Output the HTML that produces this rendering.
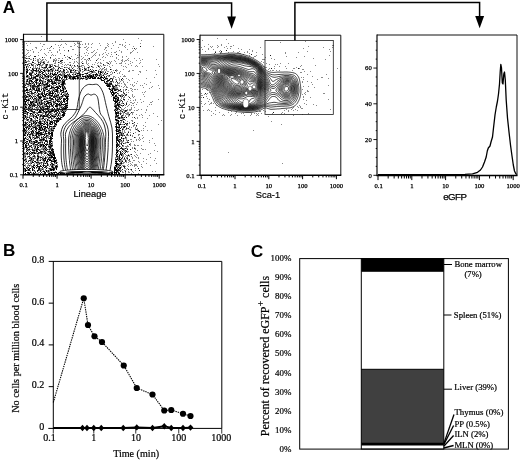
<!DOCTYPE html>
<html><head><meta charset="utf-8"><title>Figure</title>
<style>html,body{margin:0;padding:0;background:#fff}svg{display:block}</style>
</head><body>
<svg width="520" height="460" viewBox="0 0 520 460">
<rect width="520" height="460" fill="#fff"/>
<path d="M41 36.5h1M138 38.5h1M61 39.5h1M123 39.5h1M141 40.5h1M28 41.5h1M59 41.5h1M73 41.5h1M80 41.5h2M115 41.5h1M77 42.5h1M115 42.5h1M125 42.5h1M26 43.5h1M30 43.5h1M40 43.5h1M65 43.5h1M74 43.5h1M77 43.5h3M85 43.5h1M88 43.5h1M92 43.5h1M99 43.5h1M107 43.5h1M112 43.5h1M140 43.5h1M43 44.5h2M55 44.5h1M61 44.5h1M66 44.5h1M75 44.5h1M80 44.5h1M82 44.5h1M85 44.5h1M88 44.5h1M91 44.5h1M108 44.5h1M119 44.5h2M122 44.5h1M129 44.5h1M27 45.5h1M58 45.5h1M60 45.5h1M74 45.5h1M100 45.5h1M107 45.5h1M113 45.5h1M122 45.5h1M125 45.5h1M42 46.5h1M70 46.5h2M77 46.5h1M86 46.5h1M108 46.5h1M124 46.5h1M133 46.5h1M153 46.5h1M35 47.5h2M50 47.5h1M59 47.5h1M63 47.5h1M78 47.5h3M84 47.5h2M88 47.5h1M91 47.5h1M105 47.5h2M118 47.5h1M125 47.5h1M36 48.5h1M47 48.5h1M49 48.5h1M53 48.5h1M87 48.5h1M105 48.5h1M111 48.5h1M132 48.5h1M136 48.5h1M26 49.5h1M32 49.5h1M41 49.5h1M44 49.5h1M59 49.5h1M72 49.5h2M86 49.5h1M97 49.5h1M104 49.5h1M127 49.5h1M135 49.5h1M27 50.5h2M30 50.5h1M40 50.5h1M49 50.5h2M59 50.5h1M64 50.5h1M87 50.5h1M94 50.5h1M106 50.5h1M119 50.5h1M133 50.5h1M33 51.5h1M57 51.5h1M68 51.5h1M93 51.5h1M116 51.5h1M121 51.5h1M132 51.5h1M28 52.5h1M33 52.5h1M38 52.5h1M48 52.5h1M51 52.5h1M57 52.5h1M79 52.5h1M86 52.5h1M91 52.5h2M96 52.5h1M105 52.5h1M111 52.5h1M114 52.5h2M121 52.5h1M130 52.5h2M137 52.5h1M27 53.5h1M44 53.5h1M60 53.5h1M84 53.5h1M88 53.5h1M95 53.5h1M103 53.5h1M108 53.5h1M130 53.5h1M26 54.5h1M45 54.5h1M52 54.5h1M75 54.5h1M79 54.5h1M94 54.5h1M99 54.5h1M102 54.5h1M106 54.5h1M111 54.5h1M24 55.5h2M30 55.5h1M38 55.5h1M46 55.5h1M51 55.5h1M53 55.5h1M55 55.5h1M77 55.5h1M79 55.5h1M85 55.5h1M87 55.5h1M93 55.5h1M95 55.5h1M99 55.5h1M107 55.5h1M118 55.5h1M26 56.5h1M28 56.5h2M67 56.5h1M71 56.5h1M81 56.5h1M92 56.5h1M103 56.5h1M110 56.5h1M112 56.5h1M122 56.5h1M126 56.5h1M24 57.5h2M44 57.5h1M65 57.5h1M68 57.5h1M77 57.5h2M83 57.5h1M91 57.5h1M102 57.5h1M105 57.5h1M116 57.5h1M122 57.5h1M25 58.5h1M27 58.5h2M35 58.5h1M39 58.5h1M50 58.5h1M55 58.5h1M58 58.5h2M62 58.5h1M69 58.5h1M76 58.5h1M82 58.5h1M88 58.5h1M98 58.5h1M116 58.5h1M128 58.5h1M134 58.5h1M139 58.5h1M30 59.5h2M33 59.5h1M37 59.5h2M40 59.5h1M42 59.5h2M45 59.5h1M53 59.5h2M56 59.5h1M67 59.5h1M72 59.5h1M74 59.5h1M81 59.5h1M84 59.5h2M87 59.5h1M89 59.5h1M97 59.5h1M100 59.5h1M118 59.5h1M122 59.5h1M127 59.5h1M142 59.5h1M156 59.5h1M28 60.5h1M35 60.5h1M37 60.5h2M41 60.5h2M46 60.5h1M53 60.5h4M58 60.5h1M60 60.5h1M86 60.5h1M88 60.5h1M90 60.5h1M103 60.5h1M114 60.5h1M121 60.5h2M125 60.5h2M128 60.5h1M136 60.5h1M140 60.5h1M25 61.5h5M32 61.5h1M37 61.5h2M40 61.5h2M43 61.5h2M48 61.5h1M55 61.5h1M61 61.5h1M74 61.5h1M76 61.5h1M82 61.5h1M86 61.5h1M109 61.5h1M111 61.5h1M115 61.5h1M122 61.5h1M124 61.5h1M130 61.5h1M24 62.5h1M39 62.5h4M44 62.5h1M47 62.5h2M55 62.5h1M59 62.5h1M61 62.5h2M64 62.5h1M69 62.5h2M74 62.5h1M77 62.5h1M81 62.5h1M86 62.5h1M95 62.5h1M98 62.5h1M100 62.5h1M106 62.5h2M110 62.5h1M121 62.5h1M132 62.5h1M140 62.5h1M28 63.5h4M34 63.5h2M38 63.5h1M43 63.5h1M54 63.5h2M60 63.5h2M73 63.5h1M78 63.5h1M83 63.5h1M86 63.5h1M88 63.5h1M97 63.5h1M100 63.5h2M107 63.5h1M110 63.5h1M116 63.5h1M119 63.5h3M125 63.5h1M130 63.5h1M139 63.5h1M26 64.5h1M28 64.5h1M32 64.5h2M36 64.5h2M40 64.5h1M42 64.5h2M45 64.5h1M49 64.5h4M58 64.5h1M62 64.5h1M65 64.5h1M67 64.5h2M70 64.5h1M87 64.5h1M92 64.5h1M94 64.5h1M109 64.5h1M128 64.5h1M158 64.5h1M24 65.5h2M27 65.5h1M31 65.5h1M33 65.5h1M35 65.5h1M39 65.5h4M45 65.5h1M47 65.5h1M49 65.5h1M52 65.5h1M55 65.5h1M58 65.5h1M64 65.5h1M66 65.5h1M69 65.5h1M72 65.5h1M81 65.5h3M88 65.5h1M97 65.5h2M100 65.5h1M103 65.5h3M107 65.5h1M112 65.5h1M121 65.5h1M131 65.5h1M136 65.5h1M27 66.5h2M33 66.5h1M35 66.5h1M39 66.5h1M41 66.5h1M45 66.5h1M49 66.5h1M52 66.5h1M56 66.5h3M61 66.5h2M71 66.5h1M74 66.5h2M77 66.5h2M80 66.5h2M84 66.5h1M89 66.5h1M92 66.5h1M99 66.5h1M101 66.5h1M109 66.5h1M123 66.5h1M125 66.5h1M135 66.5h1M137 66.5h1M142 66.5h1M159 66.5h1M28 67.5h1M33 67.5h1M35 67.5h1M37 67.5h1M39 67.5h1M41 67.5h1M43 67.5h1M48 67.5h1M58 67.5h1M65 67.5h3M69 67.5h1M71 67.5h1M73 67.5h1M78 67.5h1M82 67.5h1M84 67.5h1M87 67.5h1M89 67.5h1M92 67.5h2M96 67.5h1M99 67.5h1M110 67.5h1M126 67.5h1M24 68.5h1M26 68.5h2M33 68.5h3M37 68.5h2M43 68.5h3M51 68.5h4M61 68.5h2M69 68.5h1M77 68.5h1M80 68.5h1M85 68.5h2M88 68.5h1M100 68.5h1M102 68.5h2M106 68.5h1M38 69.5h5M44 69.5h1M46 69.5h3M52 69.5h2M55 69.5h1M57 69.5h2M64 69.5h1M70 69.5h2M73 69.5h2M79 69.5h2M84 69.5h1M86 69.5h1M88 69.5h1M92 69.5h1M99 69.5h1M101 69.5h2M104 69.5h3M111 69.5h1M116 69.5h1M123 69.5h1M24 70.5h1M26 70.5h1M28 70.5h1M30 70.5h1M32 70.5h1M37 70.5h1M45 70.5h1M47 70.5h1M50 70.5h2M53 70.5h1M56 70.5h1M58 70.5h1M67 70.5h1M72 70.5h1M76 70.5h2M85 70.5h3M89 70.5h1M91 70.5h1M98 70.5h1M101 70.5h1M104 70.5h1M106 70.5h1M113 70.5h1M116 70.5h2M129 70.5h1M132 70.5h2M146 70.5h1M155 70.5h1M25 71.5h1M31 71.5h1M33 71.5h1M35 71.5h1M37 71.5h2M40 71.5h1M42 71.5h1M45 71.5h1M47 71.5h1M49 71.5h3M54 71.5h1M58 71.5h1M60 71.5h3M64 71.5h1M67 71.5h2M71 71.5h1M74 71.5h2M78 71.5h1M80 71.5h1M82 71.5h2M89 71.5h1M93 71.5h2M99 71.5h1M101 71.5h3M105 71.5h1M107 71.5h2M111 71.5h1M116 71.5h1M120 71.5h1M128 71.5h2M139 71.5h2M25 72.5h1M29 72.5h3M33 72.5h1M36 72.5h1M38 72.5h1M45 72.5h1M48 72.5h1M50 72.5h1M52 72.5h1M58 72.5h2M61 72.5h3M67 72.5h2M72 72.5h5M78 72.5h1M82 72.5h1M87 72.5h3M91 72.5h1M93 72.5h3M102 72.5h2M110 72.5h1M112 72.5h1M119 72.5h1M140 72.5h1M32 73.5h1M34 73.5h1M38 73.5h2M41 73.5h1M45 73.5h2M51 73.5h1M55 73.5h1M60 73.5h1M62 73.5h4M69 73.5h1M73 73.5h1M75 73.5h2M80 73.5h1M84 73.5h1M90 73.5h2M98 73.5h2M102 73.5h1M106 73.5h1M112 73.5h1M117 73.5h1M119 73.5h1M25 74.5h2M34 74.5h1M37 74.5h1M39 74.5h1M42 74.5h1M47 74.5h1M49 74.5h1M58 74.5h1M61 74.5h3M68 74.5h1M73 74.5h2M77 74.5h1M81 74.5h1M86 74.5h1M88 74.5h1M90 74.5h1M92 74.5h1M94 74.5h1M99 74.5h1M101 74.5h1M103 74.5h4M110 74.5h2M122 74.5h1M138 74.5h1M156 74.5h1M24 75.5h1M26 75.5h1M28 75.5h1M32 75.5h2M39 75.5h4M47 75.5h1M49 75.5h3M54 75.5h4M60 75.5h1M62 75.5h2M67 75.5h1M69 75.5h1M73 75.5h1M82 75.5h1M85 75.5h2M88 75.5h1M92 75.5h1M96 75.5h1M98 75.5h1M100 75.5h3M107 75.5h2M124 75.5h1M25 76.5h1M28 76.5h2M33 76.5h2M38 76.5h2M44 76.5h1M49 76.5h1M51 76.5h1M56 76.5h1M58 76.5h1M62 76.5h2M67 76.5h2M72 76.5h1M78 76.5h1M86 76.5h1M94 76.5h2M99 76.5h2M108 76.5h2M113 76.5h2M120 76.5h1M123 76.5h3M26 77.5h4M32 77.5h1M40 77.5h1M42 77.5h6M50 77.5h1M53 77.5h1M56 77.5h1M67 77.5h1M71 77.5h1M75 77.5h1M80 77.5h2M83 77.5h1M87 77.5h1M89 77.5h1M93 77.5h1M97 77.5h1M103 77.5h1M105 77.5h2M113 77.5h1M115 77.5h1M118 77.5h1M154 77.5h1M28 78.5h1M32 78.5h1M34 78.5h1M36 78.5h2M39 78.5h2M44 78.5h1M46 78.5h2M50 78.5h1M62 78.5h1M64 78.5h1M68 78.5h1M71 78.5h1M76 78.5h1M84 78.5h3M88 78.5h1M101 78.5h1M112 78.5h2M119 78.5h1M126 78.5h1M132 78.5h1M146 78.5h1M25 79.5h2M28 79.5h3M33 79.5h1M35 79.5h1M38 79.5h2M43 79.5h1M46 79.5h2M49 79.5h1M52 79.5h3M58 79.5h2M61 79.5h2M64 79.5h2M67 79.5h1M70 79.5h3M75 79.5h1M77 79.5h1M79 79.5h2M82 79.5h1M85 79.5h1M87 79.5h1M100 79.5h1M105 79.5h3M110 79.5h1M115 79.5h2M119 79.5h1M123 79.5h1M128 79.5h1M26 80.5h1M42 80.5h2M52 80.5h1M54 80.5h1M63 80.5h1M65 80.5h1M104 80.5h1M116 80.5h1M119 80.5h1M121 80.5h2M129 80.5h1M25 81.5h1M28 81.5h1M30 81.5h1M35 81.5h1M40 81.5h2M43 81.5h2M47 81.5h1M53 81.5h1M56 81.5h1M58 81.5h4M108 81.5h1M112 81.5h2M120 81.5h1M123 81.5h1M137 81.5h1M24 82.5h1M26 82.5h1M28 82.5h1M31 82.5h2M37 82.5h2M43 82.5h3M48 82.5h2M51 82.5h1M53 82.5h1M56 82.5h6M105 82.5h3M109 82.5h3M113 82.5h1M115 82.5h1M119 82.5h1M123 82.5h1M127 82.5h1M134 82.5h1M150 82.5h1M24 83.5h2M27 83.5h2M31 83.5h1M33 83.5h2M37 83.5h2M41 83.5h1M43 83.5h1M45 83.5h1M48 83.5h1M56 83.5h1M61 83.5h1M65 83.5h1M108 83.5h1M117 83.5h3M121 83.5h1M124 83.5h1M136 83.5h1M144 83.5h1M25 84.5h2M29 84.5h3M33 84.5h1M38 84.5h1M41 84.5h2M53 84.5h1M58 84.5h1M60 84.5h1M64 84.5h2M106 84.5h1M112 84.5h1M115 84.5h1M117 84.5h1M124 84.5h2M130 84.5h1M132 84.5h1M146 84.5h1M24 85.5h1M28 85.5h2M31 85.5h1M35 85.5h1M41 85.5h3M45 85.5h2M50 85.5h2M53 85.5h3M58 85.5h1M61 85.5h1M110 85.5h1M113 85.5h1M117 85.5h3M125 85.5h1M132 85.5h1M134 85.5h1M140 85.5h1M142 85.5h1M158 85.5h1M27 86.5h2M31 86.5h1M39 86.5h1M41 86.5h1M43 86.5h3M52 86.5h2M58 86.5h1M61 86.5h1M63 86.5h1M115 86.5h2M119 86.5h1M121 86.5h1M124 86.5h1M126 86.5h1M133 86.5h1M152 86.5h1M30 87.5h2M34 87.5h3M38 87.5h2M41 87.5h1M43 87.5h1M47 87.5h1M54 87.5h1M63 87.5h1M65 87.5h1M109 87.5h1M112 87.5h1M114 87.5h4M123 87.5h1M126 87.5h2M143 87.5h1M151 87.5h1M26 88.5h2M37 88.5h1M41 88.5h2M44 88.5h1M46 88.5h2M49 88.5h1M52 88.5h2M64 88.5h1M108 88.5h1M111 88.5h1M115 88.5h3M130 88.5h2M149 88.5h1M159 88.5h1M24 89.5h1M31 89.5h2M37 89.5h1M44 89.5h2M49 89.5h1M52 89.5h3M62 89.5h1M64 89.5h2M111 89.5h1M113 89.5h1M118 89.5h1M123 89.5h1M125 89.5h1M132 89.5h1M134 89.5h2M137 89.5h1M28 90.5h2M31 90.5h2M34 90.5h1M41 90.5h1M45 90.5h1M51 90.5h2M54 90.5h2M58 90.5h1M110 90.5h1M116 90.5h1M120 90.5h1M123 90.5h1M125 90.5h1M128 90.5h1M131 90.5h1M25 91.5h1M27 91.5h1M29 91.5h1M35 91.5h1M38 91.5h1M42 91.5h2M46 91.5h1M48 91.5h2M51 91.5h1M58 91.5h1M61 91.5h1M64 91.5h1M113 91.5h1M117 91.5h2M120 91.5h1M123 91.5h1M132 91.5h1M145 91.5h1M24 92.5h1M29 92.5h1M32 92.5h1M41 92.5h1M48 92.5h1M53 92.5h2M58 92.5h2M61 92.5h1M64 92.5h2M67 92.5h1M110 92.5h1M114 92.5h1M126 92.5h1M128 92.5h1M142 92.5h1M144 92.5h1M25 93.5h1M27 93.5h1M29 93.5h2M34 93.5h1M36 93.5h1M39 93.5h2M43 93.5h1M48 93.5h1M57 93.5h1M59 93.5h1M64 93.5h3M115 93.5h1M118 93.5h1M123 93.5h1M25 94.5h1M29 94.5h1M31 94.5h2M34 94.5h2M37 94.5h1M40 94.5h1M50 94.5h1M54 94.5h4M60 94.5h1M64 94.5h2M67 94.5h1M111 94.5h1M114 94.5h1M116 94.5h1M118 94.5h1M121 94.5h2M124 94.5h2M132 94.5h1M143 94.5h1M24 95.5h1M26 95.5h1M28 95.5h1M32 95.5h1M34 95.5h1M36 95.5h1M40 95.5h1M46 95.5h1M48 95.5h1M55 95.5h1M63 95.5h1M66 95.5h3M118 95.5h1M121 95.5h2M126 95.5h1M132 95.5h1M25 96.5h1M28 96.5h1M30 96.5h1M34 96.5h1M37 96.5h1M41 96.5h2M49 96.5h2M52 96.5h1M57 96.5h4M63 96.5h1M111 96.5h1M113 96.5h2M117 96.5h1M121 96.5h1M124 96.5h1M128 96.5h1M132 96.5h1M134 96.5h1M144 96.5h1M24 97.5h1M27 97.5h2M30 97.5h2M34 97.5h1M43 97.5h5M55 97.5h2M58 97.5h1M60 97.5h3M115 97.5h2M121 97.5h1M123 97.5h2M133 97.5h1M28 98.5h2M36 98.5h3M43 98.5h1M45 98.5h2M48 98.5h1M57 98.5h2M60 98.5h1M65 98.5h1M68 98.5h1M117 98.5h1M121 98.5h1M123 98.5h1M130 98.5h1M27 99.5h1M29 99.5h1M31 99.5h1M34 99.5h2M37 99.5h1M39 99.5h3M46 99.5h1M50 99.5h1M56 99.5h1M59 99.5h1M68 99.5h1M116 99.5h1M120 99.5h1M128 99.5h1M135 99.5h1M140 99.5h1M158 99.5h1M33 100.5h3M37 100.5h1M39 100.5h2M46 100.5h3M51 100.5h1M53 100.5h1M55 100.5h1M58 100.5h2M61 100.5h1M114 100.5h1M116 100.5h1M119 100.5h2M124 100.5h1M130 100.5h1M133 100.5h1M135 100.5h1M28 101.5h1M31 101.5h1M34 101.5h2M37 101.5h4M45 101.5h1M48 101.5h1M50 101.5h3M54 101.5h1M60 101.5h1M65 101.5h2M119 101.5h2M127 101.5h1M143 101.5h1M152 101.5h1M27 102.5h2M33 102.5h2M37 102.5h2M40 102.5h1M42 102.5h4M51 102.5h1M55 102.5h1M58 102.5h1M61 102.5h1M117 102.5h2M122 102.5h1M126 102.5h1M130 102.5h2M134 102.5h1M137 102.5h1M141 102.5h1M150 102.5h2M24 103.5h1M27 103.5h2M32 103.5h1M34 103.5h1M38 103.5h1M40 103.5h1M43 103.5h1M49 103.5h2M53 103.5h2M60 103.5h1M114 103.5h1M118 103.5h2M121 103.5h2M132 103.5h2M30 104.5h1M32 104.5h1M35 104.5h1M38 104.5h2M42 104.5h1M48 104.5h2M54 104.5h1M60 104.5h1M66 104.5h2M114 104.5h3M120 104.5h1M124 104.5h1M129 104.5h1M136 104.5h1M149 104.5h1M151 104.5h1M24 105.5h4M31 105.5h1M36 105.5h2M39 105.5h2M42 105.5h4M47 105.5h1M53 105.5h1M58 105.5h1M61 105.5h1M63 105.5h1M114 105.5h1M119 105.5h2M122 105.5h1M125 105.5h1M128 105.5h1M131 105.5h1M133 105.5h1M26 106.5h1M28 106.5h1M30 106.5h2M33 106.5h1M40 106.5h2M43 106.5h2M50 106.5h2M53 106.5h1M59 106.5h4M67 106.5h1M122 106.5h1M127 106.5h1M147 106.5h1M29 107.5h1M31 107.5h2M35 107.5h1M37 107.5h3M41 107.5h1M44 107.5h1M48 107.5h1M56 107.5h2M59 107.5h2M62 107.5h1M64 107.5h1M117 107.5h3M125 107.5h1M131 107.5h1M134 107.5h1M25 108.5h3M30 108.5h2M34 108.5h1M36 108.5h3M42 108.5h1M44 108.5h1M49 108.5h1M51 108.5h1M56 108.5h1M58 108.5h1M61 108.5h1M115 108.5h1M121 108.5h1M124 108.5h1M131 108.5h1M27 109.5h1M29 109.5h2M35 109.5h1M38 109.5h1M45 109.5h2M51 109.5h1M53 109.5h1M56 109.5h2M114 109.5h1M116 109.5h1M118 109.5h1M121 109.5h3M127 109.5h1M129 109.5h3M138 109.5h1M141 109.5h1M146 109.5h1M24 110.5h1M29 110.5h1M32 110.5h1M35 110.5h2M41 110.5h1M45 110.5h1M47 110.5h1M49 110.5h2M54 110.5h1M60 110.5h2M63 110.5h4M115 110.5h1M117 110.5h1M121 110.5h1M123 110.5h2M127 110.5h1M129 110.5h2M134 110.5h1M136 110.5h2M146 110.5h1M29 111.5h2M33 111.5h1M38 111.5h1M41 111.5h1M45 111.5h1M53 111.5h1M59 111.5h2M62 111.5h1M64 111.5h1M117 111.5h5M124 111.5h1M126 111.5h1M24 112.5h3M32 112.5h1M35 112.5h3M42 112.5h3M47 112.5h2M51 112.5h1M56 112.5h1M61 112.5h1M120 112.5h1M122 112.5h2M127 112.5h2M132 112.5h2M145 112.5h1M26 113.5h1M29 113.5h1M32 113.5h3M36 113.5h1M42 113.5h2M46 113.5h1M49 113.5h4M55 113.5h1M57 113.5h2M60 113.5h1M65 113.5h1M119 113.5h1M121 113.5h1M123 113.5h1M125 113.5h4M130 113.5h1M132 113.5h1M153 113.5h1M26 114.5h1M33 114.5h1M37 114.5h1M39 114.5h4M46 114.5h1M51 114.5h1M53 114.5h2M60 114.5h1M115 114.5h1M118 114.5h1M123 114.5h1M126 114.5h3M132 114.5h1M136 114.5h1M141 114.5h1M27 115.5h1M29 115.5h4M34 115.5h1M37 115.5h1M42 115.5h1M45 115.5h1M48 115.5h1M53 115.5h5M59 115.5h3M115 115.5h1M121 115.5h1M123 115.5h1M125 115.5h1M128 115.5h2M139 115.5h1M142 115.5h1M149 115.5h1M24 116.5h1M26 116.5h2M29 116.5h4M34 116.5h1M39 116.5h1M41 116.5h1M48 116.5h1M51 116.5h1M59 116.5h2M62 116.5h1M118 116.5h1M122 116.5h1M125 116.5h1M128 116.5h1M157 116.5h1M24 117.5h1M26 117.5h1M28 117.5h1M35 117.5h1M39 117.5h2M42 117.5h1M47 117.5h1M51 117.5h1M53 117.5h1M56 117.5h1M62 117.5h1M116 117.5h2M120 117.5h1M123 117.5h1M132 117.5h1M137 117.5h1M142 117.5h1M29 118.5h1M34 118.5h2M39 118.5h3M45 118.5h2M48 118.5h2M52 118.5h2M55 118.5h1M115 118.5h1M117 118.5h1M120 118.5h4M135 118.5h1M137 118.5h1M147 118.5h1M24 119.5h3M30 119.5h1M32 119.5h1M35 119.5h1M40 119.5h3M45 119.5h1M48 119.5h1M51 119.5h2M56 119.5h1M58 119.5h1M61 119.5h1M117 119.5h1M122 119.5h1M26 120.5h1M28 120.5h1M32 120.5h4M39 120.5h2M42 120.5h2M48 120.5h1M51 120.5h1M59 120.5h1M115 120.5h1M122 120.5h1M125 120.5h1M131 120.5h2M161 120.5h1M25 121.5h1M28 121.5h5M34 121.5h1M37 121.5h1M41 121.5h3M45 121.5h3M49 121.5h1M55 121.5h1M116 121.5h2M119 121.5h1M121 121.5h1M127 121.5h1M132 121.5h1M24 122.5h1M26 122.5h1M30 122.5h2M35 122.5h1M37 122.5h1M41 122.5h1M49 122.5h1M53 122.5h1M57 122.5h1M115 122.5h2M120 122.5h2M124 122.5h1M129 122.5h1M145 122.5h1M28 123.5h1M32 123.5h1M34 123.5h1M38 123.5h1M43 123.5h2M56 123.5h1M120 123.5h1M126 123.5h1M129 123.5h1M133 123.5h1M137 123.5h1M26 124.5h1M30 124.5h1M32 124.5h1M34 124.5h1M37 124.5h3M41 124.5h1M48 124.5h2M52 124.5h1M54 124.5h1M115 124.5h1M121 124.5h3M127 124.5h1M134 124.5h1M158 124.5h1M26 125.5h1M33 125.5h4M40 125.5h1M48 125.5h2M55 125.5h2M118 125.5h1M126 125.5h2M133 125.5h2M143 125.5h1M24 126.5h3M28 126.5h1M31 126.5h1M33 126.5h2M36 126.5h3M40 126.5h1M52 126.5h1M117 126.5h2M121 126.5h3M129 126.5h1M133 126.5h1M136 126.5h1M145 126.5h1M28 127.5h3M32 127.5h1M38 127.5h1M42 127.5h3M51 127.5h4M115 127.5h1M126 127.5h1M129 127.5h1M131 127.5h1M135 127.5h1M32 128.5h2M41 128.5h1M47 128.5h1M49 128.5h2M52 128.5h1M118 128.5h2M122 128.5h2M127 128.5h1M135 128.5h1M137 128.5h1M143 128.5h1M25 129.5h2M30 129.5h1M33 129.5h1M41 129.5h1M45 129.5h2M48 129.5h3M52 129.5h2M118 129.5h1M123 129.5h1M125 129.5h2M129 129.5h2M135 129.5h1M137 129.5h1M26 130.5h2M29 130.5h1M33 130.5h2M38 130.5h2M42 130.5h2M45 130.5h1M48 130.5h1M50 130.5h1M115 130.5h1M117 130.5h1M122 130.5h1M124 130.5h1M130 130.5h1M137 130.5h1M141 130.5h1M143 130.5h1M147 130.5h1M151 130.5h1M25 131.5h1M28 131.5h1M30 131.5h1M36 131.5h1M43 131.5h2M47 131.5h7M119 131.5h2M122 131.5h1M124 131.5h1M128 131.5h1M138 131.5h1M24 132.5h1M26 132.5h3M32 132.5h1M35 132.5h1M39 132.5h1M42 132.5h1M116 132.5h1M118 132.5h1M121 132.5h2M124 132.5h2M130 132.5h1M135 132.5h1M24 133.5h1M26 133.5h1M30 133.5h1M33 133.5h3M42 133.5h1M44 133.5h1M47 133.5h1M119 133.5h2M122 133.5h1M127 133.5h1M25 134.5h1M28 134.5h1M31 134.5h1M33 134.5h1M35 134.5h1M37 134.5h1M39 134.5h1M45 134.5h2M48 134.5h1M117 134.5h1M119 134.5h2M122 134.5h2M126 134.5h1M130 134.5h1M138 134.5h2M29 135.5h2M34 135.5h1M40 135.5h2M48 135.5h1M50 135.5h1M120 135.5h1M123 135.5h1M126 135.5h3M132 135.5h1M138 135.5h1M142 135.5h1M26 136.5h1M28 136.5h1M30 136.5h1M32 136.5h1M34 136.5h1M38 136.5h2M41 136.5h1M45 136.5h1M47 136.5h3M51 136.5h1M122 136.5h1M125 136.5h1M132 136.5h1M27 137.5h1M32 137.5h1M34 137.5h2M39 137.5h1M42 137.5h2M46 137.5h3M118 137.5h2M126 137.5h1M135 137.5h1M139 137.5h1M143 137.5h1M26 138.5h1M28 138.5h1M32 138.5h1M36 138.5h2M41 138.5h2M44 138.5h1M48 138.5h1M118 138.5h1M122 138.5h1M124 138.5h3M139 138.5h1M142 138.5h1M152 138.5h1M26 139.5h1M28 139.5h1M30 139.5h1M33 139.5h2M39 139.5h1M46 139.5h1M118 139.5h1M123 139.5h1M126 139.5h1M130 139.5h2M136 139.5h1M138 139.5h1M140 139.5h1M25 140.5h1M28 140.5h1M31 140.5h1M37 140.5h1M42 140.5h1M44 140.5h1M47 140.5h1M51 140.5h1M119 140.5h2M126 140.5h2M136 140.5h1M139 140.5h1M149 140.5h1M24 141.5h1M30 141.5h1M32 141.5h1M35 141.5h1M40 141.5h3M52 141.5h1M120 141.5h4M127 141.5h1M131 141.5h1M133 141.5h1M143 141.5h1M24 142.5h1M26 142.5h2M30 142.5h4M37 142.5h1M41 142.5h1M52 142.5h1M117 142.5h1M121 142.5h2M125 142.5h2M149 142.5h1M27 143.5h1M30 143.5h1M32 143.5h1M37 143.5h1M39 143.5h2M42 143.5h1M46 143.5h2M50 143.5h1M52 143.5h1M116 143.5h1M119 143.5h2M124 143.5h2M130 143.5h1M154 143.5h1M26 144.5h1M32 144.5h1M34 144.5h1M39 144.5h1M48 144.5h1M51 144.5h2M119 144.5h1M130 144.5h1M134 144.5h1M27 145.5h4M33 145.5h5M39 145.5h1M42 145.5h1M48 145.5h2M119 145.5h1M123 145.5h1M127 145.5h1M130 145.5h1M134 145.5h2M137 145.5h2M141 145.5h1M155 145.5h1M31 146.5h1M33 146.5h2M39 146.5h1M41 146.5h2M44 146.5h1M52 146.5h1M120 146.5h1M122 146.5h2M125 146.5h4M24 147.5h1M27 147.5h1M29 147.5h1M32 147.5h1M34 147.5h1M40 147.5h1M42 147.5h3M46 147.5h1M48 147.5h1M51 147.5h1M118 147.5h1M126 147.5h1M132 147.5h1M134 147.5h1M24 148.5h1M26 148.5h1M29 148.5h1M32 148.5h1M35 148.5h2M41 148.5h3M45 148.5h1M49 148.5h1M51 148.5h1M116 148.5h2M123 148.5h2M126 148.5h2M132 148.5h1M135 148.5h1M141 148.5h1M24 149.5h1M27 149.5h1M30 149.5h2M33 149.5h3M39 149.5h4M44 149.5h1M46 149.5h1M48 149.5h1M50 149.5h1M117 149.5h1M124 149.5h1M135 149.5h1M142 149.5h2M145 149.5h1M26 150.5h1M28 150.5h2M35 150.5h1M37 150.5h1M40 150.5h1M43 150.5h3M49 150.5h1M53 150.5h1M121 150.5h1M123 150.5h2M126 150.5h1M137 150.5h1M154 150.5h1M28 151.5h1M33 151.5h2M43 151.5h1M45 151.5h1M47 151.5h1M51 151.5h1M116 151.5h1M118 151.5h2M124 151.5h2M127 151.5h2M134 151.5h1M157 151.5h1M24 152.5h2M35 152.5h2M42 152.5h3M46 152.5h1M48 152.5h2M121 152.5h1M123 152.5h1M127 152.5h1M135 152.5h1M25 153.5h1M28 153.5h2M31 153.5h1M33 153.5h1M36 153.5h1M39 153.5h2M42 153.5h1M46 153.5h2M54 153.5h1M118 153.5h1M121 153.5h1M140 153.5h1M150 153.5h1M24 154.5h3M33 154.5h1M37 154.5h2M41 154.5h1M43 154.5h1M49 154.5h1M51 154.5h1M115 154.5h2M119 154.5h1M122 154.5h2M125 154.5h1M128 154.5h1M130 154.5h1M136 154.5h1M148 154.5h1M24 155.5h2M29 155.5h2M33 155.5h1M38 155.5h1M41 155.5h1M44 155.5h1M46 155.5h1M52 155.5h1M117 155.5h1M122 155.5h2M126 155.5h2M129 155.5h1M134 155.5h1M137 155.5h1M24 156.5h1M27 156.5h1M32 156.5h1M35 156.5h1M39 156.5h2M42 156.5h2M45 156.5h1M47 156.5h1M49 156.5h2M118 156.5h1M122 156.5h2M125 156.5h1M127 156.5h1M129 156.5h1M131 156.5h1M135 156.5h1M24 157.5h2M27 157.5h1M29 157.5h1M31 157.5h2M34 157.5h2M37 157.5h1M39 157.5h1M42 157.5h2M46 157.5h3M115 157.5h4M120 157.5h1M124 157.5h1M126 157.5h2M132 157.5h1M136 157.5h1M138 157.5h1M150 157.5h1M25 158.5h2M30 158.5h1M32 158.5h1M34 158.5h2M40 158.5h1M43 158.5h1M46 158.5h1M49 158.5h3M115 158.5h1M118 158.5h1M122 158.5h1M126 158.5h1M132 158.5h1M138 158.5h1M143 158.5h1M155 158.5h1M24 159.5h1M26 159.5h1M30 159.5h1M32 159.5h2M36 159.5h1M38 159.5h1M40 159.5h3M44 159.5h1M52 159.5h1M56 159.5h1M118 159.5h1M121 159.5h1M123 159.5h3M127 159.5h1M146 159.5h1M25 160.5h2M28 160.5h1M31 160.5h2M36 160.5h1M38 160.5h2M42 160.5h1M52 160.5h2M115 160.5h2M119 160.5h4M126 160.5h1M128 160.5h2M133 160.5h2M154 160.5h1M25 161.5h1M30 161.5h2M37 161.5h2M43 161.5h1M48 161.5h1M56 161.5h1M117 161.5h1M120 161.5h2M126 161.5h1M129 161.5h2M138 161.5h1M143 161.5h1M25 162.5h1M27 162.5h1M30 162.5h2M35 162.5h1M39 162.5h2M42 162.5h3M47 162.5h1M50 162.5h2M55 162.5h1M57 162.5h1M115 162.5h1M120 162.5h1M123 162.5h2M126 162.5h1M128 162.5h1M132 162.5h1M139 162.5h1M24 163.5h1M26 163.5h5M34 163.5h1M36 163.5h3M40 163.5h2M44 163.5h1M46 163.5h1M54 163.5h2M118 163.5h2M122 163.5h2M130 163.5h1M146 163.5h1M156 163.5h1M25 164.5h1M28 164.5h1M30 164.5h1M33 164.5h2M38 164.5h2M41 164.5h1M48 164.5h1M51 164.5h1M54 164.5h1M57 164.5h1M119 164.5h3M128 164.5h1M131 164.5h1M134 164.5h3M141 164.5h1M25 165.5h1M27 165.5h2M30 165.5h2M42 165.5h1M45 165.5h2M48 165.5h1M50 165.5h2M53 165.5h3M57 165.5h1M117 165.5h2M122 165.5h3M127 165.5h1M130 165.5h1M132 165.5h1M134 165.5h3M150 165.5h1M25 166.5h1M27 166.5h1M29 166.5h1M31 166.5h1M35 166.5h1M49 166.5h1M53 166.5h1M114 166.5h2M117 166.5h3M121 166.5h1M125 166.5h1M128 166.5h1M134 166.5h1M137 166.5h1M141 166.5h1M27 167.5h1M31 167.5h2M37 167.5h2M46 167.5h2M51 167.5h1M54 167.5h1M57 167.5h1M116 167.5h2M119 167.5h1M121 167.5h1M142 167.5h1M25 168.5h2M36 168.5h1M40 168.5h4M48 168.5h1M51 168.5h2M55 168.5h1M124 168.5h2M127 168.5h1M135 168.5h1M24 169.5h1M27 169.5h1M33 169.5h1M40 169.5h2M43 169.5h1M45 169.5h1M49 169.5h1M117 169.5h1M119 169.5h2M126 169.5h1M130 169.5h1M24 170.5h1M27 170.5h1M30 170.5h1M33 170.5h1M39 170.5h1M41 170.5h1M43 170.5h1M45 170.5h1M47 170.5h1M49 170.5h1M52 170.5h1M54 170.5h1M120 170.5h2M124 170.5h2M131 170.5h1M135 170.5h1M24 171.5h1M30 171.5h1M34 171.5h2M42 171.5h1M47 171.5h1M49 171.5h1M55 171.5h1M61 171.5h1M65 171.5h1M67 171.5h1M75 171.5h1M82 171.5h1M87 171.5h1M97 171.5h3M110 171.5h1M112 171.5h1M118 171.5h1M122 171.5h1M128 171.5h1M132 171.5h1M152 171.5h1M155 171.5h1M29 172.5h1M31 172.5h1M38 172.5h2M47 172.5h4M52 172.5h1M58 172.5h1M63 172.5h1M67 172.5h1M72 172.5h1M78 172.5h2M88 172.5h1M91 172.5h1M93 172.5h1M97 172.5h1M100 172.5h1M102 172.5h1M108 172.5h1M113 172.5h1M117 172.5h1M119 172.5h1M122 172.5h2M125 172.5h1M128 172.5h2M133 172.5h1M27 173.5h1M31 173.5h2M35 173.5h4M42 173.5h2M50 173.5h1M53 173.5h1M56 173.5h1M59 173.5h1M69 173.5h2M74 173.5h1M81 173.5h1M85 173.5h1M97 173.5h1M102 173.5h1M110 173.5h1M115 173.5h1M125 173.5h1M131 173.5h1M138 173.5h1" stroke="#8a8a8a" stroke-width="1" fill="none"/>
<path d="M51 46.5h1M140 46.5h1M134 48.5h1M68 50.5h1M116 54.5h1M64 55.5h1M34 56.5h2M42 57.5h1M50 57.5h1M69 57.5h1M26 58.5h1M29 58.5h1M33 58.5h1M70 58.5h1M89 58.5h1M33 60.5h1M61 60.5h2M96 60.5h1M53 61.5h1M25 62.5h2M33 62.5h1M38 62.5h1M58 62.5h1M44 63.5h1M108 63.5h1M27 64.5h1M46 64.5h2M103 64.5h1M29 65.5h1M32 65.5h1M37 65.5h1M46 65.5h1M50 65.5h1M54 65.5h1M70 65.5h1M74 65.5h1M77 65.5h1M26 66.5h1M50 66.5h2M55 66.5h1M79 66.5h1M91 66.5h1M30 67.5h1M42 67.5h1M44 67.5h3M49 67.5h2M53 67.5h1M59 67.5h1M64 67.5h1M104 67.5h1M32 68.5h1M36 68.5h1M39 68.5h1M47 68.5h1M60 68.5h1M68 68.5h1M72 68.5h1M79 68.5h1M84 68.5h1M24 69.5h4M29 69.5h1M32 69.5h2M63 69.5h1M66 69.5h1M69 69.5h1M82 69.5h1M90 69.5h1M27 70.5h1M31 70.5h1M34 70.5h1M36 70.5h1M40 70.5h1M46 70.5h1M49 70.5h1M52 70.5h1M55 70.5h1M60 70.5h1M63 70.5h2M70 70.5h2M73 70.5h1M80 70.5h1M84 70.5h1M88 70.5h1M93 70.5h1M95 70.5h2M115 70.5h1M27 71.5h1M32 71.5h1M36 71.5h1M39 71.5h1M48 71.5h1M52 71.5h1M63 71.5h1M90 71.5h1M92 71.5h1M26 72.5h1M39 72.5h2M42 72.5h2M55 72.5h1M57 72.5h1M64 72.5h1M66 72.5h1M70 72.5h2M79 72.5h1M92 72.5h1M98 72.5h1M105 72.5h1M26 73.5h1M29 73.5h3M52 73.5h1M54 73.5h1M79 73.5h1M85 73.5h2M96 73.5h1M100 73.5h1M104 73.5h1M30 74.5h2M40 74.5h1M44 74.5h1M50 74.5h1M53 74.5h1M60 74.5h1M64 74.5h1M67 74.5h1M69 74.5h1M72 74.5h1M79 74.5h1M83 74.5h1M89 74.5h1M93 74.5h1M97 74.5h1M100 74.5h1M30 75.5h2M37 75.5h2M44 75.5h1M48 75.5h1M61 75.5h1M68 75.5h1M70 75.5h1M76 75.5h5M89 75.5h2M95 75.5h1M97 75.5h1M109 75.5h1M24 76.5h1M31 76.5h1M35 76.5h2M40 76.5h1M45 76.5h3M50 76.5h1M52 76.5h1M57 76.5h1M70 76.5h2M73 76.5h3M77 76.5h1M80 76.5h1M84 76.5h1M89 76.5h1M92 76.5h1M104 76.5h1M106 76.5h1M24 77.5h2M33 77.5h1M39 77.5h1M51 77.5h1M54 77.5h1M57 77.5h1M60 77.5h1M62 77.5h1M66 77.5h1M70 77.5h1M72 77.5h1M78 77.5h1M86 77.5h1M91 77.5h1M25 78.5h1M29 78.5h1M31 78.5h1M33 78.5h1M43 78.5h1M53 78.5h1M55 78.5h1M59 78.5h1M66 78.5h1M69 78.5h2M78 78.5h1M80 78.5h1M82 78.5h1M87 78.5h1M90 78.5h1M95 78.5h1M97 78.5h1M100 78.5h1M107 78.5h1M110 78.5h2M122 78.5h1M24 79.5h1M32 79.5h1M40 79.5h1M45 79.5h1M50 79.5h2M55 79.5h1M57 79.5h1M63 79.5h1M66 79.5h1M73 79.5h1M27 80.5h1M29 80.5h2M35 80.5h1M39 80.5h3M48 80.5h2M55 80.5h4M64 80.5h1M101 80.5h1M107 80.5h1M109 80.5h1M112 80.5h1M26 81.5h2M29 81.5h1M32 81.5h1M34 81.5h1M36 81.5h1M39 81.5h1M42 81.5h1M45 81.5h1M48 81.5h5M54 81.5h1M62 81.5h1M107 81.5h1M110 81.5h2M116 81.5h1M25 82.5h1M29 82.5h1M35 82.5h1M42 82.5h1M54 82.5h2M64 82.5h1M104 82.5h1M117 82.5h1M32 83.5h1M39 83.5h1M46 83.5h1M51 83.5h2M59 83.5h1M64 83.5h1M107 83.5h1M109 83.5h2M24 84.5h1M27 84.5h2M36 84.5h1M43 84.5h3M47 84.5h1M49 84.5h1M52 84.5h1M107 84.5h5M25 85.5h1M32 85.5h3M37 85.5h1M39 85.5h2M44 85.5h1M47 85.5h3M59 85.5h1M62 85.5h2M106 85.5h2M112 85.5h1M115 85.5h1M30 86.5h1M32 86.5h7M46 86.5h1M51 86.5h1M56 86.5h2M62 86.5h1M64 86.5h1M110 86.5h1M112 86.5h3M24 87.5h3M32 87.5h2M37 87.5h1M45 87.5h1M52 87.5h1M56 87.5h2M64 87.5h1M30 88.5h1M32 88.5h3M36 88.5h1M39 88.5h1M43 88.5h1M45 88.5h1M51 88.5h1M54 88.5h1M58 88.5h2M62 88.5h1M112 88.5h1M114 88.5h1M29 89.5h1M33 89.5h2M38 89.5h2M43 89.5h1M47 89.5h1M55 89.5h2M60 89.5h1M109 89.5h1M114 89.5h4M120 89.5h1M126 89.5h1M24 90.5h2M27 90.5h1M35 90.5h1M37 90.5h1M39 90.5h1M43 90.5h1M49 90.5h1M57 90.5h1M60 90.5h1M62 90.5h2M114 90.5h1M118 90.5h2M24 91.5h1M30 91.5h2M37 91.5h1M39 91.5h2M44 91.5h1M50 91.5h1M54 91.5h2M57 91.5h1M60 91.5h1M121 91.5h1M27 92.5h1M31 92.5h1M34 92.5h1M37 92.5h1M42 92.5h1M49 92.5h2M57 92.5h1M63 92.5h1M111 92.5h1M123 92.5h1M31 93.5h3M41 93.5h2M44 93.5h1M46 93.5h2M61 93.5h1M117 93.5h1M124 93.5h1M27 94.5h2M38 94.5h2M41 94.5h1M44 94.5h2M48 94.5h2M52 94.5h1M58 94.5h1M63 94.5h1M66 94.5h1M68 94.5h1M113 94.5h1M126 94.5h1M25 95.5h1M29 95.5h2M38 95.5h1M45 95.5h1M47 95.5h1M49 95.5h2M54 95.5h1M56 95.5h3M64 95.5h2M113 95.5h1M116 95.5h1M119 95.5h2M123 95.5h1M125 95.5h1M33 96.5h1M35 96.5h1M38 96.5h3M51 96.5h1M53 96.5h3M62 96.5h1M66 96.5h1M68 96.5h1M116 96.5h1M120 96.5h1M122 96.5h1M25 97.5h2M32 97.5h1M36 97.5h1M38 97.5h1M49 97.5h2M53 97.5h2M57 97.5h1M66 97.5h1M117 97.5h2M129 97.5h1M25 98.5h1M32 98.5h1M34 98.5h1M44 98.5h1M49 98.5h3M61 98.5h1M63 98.5h2M113 98.5h1M25 99.5h2M36 99.5h1M38 99.5h1M44 99.5h2M51 99.5h3M55 99.5h1M57 99.5h2M63 99.5h2M113 99.5h1M115 99.5h1M118 99.5h1M123 99.5h2M26 100.5h1M29 100.5h1M36 100.5h1M38 100.5h1M41 100.5h2M49 100.5h2M56 100.5h2M63 100.5h2M115 100.5h1M121 100.5h1M26 101.5h1M32 101.5h2M41 101.5h1M46 101.5h1M53 101.5h1M55 101.5h1M58 101.5h1M61 101.5h1M64 101.5h1M67 101.5h1M122 101.5h1M35 102.5h1M41 102.5h1M47 102.5h1M53 102.5h2M60 102.5h1M62 102.5h1M64 102.5h1M67 102.5h1M30 103.5h2M33 103.5h1M37 103.5h1M39 103.5h1M41 103.5h2M44 103.5h1M47 103.5h1M55 103.5h3M65 103.5h1M115 103.5h1M126 103.5h1M24 104.5h2M28 104.5h2M33 104.5h2M37 104.5h1M40 104.5h2M44 104.5h3M50 104.5h1M53 104.5h1M57 104.5h1M63 104.5h3M118 104.5h1M126 104.5h1M32 105.5h4M38 105.5h1M46 105.5h1M49 105.5h1M51 105.5h2M55 105.5h1M57 105.5h1M59 105.5h1M65 105.5h1M115 105.5h3M121 105.5h1M29 106.5h1M32 106.5h1M34 106.5h1M37 106.5h1M42 106.5h1M45 106.5h2M48 106.5h2M52 106.5h1M57 106.5h1M64 106.5h3M114 106.5h1M116 106.5h1M118 106.5h2M28 107.5h1M30 107.5h1M36 107.5h1M42 107.5h2M47 107.5h1M49 107.5h1M61 107.5h1M63 107.5h1M66 107.5h1M115 107.5h2M28 108.5h2M32 108.5h1M40 108.5h2M43 108.5h1M45 108.5h2M48 108.5h1M52 108.5h1M54 108.5h1M59 108.5h1M62 108.5h2M66 108.5h1M117 108.5h2M33 109.5h2M37 109.5h1M42 109.5h3M52 109.5h1M54 109.5h1M58 109.5h4M64 109.5h1M119 109.5h1M30 110.5h2M37 110.5h1M42 110.5h1M51 110.5h1M56 110.5h2M114 110.5h1M116 110.5h1M120 110.5h1M125 110.5h2M24 111.5h1M31 111.5h1M34 111.5h1M40 111.5h1M43 111.5h2M47 111.5h3M52 111.5h1M54 111.5h1M56 111.5h1M58 111.5h1M61 111.5h1M63 111.5h1M65 111.5h1M122 111.5h1M125 111.5h1M28 112.5h1M34 112.5h1M41 112.5h1M50 112.5h1M54 112.5h1M59 112.5h1M64 112.5h1M115 112.5h1M117 112.5h1M124 112.5h1M131 112.5h1M24 113.5h2M27 113.5h1M37 113.5h1M45 113.5h1M48 113.5h1M56 113.5h1M59 113.5h1M63 113.5h1M115 113.5h1M117 113.5h2M120 113.5h1M27 114.5h1M30 114.5h1M32 114.5h1M38 114.5h1M45 114.5h1M47 114.5h2M50 114.5h1M55 114.5h2M64 114.5h1M120 114.5h1M24 115.5h2M33 115.5h1M36 115.5h1M40 115.5h1M44 115.5h1M46 115.5h2M49 115.5h1M51 115.5h2M64 115.5h1M116 115.5h2M122 115.5h1M33 116.5h1M35 116.5h1M42 116.5h2M45 116.5h3M53 116.5h1M57 116.5h1M115 116.5h3M121 116.5h1M25 117.5h1M27 117.5h1M29 117.5h1M36 117.5h1M43 117.5h1M48 117.5h3M54 117.5h1M58 117.5h1M60 117.5h1M115 117.5h1M118 117.5h2M121 117.5h2M124 117.5h1M134 117.5h1M24 118.5h1M26 118.5h1M30 118.5h1M42 118.5h1M56 118.5h1M118 118.5h1M27 119.5h2M39 119.5h1M57 119.5h1M59 119.5h1M123 119.5h2M27 120.5h1M30 120.5h2M36 120.5h1M45 120.5h1M47 120.5h1M49 120.5h1M54 120.5h3M58 120.5h1M120 120.5h2M44 121.5h1M51 121.5h2M54 121.5h1M57 121.5h1M123 121.5h1M27 122.5h1M29 122.5h1M33 122.5h2M38 122.5h3M46 122.5h1M50 122.5h1M52 122.5h1M54 122.5h1M117 122.5h2M123 122.5h1M134 122.5h1M25 123.5h2M35 123.5h2M41 123.5h1M54 123.5h2M125 123.5h1M132 123.5h1M24 124.5h2M27 124.5h1M31 124.5h1M35 124.5h1M46 124.5h2M51 124.5h1M118 124.5h2M126 124.5h1M24 125.5h2M28 125.5h2M37 125.5h1M41 125.5h2M54 125.5h1M116 125.5h1M119 125.5h1M136 125.5h1M27 126.5h1M29 126.5h2M32 126.5h1M35 126.5h1M39 126.5h1M44 126.5h1M49 126.5h1M51 126.5h1M55 126.5h1M115 126.5h1M119 126.5h1M124 126.5h2M25 127.5h3M33 127.5h1M35 127.5h2M40 127.5h1M45 127.5h1M49 127.5h1M121 127.5h1M123 127.5h2M28 128.5h2M31 128.5h1M36 128.5h2M40 128.5h1M45 128.5h1M48 128.5h1M51 128.5h1M120 128.5h1M126 128.5h1M128 128.5h1M28 129.5h1M31 129.5h1M35 129.5h2M40 129.5h1M43 129.5h2M51 129.5h1M117 129.5h1M119 129.5h1M136 129.5h1M24 130.5h1M36 130.5h1M49 130.5h1M51 130.5h1M53 130.5h1M118 130.5h1M120 130.5h1M138 130.5h1M24 131.5h1M26 131.5h1M31 131.5h3M35 131.5h1M38 131.5h1M46 131.5h1M29 132.5h1M38 132.5h1M40 132.5h2M43 132.5h1M45 132.5h1M49 132.5h1M119 132.5h1M128 132.5h1M28 133.5h1M31 133.5h2M40 133.5h2M45 133.5h1M48 133.5h3M121 133.5h1M123 133.5h1M133 133.5h1M24 134.5h1M29 134.5h1M32 134.5h1M38 134.5h1M43 134.5h2M49 134.5h1M121 134.5h1M127 134.5h1M25 135.5h1M32 135.5h1M35 135.5h2M38 135.5h2M46 135.5h2M51 135.5h1M121 135.5h2M124 135.5h1M130 135.5h1M37 136.5h1M43 136.5h1M46 136.5h1M50 136.5h1M52 136.5h1M116 136.5h4M25 137.5h1M29 137.5h2M33 137.5h1M36 137.5h3M44 137.5h2M51 137.5h1M125 137.5h1M134 137.5h1M24 138.5h2M34 138.5h1M39 138.5h1M46 138.5h1M49 138.5h1M51 138.5h1M117 138.5h1M121 138.5h1M24 139.5h1M31 139.5h1M40 139.5h3M44 139.5h1M50 139.5h2M116 139.5h2M24 140.5h1M30 140.5h1M35 140.5h1M39 140.5h3M43 140.5h1M46 140.5h1M49 140.5h1M116 140.5h1M121 140.5h1M123 140.5h1M128 140.5h1M26 141.5h1M31 141.5h1M33 141.5h2M36 141.5h2M45 141.5h3M50 141.5h1M116 141.5h1M118 141.5h2M29 142.5h1M38 142.5h3M42 142.5h1M44 142.5h1M47 142.5h1M49 142.5h1M116 142.5h1M127 142.5h2M28 143.5h1M31 143.5h1M33 143.5h2M121 143.5h1M123 143.5h1M25 144.5h1M33 144.5h1M35 144.5h3M40 144.5h4M46 144.5h1M49 144.5h2M117 144.5h2M121 144.5h1M129 144.5h1M26 145.5h1M38 145.5h1M40 145.5h1M50 145.5h1M52 145.5h1M117 145.5h2M25 146.5h2M29 146.5h2M37 146.5h1M48 146.5h1M50 146.5h2M116 146.5h1M25 147.5h1M28 147.5h1M31 147.5h1M35 147.5h1M37 147.5h1M49 147.5h1M121 147.5h1M27 148.5h1M34 148.5h1M44 148.5h1M46 148.5h1M50 148.5h1M52 148.5h1M120 148.5h3M125 148.5h1M134 148.5h1M26 149.5h1M28 149.5h1M32 149.5h1M37 149.5h1M43 149.5h1M47 149.5h1M49 149.5h1M51 149.5h1M53 149.5h1M116 149.5h1M119 149.5h1M122 149.5h2M130 149.5h1M27 150.5h1M32 150.5h2M39 150.5h1M52 150.5h1M117 150.5h2M125 150.5h1M30 151.5h1M36 151.5h2M42 151.5h1M44 151.5h1M48 151.5h1M50 151.5h1M52 151.5h1M120 151.5h1M122 151.5h1M27 152.5h1M29 152.5h1M31 152.5h1M33 152.5h2M38 152.5h4M45 152.5h1M51 152.5h2M125 152.5h1M24 153.5h1M26 153.5h2M30 153.5h1M32 153.5h1M35 153.5h1M37 153.5h2M41 153.5h1M44 153.5h1M49 153.5h5M122 153.5h1M124 153.5h1M27 154.5h1M29 154.5h1M31 154.5h1M50 154.5h1M52 154.5h1M54 154.5h1M120 154.5h1M131 154.5h1M34 155.5h1M37 155.5h1M48 155.5h1M50 155.5h1M25 156.5h1M28 156.5h2M33 156.5h2M37 156.5h1M116 156.5h1M119 156.5h1M30 157.5h1M38 157.5h1M40 157.5h2M50 157.5h1M55 157.5h1M119 157.5h1M122 157.5h1M29 158.5h1M33 158.5h1M38 158.5h1M42 158.5h1M48 158.5h1M117 158.5h1M121 158.5h1M127 158.5h1M45 159.5h1M47 159.5h4M53 159.5h2M115 159.5h1M117 159.5h1M119 159.5h1M129 159.5h1M24 160.5h1M29 160.5h2M33 160.5h1M37 160.5h1M43 160.5h2M51 160.5h1M56 160.5h1M118 160.5h1M125 160.5h1M28 161.5h1M32 161.5h1M34 161.5h1M44 161.5h1M47 161.5h1M52 161.5h1M125 161.5h1M33 162.5h1M37 162.5h2M41 162.5h1M46 162.5h1M56 162.5h1M116 162.5h1M121 162.5h1M31 163.5h1M43 163.5h1M51 163.5h2M120 163.5h1M37 164.5h1M43 164.5h1M47 164.5h1M50 164.5h1M52 164.5h1M24 165.5h1M29 165.5h1M33 165.5h1M37 165.5h1M40 165.5h1M43 165.5h2M52 165.5h1M56 165.5h1M119 165.5h2M32 166.5h2M38 166.5h4M45 166.5h2M51 166.5h1M57 166.5h1M123 166.5h2M26 167.5h1M34 167.5h1M44 167.5h2M53 167.5h1M55 167.5h2M115 167.5h1M118 167.5h1M124 167.5h1M24 168.5h1M27 168.5h1M29 168.5h2M34 168.5h1M38 168.5h1M49 168.5h2M54 168.5h1M117 168.5h1M120 168.5h1M138 168.5h1M29 169.5h1M38 169.5h2M42 169.5h1M54 169.5h1M114 169.5h1M122 169.5h1M128 169.5h1M131 169.5h1M28 170.5h2M34 170.5h1M38 170.5h1M40 170.5h1M48 170.5h1M50 170.5h1M114 170.5h2M118 170.5h2M139 170.5h1M37 171.5h1M40 171.5h1M48 171.5h1M62 171.5h1M77 171.5h1M100 171.5h1M107 171.5h1M116 171.5h2M125 171.5h1M33 172.5h1M41 172.5h1M44 172.5h1M53 172.5h1M55 172.5h1M60 172.5h1M64 172.5h1M70 172.5h2M73 172.5h1M77 172.5h1M80 172.5h1M83 172.5h1M87 172.5h1M90 172.5h1M92 172.5h1M96 172.5h1M99 172.5h1M103 172.5h1M106 172.5h1M110 172.5h1M112 172.5h1M28 173.5h1M33 173.5h2M40 173.5h1M44 173.5h2M48 173.5h1M51 173.5h1M54 173.5h1M57 173.5h1M61 173.5h4M67 173.5h1M73 173.5h1M77 173.5h1M79 173.5h1M88 173.5h1M91 173.5h2M96 173.5h1M100 173.5h2M103 173.5h7M114 173.5h1M118 173.5h1" stroke="#1c1c1c" stroke-width="1" fill="none"/>
<path d="M25 60.5h1M60 61.5h1M32 62.5h1M43 62.5h1M40 63.5h1M82 63.5h1M25 64.5h1M31 64.5h1M38 64.5h2M46 66.5h1M98 66.5h1M24 67.5h1M26 67.5h1M88 67.5h1M58 68.5h1M36 69.5h1M50 69.5h2M85 69.5h1M110 69.5h1M25 70.5h1M33 70.5h1M35 70.5h1M38 70.5h1M43 70.5h2M48 70.5h1M57 70.5h1M75 70.5h1M26 71.5h1M41 71.5h1M44 71.5h1M59 71.5h1M70 71.5h1M91 71.5h1M98 71.5h1M100 71.5h1M27 72.5h1M32 72.5h1M100 72.5h2M114 72.5h1M36 73.5h1M42 73.5h1M48 73.5h1M50 73.5h1M57 73.5h1M77 73.5h2M87 73.5h1M107 73.5h1M29 74.5h1M35 74.5h1M38 74.5h1M43 74.5h1M46 74.5h1M52 74.5h1M54 74.5h3M59 74.5h1M75 74.5h1M80 74.5h1M82 74.5h1M95 74.5h2M27 75.5h1M36 75.5h1M45 75.5h1M53 75.5h1M58 75.5h1M64 75.5h3M87 75.5h1M91 75.5h1M93 75.5h1M99 75.5h1M103 75.5h1M26 76.5h2M37 76.5h1M42 76.5h1M48 76.5h1M55 76.5h1M59 76.5h1M64 76.5h3M69 76.5h1M76 76.5h1M82 76.5h2M85 76.5h1M87 76.5h2M90 76.5h2M93 76.5h1M96 76.5h1M101 76.5h1M31 77.5h1M34 77.5h2M41 77.5h1M48 77.5h1M55 77.5h1M59 77.5h1M64 77.5h2M69 77.5h1M73 77.5h2M77 77.5h1M85 77.5h1M88 77.5h1M90 77.5h1M92 77.5h1M94 77.5h2M98 77.5h1M100 77.5h3M104 77.5h1M24 78.5h1M30 78.5h1M35 78.5h1M42 78.5h1M56 78.5h2M61 78.5h1M72 78.5h4M77 78.5h1M81 78.5h1M83 78.5h1M89 78.5h1M92 78.5h3M98 78.5h2M103 78.5h1M105 78.5h2M27 79.5h1M36 79.5h2M48 79.5h1M56 79.5h1M86 79.5h1M101 79.5h1M104 79.5h1M109 79.5h1M112 79.5h1M121 79.5h1M31 80.5h1M36 80.5h2M47 80.5h1M51 80.5h1M59 80.5h2M62 80.5h1M102 80.5h2M108 80.5h1M24 81.5h1M31 81.5h1M63 81.5h2M104 81.5h1M106 81.5h1M33 82.5h1M36 82.5h1M40 82.5h1M47 82.5h1M52 82.5h1M62 82.5h2M26 83.5h1M29 83.5h2M36 83.5h1M40 83.5h1M42 83.5h1M47 83.5h1M53 83.5h3M58 83.5h1M62 83.5h2M105 83.5h2M111 83.5h1M34 84.5h1M39 84.5h1M46 84.5h1M56 84.5h1M61 84.5h3M30 85.5h1M38 85.5h1M108 85.5h2M116 85.5h1M24 86.5h1M47 86.5h3M59 86.5h2M107 86.5h3M44 87.5h1M46 87.5h1M51 87.5h1M53 87.5h1M55 87.5h1M58 87.5h1M60 87.5h1M62 87.5h1M113 87.5h1M38 88.5h1M50 88.5h1M57 88.5h1M63 88.5h1M65 88.5h1M109 88.5h1M113 88.5h1M26 89.5h2M30 89.5h1M36 89.5h1M41 89.5h1M46 89.5h1M57 89.5h1M63 89.5h1M110 89.5h1M112 89.5h1M26 90.5h1M36 90.5h1M38 90.5h1M44 90.5h1M48 90.5h1M53 90.5h1M56 90.5h1M61 90.5h1M66 90.5h1M111 90.5h2M115 90.5h1M47 91.5h1M52 91.5h1M56 91.5h1M63 91.5h1M65 91.5h2M110 91.5h1M112 91.5h1M26 92.5h1M28 92.5h1M35 92.5h1M44 92.5h1M52 92.5h1M62 92.5h1M112 92.5h2M115 92.5h2M24 93.5h1M38 93.5h1M49 93.5h5M55 93.5h1M67 93.5h1M111 93.5h1M113 93.5h2M42 94.5h1M46 94.5h1M61 94.5h1M112 94.5h1M37 95.5h1M42 95.5h2M51 95.5h2M62 95.5h1M112 95.5h1M115 95.5h1M24 96.5h1M26 96.5h2M29 96.5h1M31 96.5h1M43 96.5h3M56 96.5h1M61 96.5h1M65 96.5h1M67 96.5h1M115 96.5h1M39 97.5h3M59 97.5h1M67 97.5h1M113 97.5h2M30 98.5h1M35 98.5h1M39 98.5h2M47 98.5h1M52 98.5h1M55 98.5h1M59 98.5h1M66 98.5h2M114 98.5h3M118 98.5h1M24 99.5h1M28 99.5h1M33 99.5h1M43 99.5h1M60 99.5h1M65 99.5h1M67 99.5h1M117 99.5h1M24 100.5h1M27 100.5h2M66 100.5h2M113 100.5h1M117 100.5h2M24 101.5h2M30 101.5h1M36 101.5h1M44 101.5h1M47 101.5h1M57 101.5h1M59 101.5h1M63 101.5h1M114 101.5h4M25 102.5h1M30 102.5h3M36 102.5h1M39 102.5h1M48 102.5h3M115 102.5h2M119 102.5h1M25 103.5h1M46 103.5h1M48 103.5h1M51 103.5h1M59 103.5h1M61 103.5h1M66 103.5h2M117 103.5h1M123 103.5h1M26 104.5h1M31 104.5h1M51 104.5h1M56 104.5h1M58 104.5h2M61 104.5h2M117 104.5h1M119 104.5h1M29 105.5h2M56 105.5h1M60 105.5h1M66 105.5h2M118 105.5h1M123 105.5h1M25 106.5h1M39 106.5h1M47 106.5h1M55 106.5h2M115 106.5h1M25 107.5h2M40 107.5h1M53 107.5h1M65 107.5h1M67 107.5h1M120 107.5h1M24 108.5h1M47 108.5h1M57 108.5h1M64 108.5h2M116 108.5h1M24 109.5h1M26 109.5h1M31 109.5h1M41 109.5h1M47 109.5h1M62 109.5h2M65 109.5h1M115 109.5h1M117 109.5h1M25 110.5h1M28 110.5h1M39 110.5h2M43 110.5h1M48 110.5h1M52 110.5h2M55 110.5h1M58 110.5h1M62 110.5h1M25 111.5h2M32 111.5h1M39 111.5h1M46 111.5h1M50 111.5h2M55 111.5h1M115 111.5h1M27 112.5h1M33 112.5h1M38 112.5h3M45 112.5h2M49 112.5h1M57 112.5h1M62 112.5h2M116 112.5h1M118 112.5h1M30 113.5h2M64 113.5h1M116 113.5h1M35 114.5h1M58 114.5h1M62 114.5h2M116 114.5h1M129 114.5h1M38 115.5h1M41 115.5h1M43 115.5h1M58 115.5h1M62 115.5h2M118 115.5h1M25 116.5h1M36 116.5h1M40 116.5h1M44 116.5h1M50 116.5h1M52 116.5h1M54 116.5h2M63 116.5h1M33 117.5h1M37 117.5h1M61 117.5h1M126 117.5h1M31 118.5h1M37 118.5h1M43 118.5h1M51 118.5h1M57 118.5h4M119 118.5h1M31 119.5h1M44 119.5h1M47 119.5h1M60 119.5h1M115 119.5h2M37 120.5h1M53 120.5h1M57 120.5h1M116 120.5h3M33 121.5h1M35 121.5h1M39 121.5h2M50 121.5h1M56 121.5h1M58 121.5h1M118 121.5h1M25 122.5h1M36 122.5h1M44 122.5h1M47 122.5h1M51 122.5h1M56 122.5h1M31 123.5h1M33 123.5h1M39 123.5h2M42 123.5h1M45 123.5h1M47 123.5h1M49 123.5h2M52 123.5h1M116 123.5h3M127 123.5h1M29 124.5h1M40 124.5h1M43 124.5h2M50 124.5h1M55 124.5h2M116 124.5h1M120 124.5h1M124 124.5h1M31 125.5h1M38 125.5h2M47 125.5h1M41 126.5h1M43 126.5h1M45 126.5h1M47 126.5h1M50 126.5h1M53 126.5h2M116 126.5h1M34 127.5h1M39 127.5h1M41 127.5h1M46 127.5h2M116 127.5h4M24 128.5h1M26 128.5h1M35 128.5h1M39 128.5h1M42 128.5h1M44 128.5h1M53 128.5h2M116 128.5h1M24 129.5h1M38 129.5h2M42 129.5h1M116 129.5h1M122 129.5h1M25 130.5h1M32 130.5h1M40 130.5h2M44 130.5h1M46 130.5h1M52 130.5h1M116 130.5h1M119 130.5h1M39 131.5h1M45 131.5h1M116 131.5h3M139 131.5h1M25 132.5h1M31 132.5h1M33 132.5h1M36 132.5h2M48 132.5h1M51 132.5h2M120 132.5h1M25 133.5h1M36 133.5h4M46 133.5h1M51 133.5h2M116 133.5h3M27 134.5h1M30 134.5h1M36 134.5h1M40 134.5h3M51 134.5h2M116 134.5h1M24 135.5h1M27 135.5h1M33 135.5h1M44 135.5h1M52 135.5h1M117 135.5h1M119 135.5h1M29 136.5h1M36 136.5h1M41 137.5h1M50 137.5h1M116 137.5h2M121 137.5h1M30 138.5h1M35 138.5h1M43 138.5h1M50 138.5h1M52 138.5h1M116 138.5h1M123 138.5h1M27 139.5h1M43 139.5h1M119 139.5h2M29 140.5h1M36 140.5h1M45 140.5h1M50 140.5h1M117 140.5h2M27 141.5h1M29 141.5h1M49 141.5h1M51 141.5h1M25 142.5h1M34 142.5h3M50 142.5h1M119 142.5h1M24 143.5h1M26 143.5h1M38 143.5h1M44 143.5h1M49 143.5h1M51 143.5h1M117 143.5h1M28 144.5h1M45 144.5h1M47 144.5h1M116 144.5h1M25 145.5h1M31 145.5h1M41 145.5h1M43 145.5h2M46 145.5h1M51 145.5h1M116 145.5h1M122 145.5h1M35 146.5h1M40 146.5h1M43 146.5h1M45 146.5h1M49 146.5h1M117 146.5h1M119 146.5h1M26 147.5h1M38 147.5h1M45 147.5h1M50 147.5h1M116 147.5h1M37 148.5h1M29 149.5h1M36 149.5h1M38 149.5h1M45 149.5h1M52 149.5h1M127 149.5h1M34 150.5h1M36 150.5h1M46 150.5h1M51 150.5h1M116 150.5h1M26 151.5h1M40 151.5h2M49 151.5h1M53 151.5h1M117 151.5h1M126 151.5h1M32 152.5h1M50 152.5h1M53 152.5h1M116 152.5h2M120 152.5h1M34 153.5h1M45 153.5h1M116 153.5h1M120 153.5h1M47 154.5h2M53 154.5h1M117 154.5h1M121 154.5h1M49 155.5h1M51 155.5h1M53 155.5h2M116 155.5h1M119 155.5h1M121 155.5h1M128 155.5h1M38 156.5h1M51 156.5h2M54 156.5h1M117 156.5h1M45 157.5h1M49 157.5h1M51 157.5h4M31 158.5h1M37 158.5h1M44 158.5h2M53 158.5h3M119 158.5h1M124 158.5h1M25 159.5h1M31 159.5h1M37 159.5h1M43 159.5h1M116 159.5h1M120 159.5h1M40 160.5h1M45 160.5h1M47 160.5h1M49 160.5h2M54 160.5h2M26 161.5h1M35 161.5h1M46 161.5h1M51 161.5h1M53 161.5h3M115 161.5h2M119 161.5h1M122 161.5h1M32 162.5h1M36 162.5h1M54 162.5h1M39 163.5h1M45 163.5h1M47 163.5h1M56 163.5h1M115 163.5h3M121 163.5h1M53 164.5h1M116 164.5h3M34 165.5h1M36 165.5h1M47 165.5h1M115 165.5h2M37 166.5h1M43 166.5h1M52 166.5h1M55 166.5h2M116 166.5h1M28 167.5h1M33 167.5h1M36 167.5h1M39 167.5h1M42 167.5h1M52 167.5h1M114 167.5h1M120 167.5h1M32 168.5h1M39 168.5h1M46 168.5h1M53 168.5h1M56 168.5h1M114 168.5h2M119 168.5h1M25 169.5h1M28 169.5h1M32 169.5h1M50 169.5h4M56 169.5h1M115 169.5h2M118 169.5h1M25 170.5h2M32 170.5h1M37 170.5h1M46 170.5h1M51 170.5h1M53 170.5h1M116 170.5h2M25 171.5h1M43 171.5h2M46 171.5h1M114 171.5h1M120 171.5h1M27 172.5h2M30 172.5h1M35 172.5h1M45 172.5h1M51 172.5h1M54 172.5h1M56 172.5h1M59 172.5h1M61 172.5h2M65 172.5h1M68 172.5h2M74 172.5h3M81 172.5h1M85 172.5h2M89 172.5h1M94 172.5h1M98 172.5h1M104 172.5h2M107 172.5h1M109 172.5h1M111 172.5h1M114 172.5h3M118 172.5h1M25 173.5h1M29 173.5h1M49 173.5h1M52 173.5h1M58 173.5h1M60 173.5h1M66 173.5h1M68 173.5h1M71 173.5h2M76 173.5h1M78 173.5h1M83 173.5h2M86 173.5h2M89 173.5h1M93 173.5h3M98 173.5h2M111 173.5h2M116 173.5h1M119 173.5h1" stroke="#000" stroke-width="1" fill="none"/>
<rect x="24.6" y="68" width="1.3" height="15.5" fill="#fff"/>
<path d="M63.5 170.5C63.3 169.8 62.7 168.1 62.3 166.0C61.9 163.9 61.5 161.0 61.3 158.0C61.1 155.0 61.2 151.0 61.2 148.0C61.2 145.0 61.5 142.5 61.5 140.0C61.5 137.5 60.6 135.3 60.9 133.0C61.2 130.7 62.0 128.0 63.1 126.0C64.2 124.0 65.9 122.6 67.5 121.0C69.1 119.4 71.0 118.4 72.5 116.5C74.0 114.6 75.6 112.6 76.6 109.7C77.6 106.8 77.7 102.4 78.6 99.0C79.5 95.6 80.5 91.9 82.0 89.5C83.5 87.1 85.5 85.6 87.3 84.8C89.0 84.0 90.7 84.6 92.5 84.6C94.3 84.6 96.3 83.6 98.0 84.9C99.7 86.2 101.4 88.7 102.8 92.2C104.2 95.7 105.2 101.7 106.2 105.7C107.2 109.8 107.9 112.8 108.9 116.5C109.9 120.2 111.4 124.1 112.0 128.0C112.6 131.9 112.5 136.0 112.5 140.0C112.5 144.0 112.5 148.3 112.3 152.0C112.1 155.7 111.9 158.9 111.5 162.0C111.1 165.1 110.2 169.1 110.0 170.5M65.8 170.5C65.6 169.8 65.1 168.1 64.8 166.0C64.5 163.9 64.1 161.0 63.9 158.0C63.7 155.0 63.7 151.0 63.7 148.0C63.7 145.0 63.9 142.5 63.8 140.0C63.7 137.5 63.0 135.3 63.3 133.0C63.6 130.7 64.7 127.9 65.8 126.0C66.9 124.1 68.5 122.9 70.0 121.5C71.5 120.1 73.2 120.2 75.0 117.8C76.8 115.4 79.3 109.7 80.6 107.0C81.9 104.3 82.0 103.2 82.6 101.6C83.2 100.0 83.4 98.6 84.0 97.5C84.6 96.4 85.2 95.6 86.0 95.0C86.8 94.4 87.7 94.0 88.5 94.0C89.3 94.0 90.2 95.2 91.0 95.2C91.8 95.2 92.7 94.2 93.5 94.2C94.3 94.2 95.2 94.2 96.0 95.0C96.8 95.8 97.3 96.1 98.0 99.0C98.7 101.9 99.1 109.3 100.0 112.4C100.9 115.5 102.3 115.5 103.5 117.8C104.7 120.1 106.5 123.5 107.3 126.0C108.1 128.5 108.3 130.7 108.5 133.0C108.7 135.3 108.4 137.2 108.3 140.0C108.2 142.8 108.2 146.7 108.0 150.0C107.8 153.3 107.6 156.6 107.3 160.0C107.0 163.4 106.2 168.8 106.0 170.5M67.6 170.5C67.5 169.8 67.1 168.1 66.8 166.0C66.5 163.9 66.1 161.0 65.9 158.0C65.7 155.0 65.6 151.0 65.6 148.0C65.6 145.0 65.7 142.5 65.7 140.0C65.7 137.5 65.1 135.2 65.6 133.0C66.1 130.8 67.3 128.8 68.5 127.0C69.7 125.2 71.4 123.8 73.0 122.5C74.6 121.2 76.4 120.2 77.9 119.0C79.4 117.8 80.8 116.6 82.0 115.5C83.2 114.4 84.2 113.6 85.3 112.4C86.3 111.2 87.5 109.2 88.3 108.3C89.1 107.4 89.4 107.3 90.0 107.3C90.6 107.3 90.8 107.4 91.7 108.3C92.6 109.2 93.9 110.7 95.4 112.4C96.9 114.1 99.3 116.4 100.8 118.5C102.3 120.6 103.5 122.6 104.3 125.0C105.1 127.4 105.6 130.5 105.8 133.0C106.0 135.5 105.6 137.2 105.5 140.0C105.4 142.8 105.4 146.7 105.2 150.0C105.0 153.3 104.8 156.6 104.5 160.0C104.2 163.4 103.5 168.8 103.3 170.5M70.6 170.0L70.5 169.1L70.4 168.5L70.3 167.5L70.2 166.5L70.0 165.5L70.0 165.0L69.9 164.0L69.7 163.0L69.6 162.0L69.5 161.0L69.5 160.5L69.4 159.5L69.3 158.5L69.2 157.5L69.2 156.5L69.1 155.5L69.0 154.5L69.0 154.0L68.9 153.0L68.9 152.0L68.8 151.0L68.8 150.0L68.7 149.0L68.7 148.0L68.7 147.0L68.7 146.0L68.6 145.0L68.6 144.0L68.6 143.0L68.6 142.0L68.6 141.0L68.6 140.0L68.7 139.0L68.7 138.0L68.8 137.0L69.0 136.0L69.0 135.5L69.2 134.5L69.4 133.5L69.6 133.0L69.8 132.0L70.0 131.4L70.3 130.5L70.5 129.9L70.8 129.0L71.0 128.5L71.5 127.5L71.7 127.0L72.0 126.5L72.5 125.6L72.8 125.0L73.1 124.5L73.5 123.9L74.0 123.2L74.5 122.6L75.0 122.0L75.4 121.5L75.9 121.0L76.3 120.5L76.9 120.0L77.4 119.5L78.0 119.0L78.5 118.6L79.0 118.3L79.5 117.9L80.2 117.5L81.0 117.0L81.5 116.8L82.2 116.5L83.0 116.2L83.6 116.0L84.5 115.8L85.5 115.7L86.5 115.6L87.5 115.7L88.5 115.8L89.2 116.0L90.0 116.3L90.6 116.5L91.5 116.9L92.0 117.2L92.5 117.5L93.3 118.0L94.0 118.5L94.5 118.9L95.0 119.4L95.5 119.8L96.0 120.3L96.5 120.8L97.0 121.4L97.5 122.0L97.9 122.5L98.3 123.0L98.7 123.5L99.0 124.0L99.5 124.7L100.0 125.5L100.3 126.0L100.6 126.5L101.0 127.3L101.3 128.0L101.5 128.5L102.0 129.5L102.2 130.0L102.5 130.9L102.7 131.5L103.0 132.5L103.1 133.0L103.4 134.0L103.5 134.5L103.7 135.5L103.9 136.5L104.0 137.5L104.0 138.0L104.1 139.0L104.2 140.0L104.2 141.0L104.2 142.0L104.2 143.0L104.2 144.0L104.1 145.0L104.1 146.0L104.1 147.0L104.1 148.0L104.0 149.0L104.0 149.5L104.0 150.5L103.9 151.5L103.8 152.5L103.8 153.5L103.7 154.5L103.7 155.5L103.6 156.5L103.5 157.4L103.4 158.0L103.4 159.0L103.3 160.0L103.2 161.0L103.1 162.0L103.0 162.5L102.9 163.5L102.8 164.5L102.6 165.5L102.5 166.5L102.4 167.0L102.3 168.0L102.1 169.0L102.0 169.9L102.0 170.0M72.6 170.0L72.5 169.3L72.4 168.5L72.2 167.5L72.1 166.5L72.0 166.0L71.9 165.0L71.7 164.0L71.6 163.0L71.5 162.0L71.4 161.5L71.3 160.5L71.2 159.5L71.1 158.5L71.0 157.5L71.0 157.0L70.9 156.0L70.8 155.0L70.8 154.0L70.7 153.0L70.7 152.0L70.6 151.0L70.5 150.0L70.5 149.0L70.5 148.5L70.5 147.5L70.4 146.5L70.4 145.5L70.4 144.5L70.4 143.5L70.3 142.5L70.3 141.5L70.3 140.5L70.4 139.5L70.4 138.5L70.5 137.9L70.6 137.0L70.8 136.0L70.9 135.0L71.0 134.5L71.3 133.5L71.5 132.7L71.7 132.0L72.0 131.1L72.2 130.5L72.5 129.8L72.8 129.0L73.1 128.5L73.5 127.6L73.8 127.0L74.1 126.5L74.5 125.9L75.0 125.1L75.5 124.5L75.8 124.0L76.2 123.5L76.6 123.0L77.1 122.5L77.6 122.0L78.1 121.5L78.6 121.0L79.2 120.5L79.9 120.0L80.5 119.5L81.0 119.2L81.5 118.9L82.3 118.5L83.0 118.2L83.5 118.0L84.5 117.7L85.5 117.6L86.4 117.5L86.7 117.5L87.5 117.5L88.5 117.7L89.5 118.0L90.0 118.2L90.7 118.5L91.5 118.9L92.0 119.2L92.5 119.6L93.1 120.0L93.7 120.5L94.2 121.0L94.7 121.5L95.2 122.0L95.6 122.5L96.1 123.0L96.5 123.6L97.0 124.2L97.5 125.0L97.9 125.5L98.2 126.0L98.5 126.6L99.0 127.5L99.3 128.0L99.5 128.5L100.0 129.5L100.2 130.0L100.5 130.8L100.7 131.5L101.0 132.3L101.2 133.0L101.5 134.0L101.6 134.5L101.8 135.5L102.0 136.5L102.0 137.0L102.2 138.0L102.3 139.0L102.3 140.0L102.3 141.0L102.3 142.0L102.3 143.0L102.3 144.0L102.3 145.0L102.3 146.0L102.2 147.0L102.2 148.0L102.2 149.0L102.1 150.0L102.1 151.0L102.0 151.9L102.0 152.5L101.9 153.5L101.8 154.5L101.8 155.5L101.7 156.5L101.6 157.5L101.5 158.4L101.4 159.0L101.3 160.0L101.2 161.0L101.1 162.0L101.0 162.9L100.9 163.5L100.8 164.5L100.7 165.5L100.5 166.5L100.4 167.0L100.3 168.0L100.1 169.0L100.0 169.7L100.0 170.0M74.5 170.0L74.3 169.0L74.1 168.0L74.0 167.4L73.9 166.5L73.7 165.5L73.6 164.5L73.5 164.0L73.3 163.0L73.2 162.0L73.1 161.0L73.0 160.1L72.9 159.5L72.8 158.5L72.7 157.5L72.6 156.5L72.5 155.5L72.5 154.9L72.4 154.0L72.4 153.0L72.3 152.0L72.2 151.0L72.2 150.0L72.1 149.0L72.1 148.0L72.1 147.0L72.0 146.0L72.0 145.0L72.0 144.5L72.0 143.5L72.0 142.5L72.0 141.5L72.0 140.5L72.0 139.5L72.0 139.0L72.1 138.0L72.2 137.0L72.4 136.0L72.5 135.5L72.7 134.5L73.0 133.5L73.1 133.0L73.4 132.0L73.6 131.5L74.0 130.5L74.2 130.0L74.5 129.4L74.9 128.5L75.2 128.0L75.5 127.5L76.0 126.7L76.4 126.0L76.8 125.5L77.2 125.0L77.6 124.5L78.0 124.0L78.5 123.4L79.0 122.9L79.5 122.4L80.0 122.0L80.6 121.5L81.2 121.0L82.0 120.5L82.5 120.2L83.0 120.0L84.0 119.6L84.5 119.4L85.5 119.2L86.5 119.1L87.5 119.2L88.5 119.3L89.1 119.5L90.0 119.8L90.5 120.1L91.2 120.5L91.9 121.0L92.5 121.4L93.0 121.9L93.5 122.3L94.0 122.8L94.5 123.4L95.0 124.0L95.4 124.5L95.7 125.0L96.1 125.5L96.5 126.2L97.0 127.0L97.3 127.5L97.5 128.0L98.0 128.9L98.3 129.5L98.5 130.1L98.9 131.0L99.1 131.5L99.4 132.5L99.5 133.0L99.8 134.0L100.0 134.8L100.2 135.5L100.3 136.5L100.5 137.5L100.5 138.0L100.6 139.0L100.7 140.0L100.7 141.0L100.7 142.0L100.7 143.0L100.7 144.0L100.7 145.0L100.6 146.0L100.6 147.0L100.6 148.0L100.5 149.0L100.5 149.5L100.4 150.5L100.4 151.5L100.3 152.5L100.3 153.5L100.2 154.5L100.1 155.5L100.0 156.5L100.0 157.0L99.9 158.0L99.8 159.0L99.7 160.0L99.6 161.0L99.5 161.5L99.4 162.5L99.2 163.5L99.1 164.5L99.0 165.3L98.9 166.0L98.7 167.0L98.6 168.0L98.5 168.5L98.3 169.5L98.2 170.0M76.1 170.0L76.0 169.3L75.8 168.5L75.7 167.5L75.5 166.6L75.4 166.0L75.2 165.0L75.1 164.0L75.0 163.4L74.9 162.5L74.7 161.5L74.6 160.5L74.5 159.6L74.4 159.0L74.3 158.0L74.2 157.0L74.1 156.0L74.0 155.0L74.0 154.5L73.9 153.5L73.8 152.5L73.8 151.5L73.7 150.5L73.7 149.5L73.6 148.5L73.6 147.5L73.5 146.5L73.5 145.5L73.5 145.0L73.5 144.0L73.5 143.0L73.5 142.0L73.4 141.0L73.5 140.0L73.5 139.4L73.6 138.5L73.7 137.5L73.8 136.5L74.0 135.6L74.1 135.0L74.4 134.0L74.5 133.5L74.9 132.5L75.0 132.0L75.4 131.0L75.6 130.5L76.0 129.7L76.4 129.0L76.6 128.5L77.0 127.9L77.5 127.1L77.9 126.5L78.2 126.0L78.6 125.5L79.0 125.0L79.5 124.4L80.0 123.9L80.5 123.4L81.0 123.0L81.6 122.5L82.3 122.0L83.0 121.6L83.5 121.3L84.2 121.0L85.0 120.7L86.0 120.6L87.0 120.5L88.0 120.7L89.0 120.9L89.5 121.1L90.3 121.5L91.0 121.9L91.5 122.3L92.0 122.7L92.5 123.1L93.0 123.6L93.5 124.1L94.0 124.7L94.5 125.4L94.9 126.0L95.3 126.5L95.6 127.0L96.0 127.8L96.4 128.5L96.6 129.0L97.0 129.8L97.3 130.5L97.5 131.0L97.8 132.0L98.0 132.5L98.3 133.5L98.5 134.3L98.7 135.0L98.9 136.0L99.0 136.8L99.1 137.5L99.2 138.5L99.3 139.5L99.3 140.5L99.3 141.5L99.3 142.5L99.3 143.5L99.3 144.5L99.3 145.5L99.2 146.5L99.2 147.5L99.2 148.5L99.1 149.5L99.1 150.5L99.0 151.5L99.0 152.0L98.9 153.0L98.8 154.0L98.8 155.0L98.7 156.0L98.6 157.0L98.5 157.9L98.4 158.5L98.3 159.5L98.2 160.5L98.1 161.5L98.0 162.3L97.9 163.0L97.8 164.0L97.6 165.0L97.5 165.9L97.4 166.5L97.2 167.5L97.1 168.5L97.0 169.0L96.8 170.0L96.8 170.0M77.6 170.0L77.5 169.5L77.3 168.5L77.1 167.5L77.0 166.9L76.8 166.0L76.7 165.0L76.5 164.0L76.4 163.5L76.3 162.5L76.1 161.5L76.0 160.5L75.9 160.0L75.8 159.0L75.7 158.0L75.6 157.0L75.5 156.0L75.5 155.5L75.4 154.5L75.3 153.5L75.2 152.5L75.1 151.5L75.1 150.5L75.0 149.5L75.0 149.0L75.0 148.0L74.9 147.0L74.9 146.0L74.8 145.0L74.8 144.0L74.8 143.0L74.8 142.0L74.8 141.0L74.8 140.0L74.9 139.0L75.0 138.0L75.0 137.5L75.2 136.5L75.4 135.5L75.5 135.0L75.8 134.0L76.0 133.3L76.3 132.5L76.5 131.8L76.8 131.0L77.1 130.5L77.5 129.6L77.8 129.0L78.1 128.5L78.5 127.8L79.0 127.1L79.4 126.5L79.8 126.0L80.2 125.5L80.6 125.0L81.1 124.5L81.7 124.0L82.3 123.5L83.0 123.0L83.5 122.7L84.0 122.5L85.0 122.1L85.5 122.0L86.5 121.8L87.5 121.9L88.3 122.0L89.0 122.2L89.7 122.5L90.5 123.0L91.0 123.3L91.5 123.7L92.0 124.2L92.5 124.7L93.0 125.2L93.5 125.8L94.0 126.5L94.3 127.0L94.6 127.5L95.0 128.2L95.4 129.0L95.7 129.5L96.0 130.2L96.3 131.0L96.5 131.5L96.9 132.5L97.0 133.0L97.3 134.0L97.5 134.9L97.6 135.5L97.8 136.5L98.0 137.5L98.0 138.0L98.1 139.0L98.2 140.0L98.2 141.0L98.2 142.0L98.2 143.0L98.1 144.0L98.1 145.0L98.1 146.0L98.1 147.0L98.0 148.0L98.0 148.7L98.0 149.5L97.9 150.5L97.9 151.5L97.8 152.5L97.7 153.5L97.6 154.5L97.6 155.5L97.5 156.2L97.4 157.0L97.3 158.0L97.2 159.0L97.1 160.0L97.0 161.0L96.9 161.5L96.8 162.5L96.7 163.5L96.5 164.5L96.5 165.0L96.3 166.0L96.1 167.0L96.0 167.8L95.9 168.5L95.7 169.5L95.6 170.0M78.9 170.0L78.7 169.0L78.5 168.2L78.4 167.5L78.2 166.5L78.0 165.6L77.9 165.0L77.7 164.0L77.6 163.0L77.5 162.5L77.4 161.5L77.2 160.5L77.1 159.5L77.0 158.7L76.9 158.0L76.8 157.0L76.7 156.0L76.6 155.0L76.5 154.0L76.5 153.5L76.4 152.5L76.3 151.5L76.3 150.5L76.2 149.5L76.2 148.5L76.1 147.5L76.1 146.5L76.0 145.5L76.0 144.5L76.0 143.5L76.0 143.0L76.0 142.0L76.0 141.0L76.0 140.1L76.0 139.5L76.1 138.5L76.2 137.5L76.4 136.5L76.5 135.9L76.7 135.0L77.0 134.0L77.1 133.5L77.5 132.5L77.6 132.0L78.0 131.1L78.3 130.5L78.5 130.0L79.0 129.1L79.4 128.5L79.7 128.0L80.0 127.5L80.5 126.8L81.0 126.2L81.5 125.7L82.0 125.2L82.5 124.7L83.0 124.3L83.5 124.0L84.5 123.5L85.0 123.3L86.0 123.1L87.0 123.0L87.0 123.0L88.0 123.1L89.0 123.4L89.5 123.6L90.1 124.0L90.9 124.5L91.4 125.0L92.0 125.5L92.4 126.0L92.8 126.5L93.2 127.0L93.5 127.5L94.0 128.3L94.4 129.0L94.7 129.5L95.0 130.2L95.3 131.0L95.5 131.5L95.9 132.5L96.0 133.0L96.3 134.0L96.5 134.7L96.7 135.5L96.9 136.5L97.0 137.5L97.1 138.0L97.1 139.0L97.2 140.0L97.2 141.0L97.2 142.0L97.2 143.0L97.2 144.0L97.2 145.0L97.1 146.0L97.1 147.0L97.1 148.0L97.0 149.0L97.0 149.5L97.0 150.5L96.9 151.5L96.8 152.5L96.8 153.5L96.7 154.5L96.6 155.5L96.5 156.5L96.5 157.0L96.4 158.0L96.3 159.0L96.1 160.0L96.0 161.0L96.0 161.5L95.8 162.5L95.7 163.5L95.5 164.5L95.5 165.0L95.3 166.0L95.1 167.0L95.0 167.7L94.8 168.5L94.6 169.5L94.5 170.0M80.0 170.0L79.8 169.0L79.6 168.0L79.4 167.5L79.2 166.5L79.1 165.5L79.0 165.0L78.8 164.0L78.6 163.0L78.5 162.1L78.4 161.5L78.3 160.5L78.1 159.5L78.0 158.5L78.0 158.0L77.8 157.0L77.7 156.0L77.6 155.0L77.6 154.0L77.5 153.3L77.4 152.5L77.4 151.5L77.3 150.5L77.2 149.5L77.2 148.5L77.1 147.5L77.1 146.5L77.1 145.5L77.0 144.5L77.0 143.5L77.0 142.5L77.0 141.5L77.0 140.5L77.0 139.5L77.1 138.5L77.2 137.5L77.4 136.5L77.5 136.0L77.7 135.0L78.0 134.0L78.2 133.5L78.5 132.5L78.7 132.0L79.0 131.3L79.4 130.5L79.6 130.0L80.0 129.3L80.5 128.5L80.8 128.0L81.2 127.5L81.6 127.0L82.1 126.5L82.6 126.0L83.2 125.5L83.9 125.0L84.5 124.7L85.0 124.4L86.0 124.2L87.0 124.1L88.0 124.2L88.9 124.5L89.5 124.8L90.0 125.1L90.6 125.5L91.2 126.0L91.7 126.5L92.1 127.0L92.5 127.5L93.0 128.2L93.5 129.0L93.7 129.5L94.0 130.0L94.5 131.0L94.7 131.5L95.0 132.4L95.2 133.0L95.5 134.0L95.6 134.5L95.8 135.5L96.0 136.4L96.1 137.0L96.2 138.0L96.3 139.0L96.4 140.0L96.4 141.0L96.4 142.0L96.4 143.0L96.4 144.0L96.3 145.0L96.3 146.0L96.3 147.0L96.3 148.0L96.2 149.0L96.2 150.0L96.1 151.0L96.0 152.0L96.0 152.5L95.9 153.5L95.8 154.5L95.8 155.5L95.7 156.5L95.6 157.5L95.5 158.1L95.4 159.0L95.3 160.0L95.2 161.0L95.0 162.0L95.0 162.5L94.8 163.5L94.6 164.5L94.5 165.4L94.4 166.0L94.2 167.0L94.0 168.0L93.9 168.5L93.7 169.5L93.6 170.0M81.0 170.0L80.9 169.5L80.7 168.5L80.5 167.8L80.3 167.0L80.1 166.0L80.0 165.4L79.8 164.5L79.7 163.5L79.5 162.6L79.4 162.0L79.3 161.0L79.1 160.0L79.0 159.1L78.9 158.5L78.8 157.5L78.7 156.5L78.6 155.5L78.5 154.6L78.4 154.0L78.4 153.0L78.3 152.0L78.2 151.0L78.1 150.0L78.1 149.0L78.0 148.0L78.0 147.0L78.0 146.5L78.0 145.5L77.9 144.5L77.9 143.5L77.9 142.5L77.9 141.5L77.9 140.5L77.9 139.5L78.0 138.6L78.1 138.0L78.2 137.0L78.4 136.0L78.5 135.5L78.8 134.5L79.0 133.7L79.2 133.0L79.5 132.3L79.8 131.5L80.1 131.0L80.5 130.1L80.9 129.5L81.2 129.0L81.5 128.5L82.0 127.9L82.5 127.3L83.0 126.8L83.5 126.4L84.1 126.0L85.0 125.5L85.5 125.3L86.5 125.1L87.5 125.2L88.5 125.4L89.0 125.6L89.7 126.0L90.4 126.5L91.0 127.0L91.5 127.5L91.9 128.0L92.2 128.5L92.6 129.0L93.0 129.7L93.4 130.5L93.7 131.0L94.0 131.8L94.3 132.5L94.5 133.2L94.7 134.0L95.0 135.0L95.1 135.5L95.3 136.5L95.5 137.5L95.5 138.0L95.6 139.0L95.7 140.0L95.7 141.0L95.7 142.0L95.7 143.0L95.7 144.0L95.6 145.0L95.6 146.0L95.6 147.0L95.5 148.0L95.5 148.6L95.5 149.5L95.4 150.5L95.3 151.5L95.3 152.5L95.2 153.5L95.1 154.5L95.0 155.5L95.0 156.0L94.9 157.0L94.8 158.0L94.6 159.0L94.5 160.0L94.5 160.5L94.3 161.5L94.2 162.5L94.0 163.5L93.9 164.0L93.8 165.0L93.6 166.0L93.5 166.5L93.3 167.5L93.1 168.5L92.9 169.0L92.7 170.0L92.7 170.0M82.0 170.0L81.9 169.5L81.6 168.5L81.5 168.0L81.2 167.0L81.0 166.0L80.9 165.5L80.7 164.5L80.5 163.5L80.4 163.0L80.2 162.0L80.1 161.0L80.0 160.4L79.9 159.5L79.7 158.5L79.6 157.5L79.5 156.6L79.4 156.0L79.3 155.0L79.2 154.0L79.1 153.0L79.1 152.0L79.0 151.0L79.0 150.5L78.9 149.5L78.8 148.5L78.8 147.5L78.8 146.5L78.7 145.5L78.7 144.5L78.7 143.5L78.7 142.5L78.7 141.5L78.7 140.5L78.7 139.5L78.8 138.5L78.9 137.5L79.0 136.9L79.2 136.0L79.4 135.0L79.6 134.5L79.9 133.5L80.0 133.0L80.4 132.0L80.7 131.5L81.0 130.9L81.5 130.0L81.8 129.5L82.2 129.0L82.6 128.5L83.0 128.0L83.6 127.5L84.2 127.0L85.0 126.5L85.5 126.3L86.5 126.1L87.5 126.1L88.5 126.4L89.0 126.6L89.7 127.0L90.3 127.5L90.9 128.0L91.3 128.5L91.7 129.0L92.0 129.5L92.5 130.3L92.9 131.0L93.1 131.5L93.5 132.4L93.7 133.0L94.0 133.8L94.2 134.5L94.4 135.5L94.6 136.0L94.7 137.0L94.9 138.0L95.0 139.0L95.0 139.6L95.0 140.5L95.0 141.5L95.0 142.5L95.0 143.5L95.0 144.4L95.0 145.0L95.0 146.0L94.9 147.0L94.9 148.0L94.8 149.0L94.8 150.0L94.7 151.0L94.7 152.0L94.6 153.0L94.5 153.9L94.4 154.5L94.4 155.5L94.3 156.5L94.1 157.5L94.0 158.5L94.0 159.0L93.8 160.0L93.7 161.0L93.5 162.0L93.4 162.5L93.3 163.5L93.1 164.5L93.0 165.0L92.8 166.0L92.6 167.0L92.5 167.5L92.2 168.5L92.0 169.3L91.8 170.0L91.8 170.0M83.0 170.0L82.8 169.5L82.5 168.5L82.4 168.0L82.1 167.0L82.0 166.5L81.7 165.5L81.5 164.5L81.4 164.0L81.2 163.0L81.0 162.0L80.9 161.5L80.8 160.5L80.6 159.5L80.5 158.7L80.4 158.0L80.3 157.0L80.2 156.0L80.0 155.0L80.0 154.5L79.9 153.5L79.8 152.5L79.7 151.5L79.7 150.5L79.6 149.5L79.5 148.5L79.5 147.6L79.5 147.0L79.4 146.0L79.4 145.0L79.4 144.0L79.4 143.0L79.3 142.0L79.3 141.0L79.4 140.0L79.4 139.0L79.5 138.3L79.6 137.5L79.8 136.5L80.0 135.5L80.1 135.0L80.4 134.0L80.6 133.5L81.0 132.5L81.2 132.0L81.5 131.5L82.0 130.6L82.4 130.0L82.7 129.5L83.2 129.0L83.7 128.5L84.3 128.0L85.0 127.5L85.5 127.3L86.5 127.1L87.5 127.1L88.5 127.3L89.0 127.6L89.7 128.0L90.3 128.5L90.8 129.0L91.2 129.5L91.5 130.0L92.0 130.7L92.4 131.5L92.7 132.0L93.0 132.8L93.3 133.5L93.5 134.3L93.7 135.0L93.9 136.0L94.0 136.5L94.2 137.5L94.3 138.5L94.4 139.5L94.4 140.5L94.5 141.5L94.4 142.5L94.4 143.5L94.4 144.5L94.4 145.5L94.4 146.5L94.3 147.5L94.3 148.5L94.2 149.5L94.2 150.5L94.1 151.5L94.0 152.5L94.0 153.0L93.9 154.0L93.8 155.0L93.7 156.0L93.6 157.0L93.5 157.5L93.4 158.5L93.2 159.5L93.1 160.5L93.0 161.1L92.8 162.0L92.7 163.0L92.5 163.9L92.4 164.5L92.2 165.5L92.0 166.2L91.8 167.0L91.5 168.0L91.4 168.5L91.1 169.5L90.9 170.0L90.9 170.0M86.4 128.0L87.0 127.9L87.6 128.0L88.5 128.3L89.0 128.5L89.7 129.0L90.2 129.5L90.7 130.0L91.1 130.5L91.5 131.1L92.0 132.0L92.2 132.5L92.5 133.2L92.8 134.0L93.0 134.6L93.3 135.5L93.5 136.5L93.6 137.0L93.7 138.0L93.8 139.0L93.9 140.0L93.9 141.0L93.9 142.0L93.9 143.0L93.9 144.0L93.9 145.0L93.8 146.0L93.8 147.0L93.7 148.0L93.7 149.0L93.6 150.0L93.6 151.0L93.5 151.7L93.4 152.5L93.3 153.5L93.3 154.5L93.1 155.5L93.0 156.5L93.0 157.0L92.8 158.0L92.7 159.0L92.5 160.0L92.4 160.5L92.3 161.5L92.1 162.5L92.0 163.0L91.8 164.0L91.5 165.0L91.4 165.5L91.1 166.5L91.0 167.0L90.7 168.0L90.5 168.5L90.1 169.5L89.9 170.0L89.9 170.0M84.1 170.0L83.9 169.5L83.5 168.5L83.3 168.0L83.0 167.1L82.8 166.5L82.5 165.5L82.4 165.0L82.2 164.0L82.0 163.2L81.9 162.5L81.7 161.5L81.5 160.6L81.4 160.0L81.2 159.0L81.1 158.0L81.0 157.3L80.9 156.5L80.8 155.5L80.7 154.5L80.6 153.5L80.5 152.9L80.4 152.0L80.3 151.0L80.3 150.0L80.2 149.0L80.2 148.0L80.1 147.0L80.1 146.0L80.0 145.0L80.0 144.0L80.0 143.5L80.0 142.5L80.0 141.5L80.0 140.5L80.0 139.9L80.1 139.0L80.2 138.0L80.3 137.0L80.5 136.2L80.7 135.5L80.9 134.5L81.1 134.0L81.5 133.0L81.7 132.5L82.0 132.0L82.5 131.1L82.9 130.5L83.3 130.0L83.7 129.5L84.3 129.0L85.0 128.5L85.5 128.3L86.4 128.0L86.4 128.0M86.0 129.0L86.5 128.9L87.5 128.9L88.0 129.0L89.0 129.4L89.5 129.8L90.0 130.3L90.5 130.8L91.0 131.5L91.3 132.0L91.6 132.5L92.0 133.4L92.2 134.0L92.5 134.8L92.7 135.5L92.9 136.5L93.0 137.0L93.2 138.0L93.3 139.0L93.4 140.0L93.4 141.0L93.4 142.0L93.4 143.0L93.4 144.0L93.3 145.0L93.3 146.0L93.3 147.0L93.2 148.0L93.2 149.0L93.1 150.0L93.0 151.0L93.0 151.5L92.9 152.5L92.8 153.5L92.7 154.5L92.6 155.5L92.5 156.1L92.4 157.0L92.2 158.0L92.1 159.0L92.0 159.5L91.8 160.5L91.6 161.5L91.5 162.1L91.3 163.0L91.0 164.0L90.9 164.5L90.6 165.5L90.4 166.0L90.1 167.0L89.9 167.5L89.5 168.3L89.1 169.0L88.8 169.5L88.4 170.0L88.4 170.0M85.7 170.0L85.2 169.5L84.9 169.0L84.5 168.3L84.1 167.5L83.9 167.0L83.6 166.0L83.4 165.5L83.1 164.5L83.0 164.0L82.7 163.0L82.5 162.1L82.4 161.5L82.2 160.5L82.0 159.5L81.9 159.0L81.7 158.0L81.6 157.0L81.5 156.3L81.4 155.5L81.3 154.5L81.2 153.5L81.1 152.5L81.0 151.6L80.9 151.0L80.9 150.0L80.8 149.0L80.7 148.0L80.7 147.0L80.7 146.0L80.6 145.0L80.6 144.0L80.6 143.0L80.6 142.0L80.6 141.0L80.6 140.0L80.6 139.0L80.8 138.0L80.9 137.0L81.0 136.5L81.3 135.5L81.5 134.8L81.8 134.0L82.0 133.4L82.4 132.5L82.7 132.0L83.0 131.5L83.5 130.9L84.0 130.3L84.5 129.8L85.0 129.5L86.0 129.0L86.0 129.0M85.8 130.0L86.5 129.8L87.5 129.8L88.3 130.0L89.0 130.4L89.5 130.8L90.0 131.3L90.5 131.9L90.9 132.5L91.2 133.0L91.5 133.7L91.8 134.5L92.0 135.0L92.3 136.0L92.5 136.9L92.6 137.5L92.8 138.5L92.8 139.5L92.9 140.5L92.9 141.5L92.9 142.5L92.9 143.5L92.9 144.5L92.8 145.5L92.8 146.5L92.7 147.5L92.7 148.5L92.6 149.5L92.5 150.5L92.5 151.0L92.4 152.0L92.3 153.0L92.2 154.0L92.1 155.0L92.0 155.6L91.9 156.5L91.7 157.5L91.6 158.5L91.5 159.0L91.3 160.0L91.1 161.0L90.9 161.5L90.7 162.5L90.5 163.2L90.2 164.0L90.0 164.7L89.7 165.5L89.5 166.0L89.0 166.9L88.6 167.5L88.1 168.0L87.5 168.4L87.0 168.5L86.5 168.4L85.9 168.0L85.5 167.5L85.0 166.8L84.6 166.0L84.4 165.5L84.0 164.6L83.8 164.0L83.5 163.0L83.4 162.5L83.1 161.5L83.0 161.0L82.8 160.0L82.6 159.0L82.5 158.5L82.3 157.5L82.2 156.5L82.0 155.5L81.9 155.0L81.8 154.0L81.7 153.0L81.6 152.0L81.5 151.0L81.5 150.5L81.4 149.5L81.3 148.5L81.3 147.5L81.2 146.5L81.2 145.5L81.2 144.5L81.1 143.5L81.1 142.5L81.1 141.5L81.1 140.5L81.2 139.5L81.3 138.5L81.4 137.5L81.5 137.0L81.7 136.0L82.0 135.1L82.2 134.5L82.5 133.8L82.9 133.0L83.2 132.5L83.5 132.0L84.0 131.4L84.5 130.8L85.0 130.4L85.8 130.0L85.8 130.0M85.6 131.0L86.5 130.7L87.5 130.6L88.5 131.0L89.0 131.3L89.5 131.8L90.0 132.3L90.5 133.0L90.8 133.5L91.0 134.0L91.4 135.0L91.6 135.5L91.9 136.5L92.0 137.0L92.2 138.0L92.3 139.0L92.4 140.0L92.4 141.0L92.4 142.0L92.4 143.0L92.4 144.0L92.3 145.0L92.3 146.0L92.3 147.0L92.2 148.0L92.1 149.0L92.1 150.0L92.0 150.8L91.9 151.5L91.8 152.5L91.7 153.5L91.6 154.5L91.5 155.1L91.4 156.0L91.2 157.0L91.0 158.0L90.9 158.5L90.7 159.5L90.5 160.4L90.3 161.0L90.0 162.0L89.9 162.5L89.5 163.5L89.3 164.0L89.0 164.6L88.5 165.4L88.0 165.9L87.5 166.2L86.5 166.2L86.0 165.8L85.5 165.3L85.0 164.5L84.8 164.0L84.5 163.3L84.2 162.5L84.0 161.9L83.7 161.0L83.5 160.1L83.4 159.5L83.2 158.5L83.0 157.7L82.9 157.0L82.7 156.0L82.6 155.0L82.5 154.5L82.4 153.5L82.2 152.5L82.1 151.5L82.0 150.5L82.0 150.0L81.9 149.0L81.9 148.0L81.8 147.0L81.7 146.0L81.7 145.0L81.7 144.0L81.7 143.0L81.6 142.0L81.6 141.0L81.7 140.0L81.7 139.0L81.9 138.0L82.0 137.3L82.2 136.5L82.5 135.5L82.7 135.0L83.0 134.2L83.3 133.5L83.6 133.0L84.0 132.4L84.5 131.9L85.0 131.4L85.6 131.0L85.6 131.0M85.5 132.0L86.5 131.6L87.5 131.5L88.5 131.9L89.0 132.3L89.5 132.8L90.0 133.4L90.3 134.0L90.6 134.5L91.0 135.4L91.2 136.0L91.5 137.0L91.6 137.5L91.8 138.5L91.9 139.5L91.9 140.5L91.9 141.5L91.9 142.5L91.9 143.5L91.9 144.5L91.8 145.5L91.8 146.5L91.7 147.5L91.7 148.5L91.6 149.5L91.5 150.5L91.5 151.0L91.3 152.0L91.2 153.0L91.1 154.0L91.0 154.6L90.9 155.5L90.7 156.5L90.5 157.4L90.4 158.0L90.1 159.0L90.0 159.5L89.7 160.5L89.5 161.0L89.1 162.0L88.8 162.5L88.5 163.1L88.0 163.7L87.5 164.0L86.6 164.0L86.0 163.6L85.6 163.0L85.3 162.5L85.0 162.0L84.6 161.0L84.4 160.5L84.1 159.5L84.0 159.0L83.7 158.0L83.5 157.0L83.4 156.5L83.3 155.5L83.1 154.5L83.0 153.9L82.9 153.0L82.8 152.0L82.6 151.0L82.5 150.0L82.5 149.5L82.4 148.5L82.4 147.5L82.3 146.5L82.3 145.5L82.2 144.5L82.2 143.5L82.2 142.5L82.2 141.5L82.2 140.5L82.2 139.5L82.3 138.5L82.5 137.5L82.6 137.0L82.9 136.0L83.1 135.5L83.5 134.5L83.8 134.0L84.1 133.5L84.5 132.9L85.0 132.4L85.5 132.0L85.5 132.0M86.5 132.5L87.0 132.4L87.6 132.5L88.5 132.9L89.0 133.3L89.5 133.9L89.9 134.5L90.2 135.0L90.5 135.7L90.8 136.5L91.0 137.2L91.2 138.0L91.3 139.0L91.4 140.0L91.5 141.0L91.4 142.0L91.4 143.0L91.4 144.0L91.4 145.0L91.3 146.0L91.3 147.0L91.2 148.0L91.1 149.0L91.0 150.0L91.0 150.5L90.9 151.5L90.7 152.5L90.6 153.5L90.5 154.0L90.3 155.0L90.1 156.0L90.0 156.5L89.7 157.5L89.5 158.4L89.3 159.0L89.0 159.8L88.6 160.5L88.3 161.0L87.9 161.5L87.0 161.9L86.3 161.5L85.8 161.0L85.5 160.5L85.0 159.5L84.9 159.0L84.5 158.0L84.4 157.5L84.1 156.5L84.0 155.9L83.8 155.0L83.6 154.0L83.5 153.1L83.4 152.5L83.3 151.5L83.2 150.5L83.1 149.5L83.0 148.9L82.9 148.0L82.9 147.0L82.8 146.0L82.8 145.0L82.7 144.0L82.7 143.0L82.7 142.0L82.7 141.0L82.7 140.0L82.8 139.0L83.0 138.0L83.1 137.5L83.3 136.5L83.5 136.0L83.9 135.0L84.2 134.5L84.5 134.0L85.0 133.4L85.5 133.0L86.5 132.5L86.5 132.5M86.4 133.5L87.0 133.4L87.7 133.5L88.5 133.9L89.0 134.4L89.5 135.0L89.8 135.5L90.0 136.0L90.4 137.0L90.5 137.5L90.7 138.5L90.9 139.5L90.9 140.5L91.0 141.5L90.9 142.5L90.9 143.5L90.9 144.5L90.8 145.5L90.8 146.5L90.7 147.5L90.6 148.5L90.5 149.5L90.5 150.0L90.3 151.0L90.2 152.0L90.0 153.0L89.9 153.5L89.7 154.5L89.5 155.5L89.3 156.0L89.0 157.0L88.8 157.5L88.5 158.2L88.0 159.0L87.5 159.4L87.0 159.5L86.5 159.3L86.0 158.8L85.6 158.0L85.3 157.5L85.0 156.6L84.8 156.0L84.5 155.0L84.4 154.5L84.2 153.5L84.0 152.5L84.0 152.0L83.8 151.0L83.7 150.0L83.6 149.0L83.5 148.1L83.5 147.5L83.4 146.5L83.3 145.5L83.3 144.5L83.2 143.5L83.2 142.5L83.2 141.5L83.2 140.5L83.3 139.5L83.4 138.5L83.5 138.0L83.8 137.0L84.0 136.4L84.4 135.5L84.7 135.0L85.1 134.5L85.6 134.0L86.4 133.5L86.4 133.5M86.6 134.5L87.5 134.5L88.0 134.7L88.5 135.0L89.0 135.6L89.5 136.4L89.7 137.0L90.0 137.8L90.2 138.5L90.3 139.5L90.4 140.5L90.4 141.5L90.4 142.5L90.4 143.5L90.3 144.5L90.3 145.5L90.2 146.5L90.1 147.5L90.0 148.5L90.0 149.0L89.8 150.0L89.7 151.0L89.5 152.0L89.4 152.5L89.2 153.5L89.0 154.1L88.7 155.0L88.5 155.5L88.0 156.4L87.5 156.9L87.0 157.0L86.5 156.7L86.0 156.1L85.7 155.5L85.5 155.0L85.2 154.0L85.0 153.5L84.8 152.5L84.6 151.5L84.5 151.0L84.3 150.0L84.2 149.0L84.1 148.0L84.0 147.0L84.0 146.5L83.9 145.5L83.8 144.5L83.8 143.5L83.8 142.5L83.8 141.5L83.8 140.5L83.8 139.5L84.0 138.5L84.1 138.0L84.4 137.0L84.7 136.5L85.0 135.9L85.5 135.2L86.0 134.8L86.6 134.5L86.6 134.5M86.0 136.0L87.0 135.6L88.0 135.9L88.5 136.3L89.0 137.0L89.2 137.5L89.5 138.4L89.6 139.0L89.8 140.0L89.8 141.0L89.8 142.0L89.8 143.0L89.8 144.0L89.7 145.0L89.6 146.0L89.5 147.0L89.5 147.5L89.3 148.5L89.2 149.5L89.0 150.5L88.9 151.0L88.6 152.0L88.4 152.5L88.0 153.5L87.6 154.0L87.0 154.2L86.5 153.9L86.0 153.1L85.8 152.5L85.5 151.7L85.3 151.0L85.1 150.0L85.0 149.5L84.9 148.5L84.7 147.5L84.6 146.5L84.5 145.5L84.5 145.0L84.4 144.0L84.4 143.0L84.4 142.0L84.4 141.0L84.4 140.0L84.5 139.3L84.7 138.5L85.0 137.5L85.3 137.0L85.6 136.5L86.0 136.0L86.0 136.0M86.9 137.0L87.3 137.0L88.0 137.4L88.5 138.0L88.7 138.5L89.0 139.5L89.1 140.0L89.1 141.0L89.1 142.0L89.1 143.0L89.0 144.0L89.0 144.7L88.9 145.5L88.8 146.5L88.6 147.5L88.5 148.2L88.3 149.0L88.0 149.9L87.6 150.5L87.0 150.8L86.5 150.4L86.1 149.5L85.9 149.0L85.7 148.0L85.5 147.0L85.4 146.5L85.3 145.5L85.2 144.5L85.2 143.5L85.1 142.5L85.1 141.5L85.1 140.5L85.2 139.5L85.5 138.5L85.8 138.0L86.1 137.5L86.9 137.0L86.9 137.0M86.5 139.5L87.0 139.0L87.7 139.5L88.0 140.0L88.1 141.0L88.1 142.0L88.0 143.0L88.0 143.5L87.8 144.5L87.5 145.5L87.0 145.8L86.6 145.0L86.4 144.5L86.3 143.5L86.2 142.5L86.1 141.5L86.2 140.5L86.5 139.5L86.5 139.5" stroke="#000" stroke-width="0.82" fill="none"/>
<ellipse cx="86.8" cy="138.5" rx="0.8" ry="6.5" fill="#fff"/>
<ellipse cx="86.3" cy="171.7" rx="26.4" ry="2.3" fill="#fff" stroke="#000" stroke-width="0.8"/>
<ellipse cx="86.8" cy="172.1" rx="21" ry="1.15" fill="#000"/>
<ellipse cx="87" cy="172.1" rx="4.5" ry="0.45" fill="#fff"/>
<path d="M217 38.5h1M226 39.5h1M202 40.5h1M305 41.5h1M280 42.5h1M228 43.5h1M208 44.5h1M221 44.5h1M217 45.5h1M221 45.5h1M233 45.5h1M332 45.5h2M204 46.5h1M210 46.5h1M212 46.5h1M218 46.5h1M226 46.5h1M230 46.5h2M308 46.5h1M201 47.5h1M211 47.5h1M217 47.5h1M224 47.5h1M260 47.5h1M323 47.5h1M332 47.5h1M208 48.5h1M227 48.5h1M230 48.5h1M238 48.5h1M303 48.5h1M202 49.5h1M208 49.5h1M213 49.5h1M241 49.5h1M249 49.5h1M329 49.5h1M220 50.5h1M252 50.5h1M205 51.5h1M215 51.5h1M219 51.5h1M233 51.5h1M239 51.5h1M247 51.5h1M252 51.5h1M307 51.5h1M330 51.5h1M220 52.5h2M228 52.5h1M237 52.5h2M244 52.5h1M247 52.5h1M256 52.5h1M285 52.5h1M298 52.5h1M214 53.5h1M220 53.5h1M239 53.5h2M249 53.5h1M285 53.5h1M243 54.5h1M262 54.5h1M249 55.5h1M256 55.5h1M329 55.5h1M254 56.5h2M286 56.5h1M304 56.5h1M253 57.5h1M265 57.5h1M296 57.5h1M271 58.5h1M313 58.5h1M262 59.5h3M274 59.5h1M325 59.5h1M261 61.5h1M263 62.5h1M266 63.5h1M280 63.5h1M288 63.5h1M269 64.5h1M275 64.5h1M277 64.5h1M301 65.5h1M315 65.5h1M264 66.5h1M274 66.5h1M279 66.5h1M285 66.5h1M300 66.5h1M265 67.5h2M296 67.5h1M269 68.5h1M274 68.5h1M286 68.5h1M293 68.5h2M299 68.5h1M337 68.5h1M268 69.5h1M302 69.5h2M270 70.5h1M272 70.5h2M276 70.5h1M279 70.5h1M292 70.5h1M304 71.5h1M310 71.5h1M300 72.5h2M307 74.5h1M326 74.5h1M312 76.5h1M301 77.5h1M303 77.5h1M321 77.5h2M340 77.5h1M328 78.5h1M303 79.5h1M317 79.5h1M302 81.5h1M307 81.5h1M302 82.5h1M311 82.5h1M312 84.5h1M328 85.5h1M303 86.5h1M308 86.5h1M314 87.5h1M202 89.5h1M206 89.5h1M302 89.5h1M207 90.5h1M307 90.5h1M307 91.5h2M209 92.5h1M305 92.5h1M201 93.5h1M207 93.5h1M304 93.5h1M323 93.5h2M204 94.5h1M206 94.5h1M302 94.5h1M305 94.5h1M201 95.5h2M206 96.5h1M303 96.5h1M201 97.5h1M303 97.5h1M310 97.5h1M207 98.5h1M209 99.5h1M303 99.5h1M328 99.5h1M306 100.5h1M201 101.5h1M208 101.5h1M211 102.5h1M201 103.5h1M205 103.5h1M210 103.5h2M213 103.5h1M304 103.5h1M204 104.5h1M209 104.5h1M306 104.5h1M313 104.5h1M216 105.5h1M299 105.5h1M316 105.5h1M202 106.5h1M297 106.5h1M300 106.5h1M215 107.5h1M293 107.5h1M298 107.5h1M300 107.5h1M292 108.5h1M301 108.5h2M208 109.5h1M286 109.5h1M291 109.5h1M295 109.5h1M330 109.5h1M203 110.5h1M207 110.5h1M209 110.5h1M215 110.5h1M228 110.5h1M263 110.5h1M284 110.5h1M288 110.5h1M293 110.5h1M297 110.5h1M211 111.5h1M231 111.5h1M259 111.5h2M265 111.5h1M288 111.5h1M219 112.5h1M228 112.5h1M236 112.5h1M282 112.5h1M213 113.5h1M235 113.5h1M241 113.5h1M243 113.5h1M251 113.5h1M254 113.5h1M256 113.5h1M258 113.5h1M261 113.5h1M272 113.5h1M281 113.5h1M284 113.5h1M308 113.5h1M215 114.5h1M223 114.5h1M231 114.5h1M251 114.5h1M257 114.5h1M302 114.5h1M211 115.5h1M222 115.5h1M224 115.5h1M230 115.5h1M237 115.5h1M244 115.5h1M250 115.5h1M256 115.5h1M258 115.5h1M293 115.5h1M268 116.5h1M271 121.5h1M281 124.5h1M253 130.5h1M228 152.5h1M282 163.5h1" stroke="#8a8a8a" stroke-width="1" fill="none"/>
<path d="M226 50.5h1M221 51.5h1M215 52.5h1M251 54.5h1M270 55.5h1M271 68.5h1M298 68.5h1M205 93.5h1M203 97.5h1M273 112.5h1" stroke="#1c1c1c" stroke-width="1" fill="none"/>
<path d="" stroke="#000" stroke-width="1" fill="none"/>
<path d="M201.1 54.8L202.1 54.8L203.1 54.8L204.1 54.8L205.1 54.8L206.1 54.7L207.1 54.6L207.6 54.6L208.6 54.5L209.6 54.5L210.6 54.5L211.6 54.4L212.6 54.3L213.6 54.3L214.6 54.3L215.6 54.3L216.6 54.2L217.6 54.2L218.3 54.1L219.1 54.0L220.1 53.9L221.1 53.8L222.1 53.7L223.1 53.7L223.6 53.6L224.6 53.5L225.6 53.4L226.6 53.3L227.6 53.3L228.6 53.2L229.6 53.2L230.4 53.1L231.1 53.1L232.1 53.0L233.1 53.1L233.6 53.1L234.6 53.2L235.6 53.3L236.6 53.4L237.6 53.5L238.1 53.6L239.1 53.8L240.1 53.9L241.1 54.1L241.6 54.2L242.6 54.4L243.5 54.6L244.1 54.8L245.1 55.1L245.6 55.2L246.6 55.5L247.1 55.7L248.1 56.0L248.6 56.2L249.6 56.6L250.1 56.8L250.8 57.1L251.6 57.5L252.1 57.8L252.7 58.1L253.5 58.6L254.1 59.0L254.6 59.3L255.2 59.6L256.1 60.1L256.6 60.4L257.1 60.7L257.8 61.1L258.5 61.6L259.1 62.1L259.6 62.4L260.1 62.7L260.6 63.1L261.3 63.6L261.8 64.1L262.3 64.6L262.6 65.1L263.1 65.8L263.6 66.6L264.0 67.1L264.3 67.6L264.6 68.1L265.1 68.9L265.6 69.5L266.1 70.0L266.6 70.4L267.1 70.8L267.6 71.1L268.6 71.6L269.1 71.8L270.1 72.1L270.6 72.2L271.6 72.3L272.6 72.4L273.6 72.5L274.6 72.4L275.6 72.3L276.6 72.2L277.1 72.1L278.1 72.1L279.1 72.1L280.1 72.1L281.1 72.1L282.1 72.1L283.1 72.1L284.1 72.0L285.1 72.0L286.1 72.0L287.1 72.0L288.1 72.1L288.6 72.1L289.6 72.2L290.6 72.3L291.6 72.5L292.5 72.6L293.1 72.7L294.1 73.0L294.6 73.2L295.6 73.6L296.1 74.0L296.6 74.4L297.1 74.9L297.6 75.6L298.0 76.1L298.3 76.6L298.6 77.2L299.0 78.1L299.2 78.6L299.5 79.6L299.6 80.3L299.8 81.1L300.0 82.1L300.1 83.1L300.2 83.6L300.4 84.6L300.5 85.6L300.6 86.6L300.7 87.1L300.7 88.1L300.8 89.1L300.9 90.1L300.9 91.1L300.9 92.1L300.8 93.1L300.7 94.1L300.6 94.6L300.4 95.6L300.2 96.6L300.1 97.1L299.8 98.1L299.6 98.6L299.2 99.6L299.0 100.1L298.6 100.9L298.2 101.6L298.0 102.1L297.6 102.7L297.1 103.5L296.6 104.1L296.2 104.6L295.6 105.1L295.1 105.6L294.6 106.0L294.1 106.3L293.5 106.6L292.6 107.0L292.1 107.2L291.1 107.5L290.6 107.7L289.6 107.9L288.6 108.0L287.7 108.1L287.1 108.2L286.1 108.2L285.1 108.3L284.1 108.4L283.1 108.4L282.1 108.5L281.1 108.6L280.6 108.7L279.6 108.8L278.6 108.9L277.6 108.9L276.6 109.0L275.6 109.1L275.1 109.1L274.1 109.2L273.1 109.2L272.1 109.3L271.1 109.3L270.1 109.2L269.6 109.0L268.6 108.7L268.1 108.5L267.1 108.2L266.6 108.0L265.6 107.9L264.6 108.1L264.1 108.2L263.2 108.6L262.6 109.0L262.1 109.2L261.5 109.6L260.6 110.1L260.1 110.4L259.6 110.6L258.6 111.0L258.1 111.2L257.1 111.4L256.1 111.6L255.6 111.7L254.6 111.9L253.6 112.1L253.1 112.2L252.1 112.3L251.1 112.4L250.1 112.5L249.1 112.5L248.1 112.5L247.1 112.5L246.1 112.5L245.1 112.4L244.1 112.3L243.1 112.3L242.1 112.2L241.6 112.1L240.6 112.0L239.6 112.0L238.6 111.9L237.6 111.7L237.1 111.6L236.1 111.5L235.1 111.3L234.3 111.1L233.6 111.0L232.6 110.8L231.6 110.7L231.1 110.6L230.1 110.4L229.1 110.2L228.6 110.1L227.6 109.9L226.6 109.7L226.1 109.5L225.1 109.3L224.6 109.1L223.6 108.8L223.0 108.6L222.1 108.3L221.6 108.1L220.7 107.6L220.1 107.3L219.6 107.0L218.9 106.6L218.2 106.1L217.6 105.7L217.1 105.3L216.6 104.8L216.1 104.3L215.6 103.7L215.2 103.1L214.8 102.6L214.5 102.1L214.1 101.3L213.8 100.6L213.6 100.1L213.2 99.1L213.0 98.6L212.6 97.7L212.4 97.1L212.1 96.6L211.7 95.6L211.5 95.1L211.1 94.3L210.8 93.6L210.6 93.1L210.2 92.1L209.9 91.6L209.6 91.1L209.1 90.5L208.6 90.0L208.1 89.6L207.1 89.1L206.6 88.9L205.8 88.6L205.1 88.4L204.3 88.1L203.6 88.0L202.6 87.8L201.8 87.6L201.1 87.6L201.1 87.6M201.1 56.2L202.1 56.1L203.1 56.1L203.7 56.1L204.6 56.1L205.6 56.1L206.6 56.0L207.6 56.0L208.6 55.9L209.6 55.9L210.6 55.9L211.6 55.8L212.6 55.7L213.6 55.6L214.1 55.6L215.1 55.6L216.1 55.6L217.1 55.5L218.1 55.5L219.1 55.3L220.1 55.2L220.9 55.1L221.6 55.1L222.6 55.0L223.6 54.9L224.6 54.8L225.6 54.8L226.6 54.7L227.4 54.6L228.1 54.6L229.1 54.5L230.1 54.5L231.1 54.4L232.1 54.4L233.1 54.4L234.1 54.5L235.1 54.6L235.6 54.7L236.6 54.8L237.6 54.9L238.6 55.1L239.1 55.2L240.1 55.3L241.1 55.5L242.0 55.6L242.6 55.7L243.6 56.0L244.1 56.2L245.1 56.4L245.9 56.6L246.6 56.8L247.5 57.1L248.1 57.4L248.8 57.6L249.6 57.9L250.1 58.1L251.1 58.6L251.6 58.9L252.1 59.1L253.0 59.6L253.6 60.0L254.1 60.3L254.7 60.6L255.6 61.1L256.1 61.4L256.6 61.7L257.3 62.1L258.0 62.6L258.6 63.1L259.1 63.4L259.6 63.8L260.1 64.1L260.7 64.6L261.2 65.1L261.6 65.7L262.1 66.4L262.6 67.1L262.9 67.6L263.3 68.1L263.6 68.7L264.1 69.5L264.6 70.1L265.0 70.6L265.5 71.1L266.1 71.6L266.6 72.1L267.1 72.5L267.6 72.8L268.1 73.1L269.1 73.6L269.6 73.8L270.4 74.1L271.1 74.4L272.1 74.6L272.6 74.7L273.6 74.8L274.6 74.9L275.6 74.8L276.6 74.7L277.2 74.6L278.1 74.5L279.1 74.5L280.1 74.4L281.1 74.3L282.1 74.3L283.1 74.2L284.1 74.1L284.6 74.1L285.6 74.1L286.6 74.1L287.6 74.1L288.3 74.1L289.1 74.2L290.1 74.3L291.1 74.5L291.8 74.6L292.6 74.8L293.5 75.1L294.1 75.4L294.6 75.7L295.2 76.1L295.6 76.6L296.1 77.3L296.6 78.1L296.9 78.6L297.1 79.1L297.5 80.1L297.6 80.6L297.9 81.6L298.1 82.6L298.2 83.1L298.4 84.1L298.6 85.1L298.6 85.6L298.8 86.6L298.9 87.6L298.9 88.6L299.0 89.6L299.0 90.6L299.0 91.6L298.9 92.6L298.7 93.6L298.6 94.2L298.4 95.1L298.2 96.1L298.0 96.6L297.7 97.6L297.5 98.1L297.1 99.0L296.8 99.6L296.6 100.1L296.1 100.9L295.7 101.6L295.4 102.1L295.0 102.6L294.5 103.1L294.0 103.6L293.4 104.1L292.6 104.6L292.1 104.8L291.4 105.1L290.6 105.4L289.8 105.6L289.1 105.8L288.1 105.9L287.1 106.0L286.1 106.1L285.6 106.1L284.6 106.2L283.6 106.3L282.6 106.3L281.6 106.3L280.6 106.4L279.6 106.5L278.6 106.5L277.6 106.5L276.6 106.6L276.1 106.6L275.1 106.7L274.1 106.8L273.1 106.9L272.1 107.0L271.1 107.1L270.1 107.0L269.1 106.8L268.3 106.6L267.6 106.5L266.6 106.4L265.6 106.4L264.6 106.6L264.1 106.8L263.3 107.1L262.6 107.5L262.1 107.8L261.5 108.1L260.7 108.6L260.1 109.0L259.6 109.2L258.7 109.6L258.1 109.8L257.1 110.1L256.6 110.2L255.6 110.4L254.6 110.6L254.1 110.7L253.1 110.9L252.1 111.0L251.1 111.1L250.6 111.2L249.6 111.2L248.6 111.3L247.6 111.3L246.6 111.3L245.6 111.2L244.6 111.1L244.1 111.1L243.1 111.0L242.1 111.0L241.1 110.9L240.1 110.8L239.1 110.7L238.6 110.6L237.6 110.5L236.6 110.3L235.6 110.1L235.1 110.0L234.1 109.9L233.1 109.7L232.6 109.6L231.6 109.4L230.6 109.2L230.1 109.1L229.1 108.9L228.1 108.7L227.6 108.6L226.6 108.3L226.0 108.1L225.1 107.9L224.4 107.6L223.6 107.4L223.0 107.1L222.1 106.8L221.6 106.5L220.9 106.1L220.1 105.7L219.6 105.3L219.1 105.0L218.6 104.6L218.1 104.1L217.5 103.6L217.1 103.1L216.6 102.6L216.1 101.8L215.7 101.1L215.5 100.6L215.1 99.8L214.9 99.1L214.6 98.5L214.2 97.6L214.0 97.1L213.6 96.3L213.3 95.6L213.1 95.1L212.6 94.1L212.4 93.6L212.1 93.0L211.7 92.1L211.5 91.6L211.1 91.0L210.6 90.1L210.2 89.6L209.7 89.1L209.1 88.6L208.6 88.3L208.1 88.0L207.3 87.6L206.6 87.4L206.0 87.1L205.1 86.8L204.6 86.6L203.6 86.4L202.6 86.2L202.1 86.1L201.1 86.0L201.1 86.0M225.2 55.6L226.1 55.6L227.1 55.5L228.1 55.4L229.1 55.4L230.1 55.3L231.1 55.3L232.1 55.3L233.1 55.3L234.1 55.4L235.1 55.5L236.1 55.6L236.6 55.6L237.6 55.8L238.6 55.9L239.6 56.1L240.1 56.2L241.1 56.3L242.1 56.5L242.7 56.6L243.6 56.8L244.6 57.1L245.1 57.2L246.1 57.5L246.6 57.7L247.6 58.0L248.1 58.2L249.1 58.5L249.6 58.7L250.5 59.1L251.1 59.4L251.6 59.7L252.5 60.1L253.1 60.5L253.6 60.8L254.2 61.1L255.1 61.6L255.6 61.9L256.1 62.2L256.8 62.6L257.5 63.1L258.1 63.5L258.6 63.9L259.1 64.2L259.7 64.6L260.2 65.1L260.7 65.6L261.1 66.1L261.6 66.9L262.1 67.6L262.5 68.1L262.8 68.6L263.1 69.2L263.6 70.0L264.1 70.6L264.5 71.1L264.9 71.6L265.4 72.1L265.9 72.6L266.4 73.1L267.0 73.6L267.6 74.1L268.1 74.5L268.6 74.9L269.1 75.2L269.9 75.6L270.6 76.1L271.1 76.4L271.7 76.6L272.6 77.0L273.1 77.1L274.1 77.3L275.1 77.3L276.1 77.1L276.6 77.0L277.6 76.8L278.3 76.6L279.1 76.5L280.1 76.3L280.9 76.1L281.6 76.0L282.6 75.8L283.6 75.7L284.1 75.6L285.1 75.5L286.1 75.5L287.1 75.5L288.1 75.5L289.1 75.6L289.6 75.7L290.6 75.9L291.6 76.1L292.1 76.2L293.1 76.6L293.6 76.9L294.1 77.3L294.6 77.8L295.1 78.5L295.5 79.1L295.8 79.6L296.1 80.4L296.4 81.1L296.6 81.9L296.8 82.6L297.1 83.6L297.2 84.1L297.4 85.1L297.5 86.1L297.6 86.8L297.7 87.6L297.8 88.6L297.8 89.6L297.8 90.6L297.7 91.6L297.6 92.4L297.5 93.1L297.3 94.1L297.1 94.8L296.9 95.6L296.6 96.3L296.3 97.1L296.1 97.6L295.6 98.6L295.4 99.1L295.1 99.6L294.6 100.4L294.1 101.1L293.7 101.6L293.3 102.1L292.7 102.6L292.1 103.1L291.6 103.3L291.0 103.6L290.1 104.0L289.6 104.1L288.6 104.4L287.6 104.5L286.6 104.6L286.1 104.7L285.1 104.7L284.1 104.8L283.1 104.8L282.1 104.8L281.1 104.8L280.1 104.8L279.1 104.8L278.1 104.8L277.1 104.7L276.1 104.7L275.1 104.8L274.1 104.8L273.1 104.9L272.1 105.0L271.1 105.1L270.6 105.1L270.1 105.1L269.1 105.1L268.1 105.0L267.1 105.1L266.6 105.1L265.6 105.3L264.6 105.6L264.1 105.8L263.4 106.1L262.6 106.5L262.1 106.8L261.6 107.1L260.7 107.6L260.1 108.0L259.6 108.3L259.0 108.6L258.1 109.0L257.6 109.1L256.6 109.4L255.6 109.6L255.1 109.7L254.1 109.9L253.1 110.1L252.6 110.2L251.6 110.3L250.6 110.4L249.6 110.5L248.6 110.5L247.6 110.5L246.6 110.5L245.6 110.5L244.6 110.4L243.6 110.3L242.6 110.3L241.6 110.2L241.1 110.1L240.1 110.1L239.1 110.0L238.1 109.8L237.1 109.6L236.6 109.6L235.6 109.4L234.6 109.2L234.1 109.1L233.1 108.9L232.1 108.7L231.6 108.6L230.6 108.4L229.6 108.2L229.1 108.1L228.1 107.8L227.4 107.6L226.6 107.4L225.9 107.1L225.1 106.9L224.3 106.6L223.6 106.4L223.1 106.1L222.1 105.6L221.6 105.4L221.1 105.1L220.4 104.6L219.7 104.1L219.1 103.6L218.6 103.1L218.1 102.6L217.7 102.1L217.4 101.6L217.0 101.1L216.6 100.3L216.3 99.6L216.1 99.1L215.7 98.1L215.5 97.6L215.1 96.9L214.8 96.1L214.5 95.6L214.1 94.8L213.8 94.1L213.5 93.6L213.1 92.7L212.8 92.1L212.6 91.6L212.1 90.7L211.8 90.1L211.5 89.6L211.1 89.1L210.6 88.6L210.1 88.1L209.5 87.6L208.7 87.1L208.1 86.8L207.6 86.6L206.6 86.2L206.1 86.0L205.3 85.6L204.6 85.4L203.6 85.1L203.1 85.0L202.1 84.8L201.1 84.7L201.1 84.7M201.1 57.1L202.1 57.1L203.1 57.0L204.1 57.0L205.1 57.0L206.1 57.0L207.1 56.9L208.1 56.9L209.1 56.8L210.1 56.8L211.1 56.8L212.1 56.7L212.8 56.6L213.6 56.6L214.6 56.5L215.6 56.5L216.6 56.4L217.6 56.4L218.6 56.3L219.6 56.1L220.1 56.1L221.1 55.9L222.1 55.9L223.1 55.8L224.1 55.7L225.1 55.6L225.2 55.6M227.4 56.1L228.1 56.1L229.1 56.1L230.1 56.0L231.1 55.9L232.1 55.9L233.1 56.0L234.1 56.1L234.7 56.1L235.6 56.2L236.6 56.3L237.6 56.4L238.6 56.6L239.1 56.7L240.1 56.8L241.1 57.0L242.0 57.1L242.6 57.3L243.6 57.5L244.1 57.6L245.1 57.9L246.1 58.1L246.6 58.3L247.6 58.6L248.1 58.8L249.1 59.1L249.6 59.3L250.3 59.6L251.1 60.0L251.6 60.3L252.3 60.6L253.1 61.1L253.6 61.4L254.1 61.7L255.0 62.1L255.6 62.5L256.1 62.8L256.6 63.1L257.3 63.6L258.1 64.1L258.6 64.5L259.1 64.9L259.6 65.3L260.1 65.8L260.6 66.4L261.1 67.1L261.5 67.6L261.8 68.1L262.1 68.6L262.6 69.5L263.0 70.1L263.4 70.6L263.7 71.1L264.1 71.7L264.6 72.3L265.1 72.9L265.6 73.4L266.1 74.0L266.6 74.5L267.1 75.0L267.6 75.5L268.1 76.0L268.6 76.5L269.1 77.0L269.6 77.5L270.1 78.1L270.5 78.6L270.9 79.1L271.2 79.6L271.6 80.3L272.1 81.0L272.6 81.4L273.6 81.3L274.1 81.0L274.7 80.6L275.4 80.1L276.1 79.7L276.6 79.4L277.2 79.1L278.1 78.7L278.6 78.5L279.6 78.1L280.1 77.9L281.1 77.6L281.6 77.5L282.6 77.2L283.1 77.1L284.1 76.9L285.1 76.7L286.1 76.6L286.6 76.6L287.4 76.6L288.1 76.7L289.1 76.8L290.1 77.0L290.8 77.1L291.6 77.4L292.2 77.6L293.1 78.1L293.6 78.6L294.1 79.1L294.4 79.6L294.7 80.1L295.1 80.9L295.4 81.6L295.6 82.2L295.9 83.1L296.1 83.9L296.3 84.6L296.5 85.6L296.6 86.4L296.7 87.1L296.8 88.1L296.8 89.1L296.8 90.1L296.8 91.1L296.6 92.1L296.6 92.6L296.3 93.6L296.1 94.3L295.8 95.1L295.6 95.7L295.2 96.6L295.0 97.1L294.6 97.8L294.1 98.6L293.8 99.1L293.5 99.6L293.1 100.1L292.6 100.8L292.1 101.3L291.6 101.7L291.0 102.1L290.1 102.5L289.6 102.7L288.6 103.0L288.1 103.1L287.1 103.3L286.1 103.4L285.1 103.5L284.1 103.5L283.1 103.5L282.1 103.4L281.1 103.3L280.1 103.2L279.1 103.1L278.6 103.1L277.6 102.9L276.6 102.6L276.1 102.5L275.1 102.4L274.1 102.3L273.1 102.4L272.1 102.6L271.6 102.6L270.6 102.8L269.6 102.9L268.9 103.1L268.1 103.3L267.2 103.6L266.6 103.8L265.9 104.1L265.1 104.4L264.6 104.6L263.6 105.1L263.1 105.4L262.6 105.7L261.9 106.1L261.1 106.6L260.6 106.9L260.1 107.2L259.5 107.6L258.6 108.1L258.1 108.3L257.1 108.6L256.6 108.7L255.6 109.0L254.9 109.1L254.1 109.3L253.1 109.5L252.1 109.6L251.6 109.7L250.6 109.8L249.6 109.9L248.6 109.9L247.6 109.9L246.6 109.9L245.6 109.9L244.6 109.8L243.6 109.8L242.6 109.7L242.0 109.6L241.1 109.6L240.1 109.5L239.1 109.4L238.1 109.2L237.6 109.1L236.6 109.0L235.6 108.8L234.9 108.6L234.1 108.5L233.1 108.3L232.5 108.1L231.6 107.9L230.6 107.7L230.1 107.6L229.1 107.3L228.3 107.1L227.6 106.9L226.8 106.6L226.1 106.4L225.4 106.1L224.6 105.8L224.1 105.6L223.1 105.2L222.6 104.9L222.1 104.6L221.4 104.1L220.7 103.6L220.1 103.2L219.6 102.7L219.1 102.2L218.7 101.6L218.3 101.1L218.0 100.6L217.6 99.9L217.3 99.1L217.1 98.6L216.6 97.6L216.4 97.1L216.1 96.6L215.6 95.6L215.4 95.1L215.1 94.6L214.6 93.7L214.3 93.1L214.1 92.6L213.6 91.7L213.3 91.1L213.1 90.6L212.6 89.9L212.2 89.1L211.8 88.6L211.4 88.1L210.9 87.6L210.3 87.1L209.6 86.6L209.1 86.3L208.6 86.0L207.9 85.6L207.1 85.3L206.6 85.0L205.7 84.6L205.1 84.4L204.4 84.1L203.6 83.9L202.6 83.7L202.1 83.5L201.1 83.4L201.1 83.4M201.1 57.9L202.1 57.8L203.1 57.8L204.1 57.8L205.1 57.8L206.1 57.8L207.1 57.7L208.1 57.7L209.1 57.7L210.1 57.6L211.0 57.6L211.6 57.6L212.6 57.5L213.6 57.4L214.6 57.3L215.6 57.3L216.6 57.2L217.6 57.1L218.1 57.1L219.1 56.9L220.1 56.8L221.1 56.6L221.6 56.6L222.6 56.5L223.6 56.4L224.6 56.3L225.6 56.3L226.6 56.2L227.4 56.1L227.4 56.1M229.5 56.6L230.1 56.6L231.1 56.5L232.1 56.5L233.1 56.6L233.6 56.6L234.6 56.7L235.6 56.8L236.6 56.9L237.6 57.0L238.3 57.1L239.1 57.2L240.1 57.4L241.1 57.5L241.6 57.6L242.6 57.8L243.6 58.1L244.1 58.2L245.1 58.4L245.9 58.6L246.6 58.8L247.5 59.1L248.1 59.3L249.0 59.6L249.6 59.9L250.2 60.1L251.1 60.6L251.6 60.8L252.2 61.1L253.1 61.6L253.6 61.9L254.1 62.2L255.0 62.6L255.6 63.0L256.1 63.3L256.6 63.7L257.3 64.1L258.0 64.6L258.6 65.1L259.1 65.5L259.6 66.0L260.1 66.5L260.6 67.1L260.9 67.6L261.2 68.1L261.6 68.7L262.1 69.6L262.4 70.1L262.7 70.6L263.1 71.2L263.6 71.9L264.1 72.6L264.5 73.1L264.9 73.6L265.3 74.1L265.7 74.6L266.1 75.2L266.6 75.9L267.1 76.5L267.6 77.1L267.9 77.6L268.2 78.1L268.6 78.8L269.0 79.6L269.2 80.1L269.5 81.1L269.7 81.6L270.0 82.6L270.2 83.1L270.6 83.8L271.1 84.3L271.6 84.7L272.6 84.9L273.6 84.7L274.1 84.5L274.6 84.1L275.1 83.6L275.6 83.1L276.1 82.5L276.6 82.0L277.1 81.5L277.6 81.1L278.2 80.6L279.0 80.1L279.6 79.8L280.1 79.5L280.9 79.1L281.6 78.8L282.1 78.6L283.1 78.3L283.7 78.1L284.6 77.9L285.6 77.8L286.6 77.7L287.6 77.7L288.6 77.8L289.6 77.9L290.4 78.1L291.1 78.3L291.8 78.6L292.5 79.1L293.1 79.6L293.5 80.1L293.8 80.6L294.1 81.1L294.6 82.1L294.8 82.6L295.1 83.6L295.3 84.1L295.5 85.1L295.6 85.6L295.8 86.6L295.9 87.6L296.0 88.6L296.0 89.6L295.9 90.6L295.8 91.6L295.6 92.6L295.5 93.1L295.2 94.1L295.0 94.6L294.6 95.4L294.3 96.1L294.0 96.6L293.6 97.3L293.1 98.0L292.7 98.6L292.3 99.1L291.9 99.6L291.4 100.1L290.8 100.6L290.1 101.0L289.6 101.3L288.7 101.6L288.1 101.8L287.1 102.0L286.1 102.1L285.1 102.1L284.1 102.1L283.1 102.0L282.1 101.8L281.3 101.6L280.6 101.4L280.0 101.1L279.1 100.6L278.6 100.2L278.1 99.6L277.8 99.1L277.5 98.6L277.1 98.1L276.6 97.6L276.0 97.1L275.1 96.7L274.6 96.5L273.6 96.5L272.6 96.5L272.1 96.6L271.1 97.1L270.6 97.5L270.1 98.0L269.7 98.6L269.3 99.1L269.0 99.6L268.6 100.2L268.1 100.8L267.6 101.3L267.1 101.8L266.6 102.2L266.1 102.6L265.3 103.1L264.6 103.6L264.1 103.9L263.6 104.2L262.9 104.6L262.2 105.1L261.6 105.5L261.1 105.8L260.6 106.2L259.9 106.6L259.1 107.1L258.6 107.4L258.1 107.6L257.1 108.0L256.6 108.1L255.6 108.4L254.6 108.6L254.1 108.7L253.1 108.9L252.1 109.1L251.6 109.1L250.6 109.3L249.6 109.4L248.6 109.4L247.6 109.4L246.6 109.4L245.6 109.4L244.6 109.3L243.6 109.3L242.6 109.2L242.0 109.1L241.1 109.1L240.1 109.0L239.1 108.9L238.1 108.7L237.6 108.6L236.6 108.4L235.6 108.2L235.1 108.1L234.1 107.9L233.1 107.7L232.6 107.6L231.6 107.3L230.8 107.1L230.1 107.0L229.1 106.7L228.6 106.5L227.6 106.2L227.1 106.0L226.2 105.6L225.6 105.4L225.0 105.1L224.1 104.7L223.6 104.5L223.0 104.1L222.3 103.6L221.6 103.1L221.1 102.7L220.6 102.3L220.1 101.7L219.6 101.2L219.2 100.6L218.9 100.1L218.6 99.5L218.2 98.6L218.0 98.1L217.6 97.3L217.3 96.6L217.0 96.1L216.6 95.4L216.2 94.6L215.9 94.1L215.6 93.6L215.1 92.7L214.8 92.1L214.6 91.6L214.1 90.8L213.7 90.1L213.4 89.6L213.1 89.1L212.6 88.4L212.1 87.7L211.6 87.2L211.1 86.7L210.6 86.3L210.1 85.9L209.6 85.6L209.0 85.1L208.1 84.6L207.6 84.4L207.1 84.1L206.2 83.6L205.6 83.4L205.1 83.1L204.1 82.8L203.6 82.6L202.6 82.4L201.6 82.2L201.1 82.1L201.1 82.1M201.1 58.6L201.6 58.6L202.6 58.5L203.6 58.5L204.6 58.5L205.6 58.5L206.6 58.5L207.6 58.5L208.6 58.4L209.6 58.5L210.6 58.5L211.6 58.4L212.6 58.3L213.6 58.2L214.3 58.1L215.1 58.1L216.1 58.0L217.1 57.9L218.1 57.8L219.0 57.6L219.6 57.5L220.6 57.4L221.6 57.2L222.6 57.1L223.1 57.1L224.1 57.0L225.1 56.9L226.1 56.8L227.1 56.7L228.1 56.7L229.1 56.6L229.5 56.6M230.2 57.1L231.1 57.1L232.1 57.1L233.1 57.1L233.6 57.2L234.6 57.2L235.6 57.3L236.6 57.4L237.6 57.6L238.1 57.6L239.1 57.8L240.1 57.9L241.1 58.1L241.6 58.2L242.6 58.4L243.6 58.6L244.1 58.7L245.1 58.9L245.9 59.1L246.6 59.3L247.5 59.6L248.1 59.8L249.0 60.1L249.6 60.4L250.2 60.6L251.1 61.1L251.6 61.3L252.2 61.6L253.1 62.1L253.6 62.4L254.1 62.6L255.0 63.1L255.6 63.5L256.1 63.8L256.6 64.2L257.2 64.6L258.0 65.1L258.6 65.6L259.1 66.1L259.6 66.6L260.0 67.1L260.4 67.6L260.7 68.1L261.1 68.8L261.6 69.6L261.9 70.1L262.2 70.6L262.6 71.3L263.1 72.1L263.5 72.6L263.8 73.1L264.2 73.6L264.6 74.3L265.1 75.1L265.5 75.6L265.8 76.1L266.1 76.8L266.6 77.6L266.9 78.1L267.1 78.7L267.6 79.6L267.8 80.1L268.1 81.1L268.3 81.6L268.6 82.6L268.8 83.1L269.1 83.8L269.6 84.6L269.9 85.1L270.4 85.6L271.0 86.1L271.6 86.5L272.1 86.6L273.1 86.7L273.6 86.6L274.6 86.2L275.1 85.9L275.6 85.4L276.1 84.9L276.6 84.4L277.1 83.7L277.6 83.2L278.1 82.6L278.6 82.2L279.1 81.7L279.6 81.4L280.1 81.0L280.7 80.6L281.6 80.1L282.1 79.9L282.6 79.6L283.6 79.3L284.1 79.1L285.1 78.8L286.1 78.7L287.1 78.6L288.1 78.7L289.1 78.8L290.1 79.1L290.6 79.2L291.5 79.6L292.1 80.1L292.6 80.6L293.0 81.1L293.3 81.6L293.6 82.2L294.1 83.1L294.3 83.6L294.6 84.6L294.7 85.1L295.0 86.1L295.1 87.1L295.2 87.6L295.2 88.6L295.2 89.6L295.1 90.6L295.1 91.1L294.9 92.1L294.6 93.0L294.4 93.6L294.1 94.3L293.7 95.1L293.5 95.6L293.1 96.2L292.6 96.9L292.1 97.5L291.6 98.1L291.1 98.6L290.6 99.1L290.1 99.5L289.6 99.8L288.8 100.1L288.1 100.4L287.1 100.5L286.1 100.6L285.1 100.6L284.1 100.5L283.1 100.2L282.6 100.0L282.0 99.6L281.2 99.1L280.6 98.6L280.1 98.2L279.6 97.7L279.1 97.2L278.6 96.7L278.1 96.3L277.6 95.9L277.1 95.5L276.5 95.1L275.6 94.8L275.1 94.6L274.1 94.4L273.1 94.4L272.1 94.5L271.5 94.6L270.6 95.0L270.1 95.3L269.6 95.7L269.1 96.2L268.6 96.7L268.1 97.4L267.6 98.1L267.3 98.6L267.0 99.1L266.6 99.7L266.1 100.5L265.6 101.1L265.2 101.6L264.7 102.1L264.1 102.6L263.6 103.1L263.1 103.5L262.6 103.9L262.1 104.3L261.6 104.7L261.0 105.1L260.3 105.6L259.6 106.1L259.1 106.5L258.6 106.8L257.9 107.1L257.1 107.4L256.5 107.6L255.6 107.9L254.6 108.1L254.1 108.2L253.1 108.4L252.1 108.6L251.6 108.6L250.6 108.8L249.6 108.9L248.6 108.9L247.6 109.0L246.6 109.0L245.6 108.9L244.6 108.9L243.6 108.8L242.6 108.7L241.6 108.6L241.1 108.6L240.1 108.5L239.1 108.4L238.1 108.2L237.6 108.1L236.6 107.9L235.6 107.7L235.1 107.6L234.1 107.4L233.1 107.1L232.6 107.0L231.6 106.8L231.1 106.6L230.1 106.3L229.5 106.1L228.6 105.8L228.0 105.6L227.1 105.2L226.6 105.0L225.8 104.6L225.1 104.3L224.6 104.0L223.9 103.6L223.2 103.1L222.6 102.7L222.1 102.3L221.6 101.8L221.1 101.3L220.6 100.7L220.2 100.1L219.9 99.6L219.6 99.1L219.2 98.1L218.9 97.6L218.6 97.0L218.1 96.1L217.9 95.6L217.6 95.1L217.1 94.4L216.7 93.6L216.4 93.1L216.1 92.6L215.6 91.8L215.2 91.1L214.9 90.6L214.6 90.1L214.1 89.3L213.7 88.6L213.4 88.1L213.0 87.6L212.6 87.1L212.1 86.6L211.6 86.0L211.1 85.6L210.6 85.1L209.9 84.6L209.2 84.1L208.6 83.8L208.1 83.5L207.6 83.1L206.7 82.6L206.1 82.3L205.6 82.1L204.6 81.7L204.1 81.5L203.1 81.2L202.6 81.0L201.6 80.8L201.1 80.7M201.1 59.3L202.1 59.2L203.1 59.2L204.1 59.2L205.1 59.2L206.1 59.2L207.1 59.2L208.1 59.2L209.1 59.3L210.1 59.3L211.1 59.3L212.1 59.3L213.1 59.1L213.6 59.1L214.6 58.9L215.6 58.8L216.6 58.7L217.2 58.6L218.1 58.5L219.1 58.3L220.0 58.1L220.6 58.0L221.6 57.9L222.6 57.7L223.6 57.6L224.1 57.6L225.1 57.5L226.1 57.4L227.1 57.3L228.1 57.2L229.1 57.2L230.1 57.1L230.2 57.1M230.6 57.6L231.1 57.6L232.1 57.6L233.0 57.6L233.6 57.7L234.6 57.7L235.6 57.8L236.6 57.9L237.6 58.1L238.1 58.1L239.1 58.3L240.1 58.4L241.1 58.6L241.6 58.7L242.6 58.9L243.6 59.1L244.1 59.2L245.1 59.4L245.9 59.6L246.6 59.8L247.6 60.1L248.1 60.3L249.1 60.6L249.6 60.8L250.3 61.1L251.1 61.5L251.6 61.8L252.3 62.1L253.1 62.6L253.6 62.8L254.2 63.1L255.1 63.6L255.6 64.0L256.1 64.3L256.6 64.7L257.3 65.1L257.9 65.6L258.6 66.1L259.1 66.6L259.5 67.1L259.9 67.6L260.2 68.1L260.6 68.8L261.1 69.6L261.4 70.1L261.7 70.6L262.1 71.4L262.6 72.1L262.9 72.6L263.2 73.1L263.6 73.9L264.1 74.6L264.3 75.1L264.6 75.7L265.1 76.6L265.3 77.1L265.6 77.8L266.0 78.6L266.2 79.1L266.6 80.1L266.8 80.6L267.1 81.5L267.3 82.1L267.6 82.9L267.9 83.6L268.1 84.1L268.6 85.1L268.9 85.6L269.3 86.1L269.7 86.6L270.2 87.1L270.8 87.6L271.6 88.1L272.1 88.3L273.1 88.5L274.1 88.4L274.7 88.1L275.5 87.6L276.1 87.1L276.5 86.6L276.9 86.1L277.3 85.6L277.7 85.1L278.1 84.6L278.6 84.0L279.1 83.4L279.6 82.9L280.1 82.5L280.6 82.1L281.2 81.6L282.0 81.1L282.6 80.8L283.1 80.5L284.1 80.1L284.6 79.9L285.6 79.7L286.2 79.6L287.1 79.6L288.1 79.6L288.6 79.7L289.6 79.9L290.3 80.1L291.1 80.5L291.6 80.9L292.1 81.4L292.6 82.1L292.9 82.6L293.2 83.1L293.6 84.1L293.8 84.6L294.1 85.6L294.2 86.1L294.4 87.1L294.5 88.1L294.5 89.1L294.4 90.1L294.3 91.1L294.1 91.8L293.9 92.6L293.6 93.3L293.3 94.1L293.0 94.6L292.6 95.2L292.1 96.0L291.6 96.6L291.1 97.1L290.6 97.6L290.1 98.0L289.6 98.3L289.1 98.6L288.1 99.0L287.2 99.1L286.6 99.2L286.0 99.1L285.1 99.0L284.1 98.8L283.6 98.6L282.8 98.1L282.1 97.7L281.6 97.4L281.1 97.0L280.6 96.6L280.1 96.1L279.5 95.6L278.9 95.1L278.3 94.6L277.6 94.1L277.1 93.8L276.6 93.5L275.8 93.1L275.1 92.9L274.1 92.6L273.6 92.6L272.6 92.5L272.0 92.6L271.1 92.9L270.6 93.1L269.9 93.6L269.2 94.1L268.7 94.6L268.2 95.1L267.7 95.6L267.3 96.1L267.0 96.6L266.6 97.1L266.1 97.8L265.6 98.6L265.3 99.1L265.0 99.6L264.6 100.2L264.1 100.9L263.6 101.6L263.2 102.1L262.7 102.6L262.3 103.1L261.7 103.6L261.2 104.1L260.6 104.6L260.1 105.0L259.6 105.4L259.1 105.8L258.6 106.1L257.7 106.6L257.1 106.9L256.4 107.1L255.6 107.3L254.6 107.6L254.1 107.7L253.1 107.9L252.1 108.1L251.6 108.2L250.6 108.3L249.6 108.4L248.6 108.5L247.6 108.5L246.6 108.5L245.6 108.5L244.6 108.4L243.6 108.4L242.6 108.3L241.6 108.2L240.8 108.1L240.1 108.1L239.1 107.9L238.1 107.8L237.5 107.6L236.6 107.5L235.6 107.2L235.1 107.1L234.1 106.9L233.2 106.6L232.6 106.5L231.6 106.2L231.1 106.0L230.1 105.7L229.6 105.5L228.6 105.1L228.1 104.9L227.6 104.6L226.6 104.1L226.1 103.8L225.6 103.6L224.9 103.1L224.2 102.6L223.6 102.2L223.1 101.7L222.6 101.3L222.1 100.8L221.6 100.2L221.2 99.6L220.9 99.1L220.6 98.6L220.1 97.7L219.9 97.1L219.6 96.6L219.1 95.8L218.7 95.1L218.4 94.6L218.1 94.1L217.6 93.4L217.1 92.7L216.8 92.1L216.5 91.6L216.1 91.0L215.6 90.2L215.3 89.6L214.9 89.1L214.6 88.6L214.1 87.8L213.6 87.1L213.2 86.6L212.8 86.1L212.4 85.6L211.9 85.1L211.3 84.6L210.8 84.1L210.2 83.6L209.6 83.2L209.1 82.8L208.6 82.5L208.1 82.1L207.3 81.6L206.6 81.2L206.1 81.0L205.4 80.6L204.6 80.3L204.1 80.1L203.1 79.8L202.3 79.6L201.6 79.5L201.1 79.4M201.1 60.0L202.1 59.9L203.1 59.8L204.1 59.8L205.1 59.8L206.1 59.9L207.1 60.0L208.1 60.0L209.1 60.1L209.6 60.2L210.6 60.3L211.6 60.3L212.6 60.3L213.5 60.1L214.1 60.0L215.1 59.9L216.1 59.7L216.6 59.6L217.6 59.4L218.6 59.2L219.1 59.0L220.1 58.8L220.9 58.6L221.6 58.5L222.6 58.4L223.6 58.2L224.3 58.1L225.1 58.0L226.1 57.9L227.1 57.8L228.1 57.8L229.1 57.7L230.1 57.7L230.6 57.6M230.9 58.1L231.6 58.1L232.6 58.1L233.1 58.1L234.1 58.2L235.1 58.3L236.1 58.4L237.1 58.5L238.1 58.6L238.6 58.7L239.6 58.8L240.6 59.0L241.5 59.1L242.1 59.2L243.1 59.5L243.9 59.6L244.6 59.8L245.6 60.0L246.1 60.2L247.1 60.4L247.7 60.6L248.6 60.9L249.2 61.1L250.1 61.5L250.6 61.7L251.4 62.1L252.1 62.5L252.6 62.8L253.3 63.1L254.1 63.5L254.6 63.8L255.1 64.1L255.9 64.6L256.6 65.1L257.1 65.5L257.6 65.9L258.1 66.3L258.6 66.7L259.1 67.3L259.6 68.0L260.1 68.6L260.4 69.1L260.7 69.6L261.1 70.5L261.5 71.1L261.7 71.6L262.1 72.3L262.6 73.1L262.8 73.6L263.1 74.2L263.6 75.1L263.8 75.6L264.1 76.4L264.4 77.1L264.6 77.6L265.0 78.6L265.2 79.1L265.6 80.1L265.8 80.6L266.1 81.6L266.3 82.1L266.6 82.9L266.9 83.6L267.1 84.1L267.6 85.1L267.8 85.6L268.1 86.2L268.6 87.0L269.1 87.6L269.5 88.1L269.9 88.6L270.3 89.1L270.6 89.6L270.8 90.6L270.4 91.1L269.9 91.6L269.4 92.1L268.9 92.6L268.4 93.1L267.9 93.6L267.5 94.1L267.0 94.6L266.6 95.1L266.1 95.7L265.6 96.4L265.1 97.1L264.7 97.6L264.4 98.1L264.1 98.6L263.6 99.4L263.2 100.1L262.9 100.6L262.6 101.1L262.1 101.8L261.6 102.5L261.1 103.1L260.7 103.6L260.2 104.1L259.6 104.6L259.1 105.0L258.6 105.4L258.1 105.7L257.5 106.1L256.6 106.5L256.1 106.7L255.1 107.0L254.5 107.1L253.6 107.3L252.6 107.6L252.1 107.6L251.1 107.8L250.1 107.9L249.1 108.0L248.1 108.1L247.1 108.1L246.1 108.1L245.1 108.0L244.1 108.0L243.1 107.9L242.1 107.8L241.1 107.7L240.1 107.6L239.6 107.6L238.6 107.4L237.6 107.2L237.1 107.1L236.1 106.9L235.2 106.6L234.6 106.5L233.6 106.2L233.1 106.0L232.1 105.7L231.6 105.5L230.6 105.2L230.1 105.0L229.3 104.6L228.6 104.3L228.1 104.0L227.5 103.6L226.7 103.1L226.1 102.7L225.6 102.4L225.1 102.0L224.6 101.6L224.1 101.1L223.6 100.6L223.1 100.1L222.6 99.6L222.1 99.0L221.6 98.2L221.3 97.6L221.0 97.1L220.6 96.4L220.2 95.6L219.9 95.1L219.5 94.6L219.1 94.0L218.6 93.3L218.2 92.6L217.8 92.1L217.5 91.6L217.1 91.1L216.6 90.3L216.2 89.6L215.9 89.1L215.5 88.6L215.1 88.0L214.6 87.2L214.2 86.6L213.8 86.1L213.4 85.6L213.0 85.1L212.6 84.6L212.1 84.1L211.6 83.6L211.1 83.1L210.5 82.6L209.9 82.1L209.3 81.6L208.6 81.1L208.1 80.8L207.6 80.4L207.1 80.1L206.2 79.6L205.6 79.4L205.0 79.1L204.1 78.8L203.4 78.6L202.6 78.4L201.6 78.2L201.1 78.1L201.1 78.1M201.1 60.7L201.6 60.6L202.6 60.5L203.6 60.5L204.6 60.5L205.6 60.6L206.1 60.6L207.1 60.8L208.1 60.9L209.1 61.1L209.6 61.2L210.6 61.4L211.6 61.5L212.6 61.5L213.6 61.4L214.6 61.2L215.1 61.1L216.1 60.9L216.9 60.6L217.6 60.4L218.5 60.1L219.1 59.9L220.0 59.6L220.6 59.5L221.6 59.2L222.1 59.1L223.1 58.9L224.1 58.8L225.1 58.6L225.6 58.6L226.6 58.4L227.6 58.3L228.6 58.3L229.6 58.2L230.6 58.1L230.9 58.1M285.6 80.6L286.1 80.5L287.1 80.4L288.1 80.5L289.0 80.6L289.6 80.8L290.3 81.1L291.1 81.6L291.5 82.1L291.9 82.6L292.2 83.1L292.6 83.8L293.0 84.6L293.2 85.1L293.4 86.1L293.6 87.1L293.7 87.6L293.8 88.6L293.7 89.6L293.6 90.4L293.5 91.1L293.2 92.1L293.1 92.6L292.6 93.6L292.3 94.1L292.0 94.6L291.6 95.1L291.1 95.7L290.6 96.2L290.1 96.7L289.5 97.1L288.6 97.6L288.1 97.7L287.1 97.9L286.1 97.9L285.1 97.7L284.6 97.5L283.6 97.1L283.1 96.9L282.6 96.6L282.0 96.1L281.3 95.6L280.7 95.1L280.1 94.6L279.6 94.2L279.1 93.8L278.6 93.3L278.1 92.9L277.6 92.5L277.1 92.1L276.6 91.6L276.1 91.1L275.9 90.1L276.2 89.6L276.6 89.0L277.1 88.2L277.5 87.6L277.8 87.1L278.1 86.6L278.6 85.9L279.1 85.2L279.6 84.6L280.0 84.1L280.5 83.6L281.0 83.1L281.6 82.6L282.1 82.2L282.6 81.9L283.1 81.6L284.0 81.1L284.6 80.9L285.6 80.6L285.6 80.6M231.5 58.6L232.1 58.6L232.6 58.6L233.6 58.7L234.6 58.7L235.6 58.8L236.6 58.9L237.6 59.1L238.1 59.1L239.1 59.3L240.1 59.4L241.1 59.6L241.6 59.6L242.6 59.8L243.6 60.1L244.1 60.2L245.1 60.4L246.1 60.6L246.6 60.8L247.6 61.1L248.1 61.2L249.1 61.6L249.6 61.8L250.4 62.1L251.1 62.5L251.6 62.7L252.5 63.1L253.1 63.5L253.6 63.7L254.4 64.1L255.1 64.6L255.6 64.9L256.1 65.3L256.6 65.6L257.3 66.1L257.9 66.6L258.5 67.1L258.9 67.6L259.3 68.1L259.6 68.7L260.1 69.5L260.5 70.1L260.7 70.6L261.1 71.4L261.5 72.1L261.7 72.6L262.1 73.5L262.4 74.1L262.7 74.6L263.1 75.6L263.3 76.1L263.6 77.1L263.8 77.6L264.1 78.6L264.3 79.1L264.6 80.0L264.9 80.6L265.1 81.3L265.4 82.1L265.6 82.7L266.0 83.6L266.2 84.1L266.6 85.1L266.9 85.6L267.1 86.2L267.6 87.1L267.9 87.6L268.2 88.1L268.6 89.0L268.8 89.6L268.7 90.6L268.5 91.1L268.1 91.6L267.6 92.2L267.1 92.8L266.6 93.4L266.1 94.0L265.6 94.6L265.2 95.1L264.8 95.6L264.4 96.1L264.1 96.6L263.6 97.2L263.1 98.0L262.8 98.6L262.5 99.1L262.1 99.8L261.7 100.6L261.4 101.1L261.1 101.6L260.6 102.4L260.1 103.1L259.6 103.6L259.1 104.1L258.6 104.6L258.1 105.0L257.6 105.4L257.1 105.6L256.1 106.1L255.6 106.3L254.6 106.6L254.1 106.7L253.1 107.0L252.3 107.1L251.6 107.2L250.6 107.4L249.6 107.5L248.6 107.6L248.0 107.6L247.1 107.7L246.1 107.6L245.6 107.6L244.6 107.6L243.6 107.5L242.6 107.4L241.6 107.3L240.6 107.2L239.7 107.1L239.1 107.0L238.1 106.8L237.2 106.6L236.6 106.5L235.6 106.2L235.1 106.1L234.1 105.8L233.6 105.6L232.6 105.2L232.1 105.1L231.1 104.6L230.6 104.4L230.1 104.1L229.2 103.6L228.6 103.3L228.1 102.9L227.6 102.5L227.1 102.1L226.5 101.6L225.9 101.1L225.3 100.6L224.7 100.1L224.2 99.6L223.7 99.1L223.3 98.6L222.9 98.1L222.6 97.6L222.1 96.9L221.7 96.1L221.4 95.6L221.0 95.1L220.6 94.5L220.1 93.8L219.6 93.2L219.2 92.6L218.9 92.1L218.5 91.6L218.1 91.1L217.6 90.4L217.1 89.6L216.8 89.1L216.5 88.6L216.1 88.1L215.6 87.4L215.1 86.6L214.8 86.1L214.4 85.6L214.0 85.1L213.6 84.6L213.1 84.0L212.6 83.4L212.1 82.9L211.6 82.3L211.1 81.8L210.6 81.4L210.1 80.9L209.6 80.5L209.1 80.1L208.5 79.6L207.8 79.1L207.1 78.7L206.6 78.5L205.9 78.1L205.1 77.9L204.3 77.6L203.6 77.4L202.6 77.2L202.1 77.1L201.1 76.8L201.1 76.8M201.1 61.4L202.1 61.2L203.1 61.2L204.1 61.2L205.1 61.2L206.1 61.4L207.1 61.6L207.6 61.7L208.6 62.0L209.1 62.1L210.1 62.5L210.6 62.6L211.6 62.9L212.6 63.0L213.6 63.0L214.6 62.9L215.6 62.6L216.1 62.5L217.0 62.1L217.6 61.8L218.1 61.6L219.1 61.1L219.6 60.9L220.1 60.6L221.1 60.2L221.6 60.1L222.6 59.8L223.3 59.6L224.1 59.5L225.1 59.3L226.0 59.1L226.6 59.0L227.6 58.9L228.6 58.8L229.6 58.7L230.6 58.7L231.5 58.6L231.5 58.6M285.2 81.6L286.1 81.4L287.1 81.3L288.1 81.3L289.1 81.6L289.6 81.7L290.3 82.1L290.8 82.6L291.3 83.1L291.6 83.7L292.1 84.6L292.4 85.1L292.6 85.9L292.8 86.6L293.0 87.6L293.0 88.6L293.0 89.6L292.8 90.6L292.6 91.5L292.4 92.1L292.1 92.8L291.7 93.6L291.3 94.1L290.9 94.6L290.4 95.1L289.9 95.6L289.2 96.1L288.6 96.4L288.1 96.6L287.1 96.8L286.1 96.8L285.5 96.6L284.6 96.4L284.0 96.1L283.1 95.7L282.6 95.3L282.1 95.0L281.6 94.6L281.1 94.1L280.6 93.6L280.0 93.1L279.5 92.6L279.1 92.1L278.6 91.6L278.1 90.7L278.0 90.1L278.1 89.5L278.4 88.6L278.7 88.1L279.1 87.2L279.5 86.6L279.8 86.1L280.1 85.6L280.6 84.9L281.1 84.3L281.6 83.8L282.1 83.4L282.6 83.0L283.1 82.6L284.0 82.1L284.6 81.8L285.2 81.6L285.2 81.6M227.1 59.6L227.6 59.5L228.6 59.4L229.6 59.3L230.6 59.2L231.6 59.2L232.6 59.2L233.6 59.2L234.6 59.3L235.6 59.4L236.6 59.5L237.6 59.6L238.1 59.6L239.1 59.8L240.1 59.9L241.1 60.1L241.6 60.2L242.6 60.4L243.6 60.6L244.1 60.7L245.1 60.9L246.1 61.1L246.6 61.3L247.6 61.6L248.1 61.7L249.1 62.1L249.6 62.3L250.5 62.6L251.1 62.9L251.6 63.2L252.5 63.6L253.1 63.9L253.6 64.2L254.4 64.6L255.1 65.1L255.6 65.4L256.1 65.8L256.6 66.1L257.3 66.6L257.9 67.1L258.4 67.6L258.8 68.1L259.1 68.7L259.6 69.5L260.0 70.1L260.2 70.6L260.6 71.4L260.9 72.1L261.2 72.6L261.6 73.6L261.8 74.1L262.1 75.0L262.4 75.6L262.6 76.4L262.8 77.1L263.1 78.0L263.3 78.6L263.6 79.5L263.8 80.1L264.1 80.9L264.4 81.6L264.6 82.2L265.0 83.1L265.2 83.6L265.5 84.6L265.8 85.1L266.1 86.0L266.4 86.6L266.6 87.1L267.1 88.1L267.3 88.6L267.6 89.6L267.4 90.6L267.1 91.1L266.6 91.8L266.1 92.4L265.6 93.0L265.2 93.6L264.7 94.1L264.3 94.6L263.9 95.1L263.6 95.6L263.1 96.2L262.6 96.9L262.2 97.6L261.9 98.1L261.6 98.6L261.1 99.5L260.8 100.1L260.6 100.6L260.1 101.5L259.8 102.1L259.4 102.6L259.0 103.1L258.6 103.6L258.1 104.1L257.6 104.6L256.8 105.1L256.1 105.4L255.6 105.7L254.6 106.0L254.1 106.2L253.1 106.4L252.3 106.6L251.6 106.8L250.6 106.9L249.6 107.0L248.8 107.1L248.1 107.2L247.1 107.2L246.1 107.2L245.1 107.2L244.3 107.1L243.6 107.1L242.6 107.0L241.6 106.9L240.6 106.8L239.6 106.7L239.1 106.6L238.1 106.3L237.2 106.1L236.6 106.0L235.6 105.7L235.1 105.5L234.1 105.2L233.6 105.0L232.8 104.6L232.1 104.3L231.6 104.0L230.9 103.6L230.1 103.1L229.6 102.8L229.1 102.4L228.6 102.0L228.1 101.5L227.6 101.1L227.1 100.6L226.6 100.1L226.0 99.6L225.4 99.1L224.9 98.6L224.3 98.1L223.9 97.6L223.5 97.1L223.1 96.6L222.6 95.8L222.2 95.1L221.8 94.6L221.5 94.1L221.1 93.6L220.6 93.0L220.1 92.4L219.6 91.7L219.2 91.1L218.8 90.6L218.4 90.1L218.1 89.6L217.6 89.0L217.1 88.3L216.7 87.6L216.4 87.1L216.0 86.6L215.6 86.0L215.1 85.3L214.6 84.6L214.3 84.1L213.9 83.6L213.5 83.1L213.1 82.6L212.6 82.1L212.1 81.5L211.6 80.9L211.1 80.4L210.6 79.9L210.1 79.4L209.6 79.0L209.1 78.6L208.5 78.1L207.7 77.6L207.1 77.4L206.6 77.1L205.6 76.8L205.0 76.6L204.1 76.4L203.1 76.2L202.6 76.1L201.6 75.8L201.1 75.5L200.7 75.1M201.1 62.1L201.6 62.0L202.6 61.9L203.6 61.8L204.6 61.9L205.6 62.1L206.1 62.2L207.1 62.5L207.6 62.7L208.6 63.0L209.1 63.3L209.9 63.6L210.6 64.0L211.1 64.2L212.1 64.5L212.9 64.6L213.6 64.6L214.1 64.6L215.1 64.5L216.1 64.2L216.6 64.1L217.6 63.7L218.1 63.4L218.6 63.1L219.3 62.6L220.0 62.1L220.6 61.7L221.1 61.5L221.8 61.1L222.6 60.8L223.1 60.6L224.1 60.3L224.7 60.1L225.6 59.9L226.6 59.7L227.1 59.6M284.9 82.6L285.6 82.4L286.6 82.2L287.6 82.1L288.6 82.3L289.4 82.6L290.1 83.1L290.6 83.6L291.0 84.1L291.3 84.6L291.6 85.4L291.9 86.1L292.1 87.0L292.2 87.6L292.3 88.6L292.2 89.6L292.1 90.4L291.9 91.1L291.6 92.0L291.3 92.6L291.0 93.1L290.6 93.6L290.1 94.2L289.6 94.7L289.0 95.1L288.1 95.6L287.6 95.7L286.6 95.8L285.6 95.7L285.1 95.5L284.1 95.1L283.6 94.9L283.1 94.5L282.5 94.1L281.9 93.6L281.4 93.1L280.9 92.6L280.5 92.1L280.1 91.6L279.6 90.8L279.5 90.1L279.6 89.1L279.7 88.6L280.1 87.6L280.4 87.1L280.6 86.6L281.1 85.9L281.6 85.2L282.1 84.6L282.6 84.1L283.1 83.7L283.6 83.3L284.1 83.0L284.9 82.6L284.9 82.6M228.6 60.1L229.1 60.1L230.1 59.9L231.1 59.8L232.1 59.8L233.1 59.8L234.1 59.8L235.1 59.9L236.1 60.0L237.1 60.1L237.6 60.1L238.6 60.3L239.6 60.4L240.6 60.6L241.1 60.6L242.1 60.8L243.1 61.0L243.6 61.1L244.6 61.3L245.6 61.6L246.1 61.7L247.1 62.0L247.7 62.1L248.6 62.4L249.2 62.6L250.1 63.0L250.6 63.2L251.5 63.6L252.1 63.9L252.6 64.2L253.6 64.6L254.1 64.9L254.6 65.2L255.2 65.6L255.9 66.1L256.6 66.6L257.1 67.0L257.6 67.5L258.1 68.0L258.6 68.6L258.9 69.1L259.2 69.6L259.6 70.4L260.0 71.1L260.2 71.6L260.6 72.6L260.8 73.1L261.1 74.0L261.3 74.6L261.6 75.5L261.8 76.1L262.1 77.1L262.3 77.6L262.6 78.6L262.8 79.1L263.1 80.1L263.3 80.6L263.6 81.6L263.8 82.1L264.1 83.0L264.4 83.6L264.6 84.3L264.9 85.1L265.1 85.6L265.5 86.6L265.7 87.1L266.1 88.1L266.3 88.6L266.5 89.6L266.2 90.6L265.9 91.1L265.5 91.6L265.1 92.2L264.6 92.8L264.1 93.4L263.6 94.1L263.2 94.6L262.8 95.1L262.4 95.6L262.1 96.1L261.6 96.7L261.1 97.5L260.8 98.1L260.5 98.6L260.1 99.3L259.7 100.1L259.5 100.6L259.1 101.4L258.7 102.1L258.4 102.6L258.0 103.1L257.6 103.6L257.0 104.1L256.3 104.6L255.6 105.0L255.1 105.2L254.1 105.6L253.6 105.7L252.6 106.0L252.1 106.1L251.1 106.3L250.1 106.5L249.1 106.6L248.6 106.7L247.6 106.7L246.6 106.8L245.6 106.7L244.6 106.7L243.6 106.6L243.1 106.6L242.1 106.5L241.1 106.4L240.1 106.2L239.4 106.1L238.6 105.9L237.6 105.7L237.1 105.5L236.1 105.2L235.6 105.0L234.6 104.6L234.1 104.4L233.5 104.1L232.6 103.6L232.1 103.3L231.6 103.0L231.1 102.6L230.5 102.1L230.0 101.6L229.4 101.1L228.9 100.6L228.4 100.1L227.8 99.6L227.2 99.1L226.6 98.6L226.1 98.3L225.6 97.8L225.1 97.4L224.6 96.9L224.1 96.3L223.7 95.6L223.3 95.1L223.0 94.6L222.6 94.1L222.1 93.5L221.6 92.9L221.1 92.3L220.6 91.7L220.2 91.1L219.8 90.6L219.4 90.1L219.0 89.6L218.6 89.1L218.1 88.4L217.6 87.7L217.2 87.1L216.9 86.6L216.6 86.1L216.1 85.5L215.6 84.7L215.2 84.1L214.8 83.6L214.5 83.1L214.1 82.6L213.6 81.9L213.1 81.2L212.6 80.6L212.2 80.1L211.8 79.6L211.4 79.1L210.9 78.6L210.4 78.1L209.8 77.6L209.1 77.1L208.6 76.8L208.1 76.5L207.2 76.1L206.6 75.9L205.6 75.7L205.1 75.6L204.1 75.4L203.1 75.1L202.6 75.0L201.9 74.6L201.4 74.1L201.0 73.6L200.7 73.1M201.1 62.9L202.1 62.7L202.7 62.6L203.6 62.6L204.1 62.6L205.1 62.8L206.1 63.1L206.6 63.2L207.5 63.6L208.1 63.9L208.6 64.2L209.4 64.6L210.1 65.1L210.6 65.4L211.2 65.6L212.1 66.0L213.1 66.1L214.1 66.1L215.1 66.0L216.1 65.8L216.7 65.6L217.6 65.3L218.1 65.1L219.1 64.6L219.6 64.3L220.1 63.9L220.6 63.6L221.2 63.1L221.9 62.6L222.6 62.2L223.1 61.9L223.6 61.6L224.6 61.2L225.1 61.0L226.1 60.7L226.6 60.5L227.6 60.3L228.6 60.1L228.6 60.1M286.1 83.1L286.6 83.0L287.6 83.0L288.3 83.1L289.1 83.5L289.6 83.9L290.1 84.4L290.6 85.1L290.9 85.6L291.1 86.3L291.4 87.1L291.5 88.1L291.5 89.1L291.4 90.1L291.1 91.1L290.9 91.6L290.6 92.2L290.1 92.9L289.6 93.5L289.1 93.9L288.6 94.2L287.8 94.6L287.1 94.8L286.1 94.8L285.3 94.6L284.6 94.4L284.1 94.1L283.3 93.6L282.7 93.1L282.2 92.6L281.7 92.1L281.3 91.6L281.0 91.1L280.6 90.1L280.6 89.6L280.7 89.1L281.0 88.1L281.2 87.6L281.6 86.8L282.0 86.1L282.4 85.6L282.8 85.1L283.3 84.6L284.0 84.1L284.6 83.7L285.1 83.5L286.1 83.1L286.1 83.1M230.6 60.6L231.1 60.6L232.1 60.5L233.1 60.5L234.1 60.5L235.1 60.5L236.1 60.6L236.6 60.7L237.6 60.8L238.6 60.9L239.6 61.1L240.1 61.1L241.1 61.3L242.1 61.5L242.8 61.6L243.6 61.8L244.6 62.0L245.3 62.1L246.1 62.3L247.1 62.6L247.6 62.7L248.6 63.0L249.1 63.2L250.1 63.6L250.6 63.8L251.4 64.1L252.1 64.5L252.6 64.7L253.5 65.1L254.1 65.5L254.6 65.8L255.1 66.1L255.8 66.6L256.5 67.1L257.1 67.6L257.6 68.1L258.0 68.6L258.4 69.1L258.7 69.6L259.1 70.5L259.4 71.1L259.6 71.6L260.0 72.6L260.2 73.1L260.5 74.1L260.7 74.6L261.0 75.6L261.1 76.2L261.4 77.1L261.6 77.8L261.9 78.6L262.1 79.3L262.4 80.1L262.6 80.8L262.9 81.6L263.1 82.2L263.5 83.1L263.6 83.6L264.0 84.6L264.2 85.1L264.5 86.1L264.7 86.6L265.1 87.6L265.3 88.1L265.5 89.1L265.4 90.1L265.1 90.6L264.6 91.4L264.1 92.1L263.7 92.6L263.3 93.1L262.9 93.6L262.5 94.1L262.1 94.7L261.6 95.3L261.1 96.0L260.7 96.6L260.4 97.1L260.0 97.6L259.6 98.3L259.2 99.1L258.9 99.6L258.6 100.2L258.2 101.1L257.9 101.6L257.6 102.1L257.1 102.8L256.6 103.4L256.1 103.8L255.6 104.1L254.7 104.6L254.1 104.9L253.4 105.1L252.6 105.4L251.7 105.6L251.1 105.7L250.1 105.9L249.1 106.1L248.6 106.1L247.6 106.2L246.6 106.3L245.6 106.2L244.6 106.2L243.6 106.1L243.1 106.1L242.1 106.0L241.1 105.9L240.1 105.7L239.6 105.6L238.6 105.4L237.8 105.1L237.1 104.9L236.4 104.6L235.6 104.3L235.1 104.1L234.3 103.6L233.6 103.2L233.1 102.8L232.6 102.4L232.1 102.0L231.6 101.5L231.1 101.1L230.6 100.6L230.1 100.1L229.6 99.6L229.0 99.1L228.4 98.6L227.8 98.1L227.1 97.7L226.6 97.3L226.1 96.9L225.6 96.5L225.1 96.0L224.6 95.3L224.1 94.7L223.7 94.1L223.3 93.6L222.9 93.1L222.5 92.6L222.0 92.1L221.6 91.6L221.1 91.0L220.6 90.4L220.1 89.8L219.6 89.2L219.2 88.6L218.8 88.1L218.5 87.6L218.1 87.1L217.6 86.4L217.1 85.7L216.8 85.1L216.4 84.6L216.1 84.1L215.6 83.4L215.1 82.7L214.8 82.1L214.4 81.6L214.1 81.1L213.6 80.4L213.1 79.7L212.7 79.1L212.3 78.6L211.9 78.1L211.5 77.6L211.0 77.1L210.4 76.6L209.8 76.1L209.1 75.7L208.6 75.4L207.8 75.1L207.1 74.9L206.1 74.7L205.6 74.6L204.6 74.5L203.6 74.2L203.1 74.1L202.4 73.6L201.9 73.1L201.5 72.6L201.1 72.0L200.9 71.6M201.1 63.8L201.6 63.6L202.6 63.4L203.6 63.4L204.6 63.5L205.1 63.7L206.1 64.0L206.6 64.3L207.3 64.6L208.1 65.1L208.6 65.5L209.1 65.8L209.6 66.2L210.3 66.6L211.1 67.0L211.6 67.2L212.6 67.4L213.6 67.4L214.6 67.3L215.6 67.2L216.1 67.0L217.1 66.8L217.6 66.6L218.6 66.2L219.1 66.0L220.0 65.6L220.6 65.3L221.1 65.0L221.7 64.6L222.5 64.1L223.1 63.7L223.6 63.3L224.1 63.0L224.7 62.6L225.5 62.1L226.1 61.8L226.6 61.6L227.6 61.3L228.1 61.1L229.1 60.9L230.1 60.7L230.6 60.6M285.8 84.1L286.6 83.9L287.6 83.9L288.3 84.1L289.1 84.6L289.5 85.1L289.9 85.6L290.2 86.1L290.5 87.1L290.6 87.6L290.7 88.6L290.6 89.6L290.5 90.1L290.2 91.1L289.9 91.6L289.6 92.1L289.1 92.6L288.5 93.1L287.6 93.6L287.1 93.8L286.1 93.8L285.3 93.6L284.6 93.4L284.1 93.1L283.5 92.6L282.9 92.1L282.5 91.6L282.1 91.1L281.7 90.1L281.7 89.1L282.0 88.1L282.2 87.6L282.6 86.9L283.1 86.1L283.6 85.6L284.1 85.1L284.6 84.7L285.1 84.4L285.8 84.1L285.8 84.1M230.4 61.6L231.1 61.5L232.1 61.3L233.1 61.3L234.1 61.3L235.1 61.3L236.1 61.4L237.1 61.5L238.1 61.6L238.6 61.7L239.6 61.8L240.6 62.0L241.5 62.1L242.1 62.3L243.1 62.5L244.0 62.6L244.6 62.8L245.6 63.0L246.3 63.1L247.1 63.3L248.1 63.6L248.6 63.7L249.6 64.1L250.1 64.3L251.0 64.6L251.6 64.9L252.2 65.1L253.1 65.5L253.6 65.8L254.2 66.1L255.0 66.6L255.6 67.1L256.1 67.5L256.6 67.9L257.1 68.4L257.6 69.0L258.1 69.6L258.3 70.1L258.6 70.7L259.0 71.6L259.2 72.1L259.5 73.1L259.7 73.6L260.0 74.6L260.1 75.1L260.4 76.1L260.6 76.8L260.9 77.6L261.1 78.3L261.4 79.1L261.6 79.8L261.9 80.6L262.1 81.2L262.4 82.1L262.6 82.7L263.0 83.6L263.1 84.1L263.5 85.1L263.6 85.6L264.0 86.6L264.1 87.1L264.4 88.1L264.6 89.1L264.4 90.1L264.1 90.7L263.6 91.4L263.1 92.1L262.8 92.6L262.4 93.1L262.0 93.6L261.6 94.1L261.1 94.8L260.6 95.4L260.1 96.1L259.7 96.6L259.4 97.1L259.0 97.6L258.6 98.2L258.1 99.1L257.8 99.6L257.6 100.1L257.1 101.0L256.8 101.6L256.4 102.1L256.0 102.6L255.5 103.1L254.8 103.6L254.1 104.0L253.6 104.2L252.7 104.6L252.1 104.8L251.1 105.1L250.6 105.2L249.6 105.4L248.6 105.6L248.0 105.6L247.1 105.7L246.1 105.7L245.1 105.7L244.1 105.6L243.6 105.6L242.6 105.5L241.6 105.4L240.6 105.2L240.1 105.1L239.1 104.8L238.4 104.6L237.6 104.3L237.1 104.1L236.1 103.6L235.6 103.3L235.1 103.0L234.6 102.6L234.0 102.1L233.5 101.6L233.0 101.1L232.5 100.6L231.9 100.1L231.4 99.6L230.8 99.1L230.2 98.6L229.6 98.2L229.1 97.8L228.6 97.5L228.1 97.1L227.4 96.6L226.6 96.1L226.1 95.7L225.6 95.2L225.2 94.6L224.8 94.1L224.4 93.6L224.0 93.1L223.5 92.6L223.1 92.1L222.6 91.6L222.1 91.0L221.6 90.5L221.1 89.9L220.6 89.3L220.1 88.6L219.7 88.1L219.3 87.6L219.0 87.1L218.6 86.6L218.1 85.9L217.6 85.2L217.3 84.6L216.9 84.1L216.6 83.6L216.1 82.8L215.7 82.1L215.4 81.6L215.1 81.1L214.6 80.4L214.2 79.6L213.8 79.1L213.5 78.6L213.1 78.0L212.6 77.3L212.1 76.7L211.7 76.1L211.1 75.6L210.6 75.2L210.1 74.9L209.6 74.6L208.6 74.2L208.1 74.0L207.1 73.8L206.1 73.7L205.4 73.6L204.6 73.5L203.6 73.2L203.1 72.9L202.6 72.4L202.1 71.8L201.6 71.1L201.3 70.6L201.0 70.1L200.7 69.6M201.1 64.8L201.6 64.6L202.6 64.3L203.6 64.3L204.6 64.5L205.1 64.6L206.1 65.1L206.6 65.4L207.1 65.8L207.6 66.2L208.2 66.6L208.8 67.1L209.5 67.6L210.1 68.0L210.6 68.3L211.6 68.6L212.1 68.7L213.1 68.7L214.0 68.6L214.6 68.5L215.6 68.3L216.3 68.1L217.1 67.9L218.0 67.6L218.6 67.4L219.3 67.1L220.1 66.8L220.6 66.5L221.5 66.1L222.1 65.8L222.6 65.6L223.5 65.1L224.1 64.8L224.6 64.5L225.2 64.1L226.0 63.6L226.6 63.2L227.1 62.9L227.6 62.6L228.6 62.2L229.1 62.0L230.1 61.7L230.4 61.6M285.9 85.1L286.6 84.9L287.6 85.0L288.1 85.2L288.6 85.6L289.1 86.3L289.5 87.1L289.7 87.6L289.8 88.6L289.7 89.6L289.5 90.1L289.1 91.0L288.7 91.6L288.1 92.1L287.6 92.4L287.0 92.6L286.1 92.7L285.6 92.6L284.6 92.2L284.1 91.9L283.6 91.4L283.1 90.7L282.9 90.1L282.8 89.1L283.1 88.1L283.3 87.6L283.6 87.0L284.1 86.4L284.6 85.9L285.1 85.5L285.9 85.1L285.9 85.1M231.7 62.6L232.6 62.5L233.6 62.4L234.6 62.3L235.6 62.3L236.6 62.4L237.6 62.5L238.4 62.6L239.1 62.7L240.1 62.9L241.1 63.1L241.6 63.2L242.6 63.4L243.6 63.6L244.1 63.7L245.1 63.9L246.1 64.1L246.6 64.2L247.6 64.4L248.4 64.6L249.1 64.8L250.1 65.1L250.6 65.3L251.5 65.6L252.1 65.8L252.8 66.1L253.6 66.5L254.1 66.8L254.6 67.1L255.4 67.6L256.0 68.1L256.6 68.6L257.0 69.1L257.4 69.6L257.7 70.1L258.1 71.1L258.4 71.6L258.6 72.4L258.8 73.1L259.1 74.1L259.3 74.6L259.6 75.6L259.7 76.1L260.0 77.1L260.2 77.6L260.6 78.6L260.8 79.1L261.1 80.1L261.3 80.6L261.6 81.5L261.8 82.1L262.1 83.0L262.3 83.6L262.6 84.6L262.8 85.1L263.1 86.1L263.3 86.6L263.5 87.6L263.7 88.1L263.8 89.1L263.6 89.9L263.3 90.6L263.0 91.1L262.6 91.6L262.1 92.3L261.6 93.0L261.1 93.6L260.8 94.1L260.4 94.6L260.0 95.1L259.6 95.6L259.1 96.1L258.6 96.8L258.1 97.4L257.6 98.1L257.2 98.6L256.9 99.1L256.6 99.6L256.1 100.4L255.7 101.1L255.3 101.6L254.9 102.1L254.3 102.6L253.6 103.1L253.1 103.4L252.6 103.7L251.6 104.1L251.1 104.3L250.1 104.5L249.6 104.7L248.6 104.9L247.6 105.0L246.6 105.0L245.6 105.0L244.6 105.0L243.6 104.9L242.6 104.8L241.6 104.7L241.1 104.6L240.1 104.4L239.3 104.1L238.6 103.8L238.1 103.6L237.2 103.1L236.6 102.7L236.1 102.4L235.6 101.9L235.1 101.5L234.6 101.0L234.1 100.5L233.6 100.0L233.1 99.5L232.6 99.1L232.0 98.6L231.3 98.1L230.6 97.6L230.1 97.3L229.6 97.0L229.1 96.6L228.3 96.1L227.6 95.7L227.1 95.4L226.6 95.0L226.1 94.5L225.6 93.9L225.1 93.3L224.6 92.7L224.1 92.1L223.7 91.6L223.2 91.1L222.7 90.6L222.3 90.1L221.9 89.6L221.4 89.1L221.0 88.6L220.6 88.1L220.1 87.5L219.6 86.9L219.1 86.2L218.7 85.6L218.4 85.1L218.1 84.6L217.6 83.9L217.1 83.1L216.8 82.6L216.5 82.1L216.1 81.4L215.7 80.6L215.4 80.1L215.1 79.6L214.6 78.7L214.3 78.1L214.0 77.6L213.6 76.9L213.1 76.1L212.8 75.6L212.4 75.1L211.9 74.6L211.3 74.1L210.6 73.6L210.1 73.4L209.5 73.1L208.6 72.9L207.6 72.8L206.6 72.7L205.6 72.7L205.1 72.6L204.1 72.3L203.6 71.9L203.1 71.5L202.6 70.9L202.1 70.3L201.7 69.6L201.5 69.1L201.1 68.3L201.0 67.6L201.0 66.6L201.3 66.1L202.0 65.6L202.6 65.4L203.6 65.4L204.6 65.6L205.1 65.9L205.6 66.1L206.3 66.6L206.8 67.1L207.3 67.6L207.8 68.1L208.4 68.6L209.0 69.1L209.6 69.5L210.1 69.7L211.1 70.0L212.1 70.1L213.1 70.0L214.1 69.8L214.7 69.6L215.6 69.4L216.4 69.1L217.1 68.9L218.0 68.6L218.6 68.4L219.3 68.1L220.1 67.8L220.6 67.6L221.6 67.2L222.1 67.0L223.0 66.6L223.6 66.4L224.2 66.1L225.1 65.7L225.6 65.5L226.4 65.1L227.1 64.7L227.6 64.5L228.2 64.1L229.1 63.7L229.6 63.4L230.3 63.1L231.1 62.8L231.7 62.6L231.7 62.6M285.6 86.6L286.1 86.4L287.1 86.3L287.7 86.6L288.1 87.1L288.5 88.1L288.5 89.1L288.1 90.1L287.7 90.6L287.1 91.1L286.6 91.2L285.6 91.1L285.1 90.9L284.6 90.5L284.2 89.6L284.1 89.1L284.2 88.6L284.6 87.6L285.0 87.1L285.6 86.6L285.6 86.6M233.0 64.1L233.6 64.0L234.6 63.9L235.6 63.9L236.6 63.9L237.6 64.1L238.1 64.1L239.1 64.3L240.1 64.5L240.6 64.6L241.6 65.0L242.2 65.1L243.1 65.4L244.1 65.6L244.6 65.8L245.6 66.0L246.6 66.1L247.1 66.2L248.1 66.3L249.1 66.4L250.1 66.5L251.0 66.6L251.6 66.8L252.6 67.0L253.1 67.2L253.9 67.6L254.6 68.0L255.1 68.4L255.6 68.8L256.1 69.2L256.6 69.8L257.1 70.6L257.3 71.1L257.6 71.9L257.9 72.6L258.1 73.5L258.3 74.1L258.6 75.1L258.8 75.6L259.1 76.5L259.4 77.1L259.6 77.8L260.0 78.6L260.2 79.1L260.5 80.1L260.7 80.6L261.1 81.6L261.3 82.1L261.6 83.1L261.8 83.6L262.1 84.6L262.2 85.1L262.5 86.1L262.6 86.7L262.9 87.6L263.0 88.6L262.9 89.6L262.6 90.4L262.2 91.1L261.8 91.6L261.5 92.1L261.1 92.6L260.6 93.3L260.1 93.9L259.6 94.5L259.1 95.1L258.6 95.6L258.2 96.1L257.7 96.6L257.2 97.1L256.7 97.6L256.2 98.1L255.8 98.6L255.4 99.1L255.0 99.6L254.5 100.1L254.1 100.6L253.6 101.1L253.1 101.6L252.6 102.1L251.9 102.6L251.1 103.0L250.6 103.3L249.7 103.6L249.1 103.8L248.1 104.0L247.6 104.1L246.6 104.2L245.6 104.2L244.6 104.2L243.6 104.1L243.1 104.1L242.1 103.9L241.1 103.7L240.6 103.5L239.6 103.2L239.1 102.9L238.6 102.6L238.0 102.1L237.4 101.6L236.8 101.1L236.3 100.6L235.8 100.1L235.2 99.6L234.6 99.2L234.1 98.8L233.6 98.5L233.1 98.1L232.4 97.6L231.6 97.2L231.1 96.9L230.6 96.6L229.9 96.1L229.1 95.7L228.6 95.4L228.1 95.1L227.5 94.6L226.9 94.1L226.4 93.6L226.0 93.1L225.6 92.6L225.1 92.1L224.6 91.6L224.1 91.1L223.6 90.5L223.1 90.0L222.6 89.4L222.1 88.9L221.6 88.3L221.1 87.7L220.7 87.1L220.3 86.6L219.9 86.1L219.5 85.6L219.1 85.0L218.6 84.2L218.2 83.6L217.9 83.1L217.6 82.6L217.1 81.7L216.8 81.1L216.5 80.6L216.1 79.8L215.8 79.1L215.6 78.6L215.1 77.7L214.8 77.1L214.6 76.6L214.1 75.7L213.8 75.1L213.5 74.6L213.1 74.1L212.6 73.4L212.2 72.6L212.6 71.6L213.1 71.4L213.7 71.1L214.6 70.8L215.1 70.6L216.1 70.2L216.6 70.0L217.6 69.7L218.1 69.5L219.1 69.1L219.6 68.9L220.3 68.6L221.1 68.3L221.6 68.1L222.6 67.7L223.1 67.6L224.1 67.2L224.6 67.0L225.6 66.7L226.1 66.5L227.1 66.2L227.6 66.0L228.6 65.6L229.1 65.4L230.0 65.1L230.6 64.9L231.3 64.6L232.1 64.3L233.0 64.1L233.0 64.1M202.8 67.1L203.6 67.0L204.2 67.1L205.1 67.6L205.6 68.1L206.0 68.6L206.3 69.1L206.7 69.6L207.1 70.6L207.1 70.7L206.6 71.2L205.6 71.4L204.7 71.1L204.1 70.7L203.6 70.3L203.1 69.7L202.7 69.1L202.5 68.6L202.4 67.6L202.8 67.1L202.8 67.1M232.2 66.1L233.1 66.0L234.1 65.9L235.1 65.9L236.1 66.0L237.1 66.1L237.6 66.2L238.6 66.4L239.6 66.6L240.1 66.7L241.1 67.1L241.6 67.2L242.6 67.5L243.1 67.7L244.1 68.1L244.6 68.3L245.6 68.6L246.1 68.8L247.0 69.1L247.6 69.3L248.6 69.5L249.6 69.4L250.5 69.1L251.1 68.9L252.1 68.7L253.1 68.8L254.1 69.1L254.6 69.4L255.1 69.7L255.6 70.2L256.1 71.0L256.4 71.6L256.7 72.1L257.0 73.1L257.2 73.6L257.5 74.6L257.7 75.1L258.1 76.0L258.4 76.6L258.6 77.1L259.1 78.1L259.3 78.6L259.6 79.3L260.0 80.1L260.2 80.6L260.5 81.6L260.7 82.1L261.0 83.1L261.2 83.6L261.5 84.6L261.6 85.1L261.9 86.1L262.1 87.1L262.2 87.6L262.4 88.6L262.2 89.6L262.0 90.1L261.6 90.8L261.1 91.6L260.7 92.1L260.4 92.6L260.0 93.1L259.5 93.6L259.1 94.1L258.6 94.6L258.1 95.1L257.6 95.6L257.0 96.1L256.4 96.6L255.7 97.1L255.1 97.5L254.6 97.8L254.0 98.1L253.1 98.4L252.3 98.6L251.6 98.8L250.8 99.1L250.3 99.6L250.0 100.1L249.6 101.1L249.3 101.6L248.7 102.1L248.1 102.4L247.6 102.6L246.6 102.9L245.6 102.9L244.6 102.9L243.6 102.8L242.6 102.6L242.1 102.5L241.1 102.1L240.6 101.9L240.1 101.6L239.5 101.1L238.9 100.6L238.2 100.1L237.6 99.7L237.1 99.3L236.6 99.0L236.0 98.6L235.2 98.1L234.6 97.8L234.1 97.5L233.4 97.1L232.6 96.7L232.1 96.4L231.5 96.1L230.6 95.6L230.1 95.3L229.6 95.1L228.9 94.6L228.1 94.1L227.6 93.7L227.1 93.2L226.6 92.7L226.1 92.2L225.6 91.6L225.2 91.1L224.7 90.6L224.2 90.1L223.7 89.6L223.3 89.1L222.8 88.6L222.4 88.1L221.9 87.6L221.5 87.1L221.1 86.6L220.6 86.0L220.1 85.3L219.6 84.6L219.3 84.1L219.0 83.6L218.6 83.0L218.1 82.1L217.8 81.6L217.6 81.1L217.1 80.2L216.9 79.6L216.6 79.0L216.2 78.1L216.0 77.6L215.6 76.6L215.4 76.1L215.1 75.4L214.8 74.6L214.6 74.1L214.3 73.1L214.6 72.2L215.1 71.8L215.6 71.5L216.4 71.1L217.1 70.8L217.6 70.6L218.6 70.2L219.1 70.0L220.0 69.6L220.6 69.3L221.2 69.1L222.1 68.8L222.6 68.6L223.6 68.3L224.1 68.1L225.1 67.8L225.8 67.6L226.6 67.4L227.6 67.1L228.1 67.0L229.1 66.8L229.7 66.6L230.6 66.4L231.6 66.2L232.2 66.1L232.2 66.1M230.1 67.6L230.6 67.6L231.6 67.4L232.6 67.4L233.6 67.4L234.6 67.4L235.6 67.5L236.6 67.6L237.1 67.7L238.1 67.9L239.1 68.1L239.6 68.2L240.6 68.5L241.1 68.6L242.1 68.9L242.7 69.1L243.6 69.5L244.1 69.7L245.1 70.1L245.6 70.3L246.4 70.6L247.1 70.9L247.6 71.1L248.6 71.4L249.5 71.6L250.1 71.7L251.1 71.7L252.1 71.6L252.6 71.6L253.6 71.5L254.1 71.7L254.7 72.1L255.1 72.6L255.6 73.3L256.1 74.1L256.4 74.6L256.7 75.1L257.1 75.9L257.6 76.6L257.9 77.1L258.1 77.6L258.6 78.5L258.9 79.1L259.2 79.6L259.6 80.6L259.8 81.1L260.1 82.0L260.4 82.6L260.6 83.5L260.8 84.1L261.1 85.1L261.2 85.6L261.5 86.6L261.6 87.5L261.7 88.1L261.7 89.1L261.6 89.6L261.1 90.5L260.8 91.1L260.4 91.6L260.0 92.1L259.6 92.6L259.1 93.2L258.6 93.7L258.1 94.2L257.6 94.7L257.0 95.1L256.3 95.6L255.6 96.0L255.1 96.2L254.1 96.5L253.5 96.6L252.6 96.6L252.1 96.6L251.1 96.4L250.1 96.3L249.1 96.3L248.1 96.4L247.3 96.6L246.6 96.9L246.0 97.1L245.1 97.6L244.6 97.9L244.1 98.2L243.1 98.6L242.6 98.8L241.6 98.9L240.6 98.9L239.6 98.7L239.1 98.5L238.1 98.2L237.6 98.0L236.6 97.6L236.1 97.4L235.4 97.1L234.6 96.8L234.1 96.5L233.3 96.1L232.6 95.8L232.1 95.5L231.3 95.1L230.6 94.8L230.1 94.5L229.5 94.1L228.7 93.6L228.1 93.2L227.6 92.7L227.1 92.2L226.6 91.7L226.1 91.1L225.7 90.6L225.2 90.1L224.7 89.6L224.2 89.1L223.7 88.6L223.3 88.1L222.8 87.6L222.4 87.1L221.9 86.6L221.5 86.1L221.1 85.6L220.6 84.9L220.1 84.2L219.8 83.6L219.5 83.1L219.1 82.6L218.6 81.7L218.3 81.1L218.1 80.6L217.7 79.6L217.5 79.1L217.1 78.2L216.9 77.6L216.6 76.8L216.4 76.1L216.1 75.2L215.9 74.6L215.7 73.6L216.0 72.6L216.5 72.1L217.1 71.8L217.6 71.5L218.4 71.1L219.1 70.8L219.6 70.6L220.6 70.1L221.1 69.9L221.9 69.6L222.6 69.4L223.4 69.1L224.1 68.9L225.1 68.6L225.6 68.5L226.6 68.3L227.2 68.1L228.1 67.9L229.1 67.8L230.1 67.6L230.1 67.6M229.0 68.6L229.6 68.6L230.6 68.5L231.6 68.4L232.6 68.4L233.6 68.4L234.6 68.5L235.6 68.6L236.1 68.7L237.1 68.8L238.1 69.0L238.6 69.1L239.6 69.4L240.6 69.6L241.1 69.8L242.1 70.1L242.6 70.3L243.6 70.6L244.1 70.8L244.8 71.1L245.6 71.5L246.1 71.8L246.8 72.1L247.6 72.5L248.1 72.7L249.1 73.0L249.6 73.1L250.6 73.4L251.6 73.6L252.1 73.6L253.1 73.9L253.7 74.1L254.5 74.6L255.1 75.1L255.6 75.6L256.1 76.1L256.6 76.6L257.0 77.1L257.3 77.6L257.7 78.1L258.1 78.9L258.5 79.6L258.8 80.1L259.1 80.8L259.5 81.6L259.7 82.1L260.0 83.1L260.2 83.6L260.4 84.6L260.6 85.3L260.8 86.1L261.0 87.1L261.1 87.9L261.2 88.6L261.1 89.1L260.7 90.1L260.4 90.6L260.1 91.1L259.6 91.7L259.1 92.3L258.6 92.9L258.1 93.4L257.6 93.8L257.1 94.2L256.4 94.6L255.6 95.0L255.1 95.2L254.1 95.4L253.1 95.5L252.1 95.3L251.2 95.1L250.6 95.0L249.6 94.9L248.6 94.9L247.6 95.0L247.1 95.1L246.1 95.4L245.5 95.6L244.6 96.0L244.1 96.2L243.1 96.6L242.6 96.8L241.6 97.0L241.1 97.1L240.1 97.2L239.1 97.1L238.6 97.1L237.6 96.9L236.7 96.6L236.1 96.4L235.3 96.1L234.6 95.9L234.1 95.6L233.1 95.2L232.6 95.0L231.9 94.6L231.1 94.2L230.6 93.9L230.0 93.6L229.2 93.1L228.6 92.7L228.1 92.2L227.6 91.7L227.1 91.2L226.6 90.6L226.1 90.1L225.6 89.6L225.1 89.1L224.6 88.6L224.2 88.1L223.7 87.6L223.2 87.1L222.8 86.6L222.3 86.1L221.9 85.6L221.5 85.1L221.1 84.5L220.6 83.8L220.2 83.1L219.9 82.6L219.6 82.1L219.1 81.2L218.9 80.6L218.6 80.1L218.2 79.1L218.1 78.6L217.7 77.6L217.6 77.1L217.3 76.1L217.1 75.3L217.0 74.6L216.9 73.6L217.1 73.1L217.6 72.6L218.2 72.1L219.1 71.6L219.6 71.4L220.2 71.1L221.1 70.7L221.6 70.5L222.6 70.1L223.1 69.9L224.1 69.6L224.6 69.5L225.6 69.2L226.2 69.1L227.1 68.9L228.1 68.8L229.0 68.6L229.0 68.6M227.3 69.6L228.1 69.5L229.1 69.4L230.1 69.3L231.1 69.2L232.1 69.2L233.1 69.3L234.1 69.3L235.1 69.4L236.1 69.6L236.6 69.7L237.6 69.9L238.6 70.1L239.1 70.2L240.1 70.5L240.6 70.6L241.6 70.9L242.2 71.1L243.1 71.5L243.6 71.7L244.6 72.1L245.1 72.4L245.6 72.6L246.6 73.1L247.1 73.4L247.6 73.6L248.6 74.0L249.1 74.2L250.1 74.6L250.6 74.7L251.6 75.0L252.1 75.2L253.1 75.5L253.6 75.7L254.4 76.1L255.1 76.6L255.6 76.9L256.1 77.4L256.6 77.9L257.1 78.5L257.6 79.1L257.9 79.6L258.2 80.1L258.6 81.0L258.9 81.6L259.1 82.1L259.5 83.1L259.7 83.6L259.9 84.6L260.1 85.4L260.3 86.1L260.5 87.1L260.6 88.1L260.5 89.1L260.1 90.1L259.8 90.6L259.4 91.1L259.0 91.6L258.6 92.1L258.1 92.6L257.5 93.1L256.7 93.6L256.1 94.0L255.6 94.2L254.6 94.4L253.6 94.5L252.6 94.4L251.6 94.2L251.1 94.1L250.1 93.9L249.1 93.8L248.1 93.8L247.1 94.0L246.5 94.1L245.6 94.4L245.1 94.6L244.1 95.0L243.6 95.2L242.6 95.6L242.1 95.7L241.1 96.0L240.1 96.1L239.1 96.1L238.1 96.0L237.1 95.8L236.4 95.6L235.6 95.4L234.8 95.1L234.1 94.8L233.6 94.6L232.6 94.2L232.1 93.9L231.5 93.6L230.6 93.2L230.1 92.9L229.6 92.6L229.1 92.1L228.5 91.6L228.0 91.1L227.5 90.6L227.1 90.1L226.6 89.6L226.1 89.1L225.6 88.6L225.1 88.1L224.6 87.6L224.1 87.1L223.6 86.6L223.1 86.1L222.6 85.5L222.1 84.8L221.6 84.2L221.3 83.6L220.9 83.1L220.6 82.6L220.1 81.7L219.8 81.1L219.6 80.6L219.2 79.6L219.0 79.1L218.7 78.1L218.5 77.6L218.3 76.6L218.1 75.8L218.0 75.1L218.0 74.1L218.1 73.6L218.6 72.9L219.1 72.5L219.8 72.1L220.6 71.7L221.1 71.4L221.8 71.1L222.6 70.8L223.2 70.6L224.1 70.3L224.9 70.1L225.6 69.9L226.6 69.7L227.3 69.6L227.3 69.6M228.6 70.1L229.1 70.1L230.1 70.0L231.1 70.0L232.1 70.0L233.1 70.0L234.1 70.1L234.6 70.2L235.6 70.3L236.6 70.5L237.1 70.6L238.1 70.8L239.1 71.1L239.6 71.2L240.6 71.5L241.1 71.7L242.1 72.0L242.6 72.2L243.6 72.6L244.1 72.9L244.6 73.1L245.5 73.6L246.1 74.0L246.6 74.2L247.5 74.6L248.1 74.9L248.6 75.2L249.6 75.6L250.1 75.8L251.0 76.1L251.6 76.3L252.5 76.6L253.1 76.8L253.9 77.1L254.6 77.4L255.1 77.7L255.7 78.1L256.3 78.6L256.7 79.1L257.1 79.6L257.6 80.3L258.1 81.1L258.3 81.6L258.6 82.3L259.0 83.1L259.1 83.6L259.4 84.6L259.6 85.4L259.8 86.1L260.0 87.1L260.1 88.1L259.9 89.1L259.6 89.9L259.1 90.6L258.7 91.1L258.3 91.6L257.7 92.1L257.1 92.6L256.6 92.9L256.1 93.2L255.1 93.5L254.4 93.6L253.6 93.6L253.1 93.6L252.1 93.4L251.1 93.1L250.6 93.0L249.6 92.8L248.6 92.8L247.6 92.9L246.6 93.1L246.1 93.2L245.1 93.6L244.6 93.8L243.8 94.1L243.1 94.4L242.5 94.6L241.6 94.9L240.6 95.1L240.1 95.2L239.1 95.2L238.1 95.2L237.6 95.1L236.6 94.9L235.7 94.6L235.1 94.5L234.2 94.1L233.6 93.9L233.1 93.6L232.1 93.2L231.6 92.9L231.0 92.6L230.2 92.1L229.6 91.7L229.1 91.3L228.6 90.8L228.1 90.3L227.6 89.7L227.1 89.2L226.6 88.7L226.1 88.2L225.6 87.7L225.1 87.2L224.6 86.7L224.1 86.2L223.6 85.7L223.2 85.1L222.8 84.6L222.4 84.1L222.0 83.6L221.6 83.0L221.1 82.2L220.8 81.6L220.6 81.1L220.1 80.2L219.9 79.6L219.6 78.8L219.4 78.1L219.2 77.1L219.1 76.6L219.0 75.6L218.9 74.6L219.1 73.8L219.6 73.2L220.1 72.8L220.6 72.5L221.2 72.1L222.1 71.7L222.6 71.5L223.6 71.2L224.1 71.0L225.1 70.7L225.6 70.6L226.6 70.4L227.6 70.2L228.6 70.1L228.6 70.1M226.3 71.1L227.1 71.0L228.1 70.8L229.1 70.7L230.1 70.7L231.1 70.7L232.1 70.7L233.1 70.8L234.1 70.9L235.1 71.0L235.7 71.1L236.6 71.3L237.6 71.5L238.1 71.6L239.1 71.9L239.9 72.1L240.6 72.4L241.4 72.6L242.1 72.9L242.7 73.1L243.6 73.6L244.1 73.8L244.6 74.1L245.5 74.6L246.1 75.0L246.6 75.3L247.3 75.6L248.1 76.1L248.6 76.3L249.2 76.6L250.1 77.1L250.6 77.3L251.6 77.6L252.1 77.7L253.1 78.0L253.6 78.1L254.6 78.5L255.1 78.8L255.6 79.1L256.2 79.6L256.7 80.1L257.1 80.7L257.6 81.5L258.0 82.1L258.2 82.6L258.6 83.6L258.8 84.1L259.0 85.1L259.2 85.6L259.4 86.6L259.5 87.6L259.5 88.6L259.1 89.6L258.8 90.1L258.5 90.6L258.0 91.1L257.4 91.6L256.7 92.1L256.1 92.4L255.6 92.6L254.6 92.8L253.6 92.8L252.6 92.7L252.1 92.6L251.1 92.3L250.5 92.1L249.6 92.0L248.6 91.9L247.6 92.0L246.7 92.1L246.1 92.3L245.2 92.6L244.6 92.9L244.0 93.1L243.1 93.5L242.6 93.7L241.6 94.0L241.1 94.1L240.1 94.3L239.1 94.4L238.1 94.4L237.1 94.2L236.6 94.1L235.6 93.9L234.9 93.6L234.1 93.3L233.6 93.1L232.6 92.7L232.1 92.4L231.5 92.1L230.7 91.6L230.1 91.2L229.6 90.8L229.1 90.3L228.6 89.8L228.1 89.3L227.6 88.8L227.1 88.3L226.6 87.8L226.1 87.3L225.6 86.8L225.1 86.3L224.6 85.8L224.1 85.3L223.6 84.7L223.2 84.1L222.8 83.6L222.5 83.1L222.1 82.6L221.6 81.8L221.3 81.1L221.1 80.6L220.6 79.6L220.5 79.1L220.2 78.1L220.1 77.6L219.9 76.6L219.8 75.6L219.8 74.6L220.1 73.9L220.6 73.4L221.1 73.0L221.7 72.6L222.6 72.2L223.1 72.0L224.1 71.7L224.6 71.5L225.6 71.3L226.3 71.1L226.3 71.1M227.1 71.6L227.6 71.5L228.6 71.4L229.6 71.4L230.6 71.3L231.6 71.3L232.6 71.4L233.6 71.5L234.3 71.6L235.1 71.8L236.1 72.0L236.9 72.1L237.6 72.3L238.6 72.6L239.1 72.7L240.1 73.0L240.6 73.2L241.6 73.6L242.1 73.8L242.8 74.1L243.6 74.5L244.1 74.8L244.6 75.1L245.4 75.6L246.1 76.0L246.6 76.3L247.1 76.6L247.9 77.1L248.6 77.6L249.1 77.9L249.6 78.2L250.6 78.6L251.1 78.8L252.1 79.0L253.1 79.1L253.6 79.2L254.6 79.5L255.1 79.8L255.6 80.1L256.2 80.6L256.6 81.1L257.1 81.8L257.6 82.6L257.8 83.1L258.1 83.9L258.4 84.6L258.6 85.6L258.7 86.1L258.9 87.1L259.0 88.1L258.8 89.1L258.5 89.6L258.1 90.2L257.6 90.7L257.1 91.1L256.3 91.6L255.6 91.9L254.6 92.1L253.6 92.1L252.6 91.9L251.6 91.6L251.1 91.5L250.1 91.2L249.6 91.1L248.6 91.0L247.6 91.0L247.1 91.1L246.1 91.4L245.4 91.6L244.6 91.9L244.1 92.2L243.1 92.6L242.6 92.8L241.7 93.1L241.1 93.3L240.1 93.5L239.1 93.6L238.1 93.6L237.1 93.5L236.1 93.2L235.6 93.1L234.6 92.8L234.1 92.6L233.1 92.1L232.6 91.9L232.0 91.6L231.2 91.1L230.6 90.8L230.1 90.3L229.6 89.9L229.1 89.3L228.6 88.8L228.1 88.3L227.6 87.8L227.1 87.4L226.6 86.9L226.1 86.4L225.6 85.9L225.1 85.4L224.6 84.9L224.1 84.3L223.6 83.7L223.2 83.1L222.9 82.6L222.6 82.1L222.1 81.3L221.8 80.6L221.6 80.1L221.2 79.1L221.1 78.6L220.8 77.6L220.7 76.6L220.6 75.6L220.8 74.6L221.1 74.0L221.6 73.5L222.2 73.1L223.1 72.7L223.6 72.5L224.6 72.2L225.1 72.0L226.1 71.8L227.1 71.6L227.1 71.6M228.0 72.1L228.6 72.1L229.6 72.0L230.6 72.0L231.6 72.0L232.6 72.1L233.1 72.1L234.1 72.3L235.1 72.5L235.8 72.6L236.6 72.8L237.6 73.1L238.1 73.2L239.1 73.5L239.6 73.7L240.6 74.0L241.1 74.2L242.0 74.6L242.6 74.9L243.1 75.2L243.8 75.6L244.5 76.1L245.1 76.5L245.6 76.8L246.1 77.2L246.8 77.6L247.5 78.1L248.1 78.6L248.6 79.1L249.1 79.5L249.6 79.8L250.6 80.1L251.1 80.2L252.1 80.2L253.1 80.3L254.1 80.4L254.7 80.6L255.5 81.1L256.1 81.6L256.5 82.1L256.8 82.6L257.1 83.1L257.6 84.1L257.8 84.6L258.1 85.6L258.2 86.1L258.3 87.1L258.4 88.1L258.1 89.1L257.8 89.6L257.4 90.1L256.7 90.6L256.1 91.0L255.6 91.2L254.6 91.4L253.6 91.3L252.7 91.1L252.1 91.0L251.1 90.6L250.6 90.5L249.6 90.2L248.8 90.1L248.1 90.1L247.6 90.1L246.6 90.3L245.6 90.6L245.1 90.8L244.4 91.1L243.6 91.5L243.1 91.7L242.1 92.1L241.6 92.3L240.6 92.6L240.1 92.7L239.1 92.8L238.1 92.8L237.1 92.7L236.6 92.6L235.6 92.3L235.0 92.1L234.1 91.8L233.6 91.6L232.6 91.1L232.1 90.9L231.6 90.6L231.0 90.1L230.4 89.6L229.9 89.1L229.4 88.6L228.9 88.1L228.4 87.6L227.9 87.1L227.3 86.6L226.8 86.1L226.3 85.6L225.8 85.1L225.3 84.6L224.9 84.1L224.4 83.6L224.0 83.1L223.6 82.5L223.1 81.7L222.8 81.1L222.6 80.6L222.1 79.6L222.0 79.1L221.7 78.1L221.6 77.6L221.5 76.6L221.5 75.6L221.6 74.9L222.1 74.1L222.6 73.7L223.1 73.4L223.8 73.1L224.6 72.8L225.4 72.6L226.1 72.4L227.1 72.2L228.0 72.1L228.0 72.1M229.9 72.6L230.6 72.6L231.1 72.6L232.1 72.7L233.1 72.8L234.1 73.0L234.8 73.1L235.6 73.3L236.6 73.6L237.1 73.7L238.1 74.0L238.6 74.2L239.6 74.5L240.1 74.7L241.1 75.1L241.6 75.4L242.1 75.6L242.9 76.1L243.6 76.6L244.1 76.9L244.6 77.3L245.1 77.7L245.7 78.1L246.3 78.6L246.9 79.1L247.3 79.6L247.8 80.1L248.2 80.6L248.7 81.1L249.5 81.6L250.1 81.8L251.1 81.8L252.1 81.6L252.6 81.6L253.6 81.5L254.2 81.6L255.1 82.0L255.6 82.4L256.1 82.9L256.6 83.6L256.9 84.1L257.1 84.7L257.4 85.6L257.6 86.5L257.7 87.1L257.7 88.1L257.6 88.6L257.1 89.4L256.6 89.9L256.1 90.2L255.1 90.6L254.1 90.6L253.1 90.5L252.1 90.2L251.6 90.0L250.6 89.6L250.1 89.5L249.1 89.2L248.1 89.2L247.1 89.3L246.1 89.5L245.6 89.7L244.6 90.1L244.1 90.3L243.5 90.6L242.6 91.0L242.1 91.2L241.1 91.6L240.6 91.7L239.6 91.9L238.6 92.0L237.6 92.0L236.6 91.8L235.9 91.6L235.1 91.4L234.4 91.1L233.6 90.8L233.1 90.6L232.2 90.1L231.6 89.7L231.1 89.3L230.6 88.9L230.1 88.4L229.6 87.8L229.1 87.4L228.6 86.9L228.1 86.4L227.6 85.9L227.1 85.5L226.6 85.0L226.1 84.5L225.6 84.0L225.1 83.4L224.6 82.8L224.2 82.1L223.9 81.6L223.6 81.1L223.1 80.2L222.9 79.6L222.6 78.7L222.5 78.1L222.3 77.1L222.3 76.1L222.5 75.1L222.8 74.6L223.4 74.1L224.1 73.7L224.6 73.5L225.6 73.2L226.1 73.1L227.1 72.9L228.1 72.7L229.1 72.7L229.9 72.6L229.9 72.6M226.6 73.6L227.1 73.5L228.1 73.4L229.1 73.3L230.1 73.3L231.1 73.3L232.1 73.4L233.1 73.5L233.8 73.6L234.6 73.8L235.6 74.1L236.1 74.2L237.1 74.5L237.6 74.6L238.6 75.0L239.1 75.2L240.1 75.6L240.6 75.8L241.2 76.1L242.1 76.6L242.6 77.0L243.1 77.4L243.6 77.7L244.1 78.1L244.7 78.6L245.3 79.1L245.8 79.6L246.2 80.1L246.6 80.7L247.1 81.6L247.5 82.1L247.8 82.6L248.1 83.1L248.6 83.7L249.3 84.1L250.1 84.3L250.6 84.1L251.6 83.6L252.1 83.4L252.7 83.1L253.6 82.9L254.6 83.1L255.1 83.4L255.6 83.8L256.1 84.5L256.4 85.1L256.7 85.6L256.9 86.6L257.0 87.6L256.8 88.6L256.4 89.1L255.6 89.6L255.1 89.8L254.1 89.8L253.1 89.6L252.6 89.4L251.8 89.1L251.1 88.8L250.6 88.6L249.6 88.2L249.1 88.1L248.1 88.1L247.6 88.2L246.6 88.4L245.8 88.6L245.1 88.9L244.6 89.1L243.6 89.6L243.1 89.8L242.5 90.1L241.6 90.5L241.1 90.7L240.1 91.0L239.1 91.1L238.6 91.1L237.8 91.1L237.1 91.0L236.1 90.8L235.4 90.6L234.6 90.4L234.0 90.1L233.1 89.7L232.6 89.5L232.1 89.1L231.5 88.6L230.9 88.1L230.4 87.6L229.9 87.1L229.4 86.6L228.9 86.1L228.4 85.6L227.8 85.1L227.3 84.6L226.8 84.1L226.3 83.6L225.8 83.1L225.4 82.6L225.1 82.1L224.6 81.5L224.2 80.6L223.9 80.1L223.6 79.4L223.4 78.6L223.2 77.6L223.1 76.6L223.3 75.6L223.6 75.0L224.1 74.5L224.9 74.1L225.6 73.9L226.6 73.6L226.6 73.6M227.5 74.1L228.1 74.0L229.1 73.9L230.1 73.9L231.1 74.0L232.1 74.1L232.6 74.1L233.6 74.3L234.6 74.5L235.1 74.7L236.1 75.0L236.6 75.1L237.6 75.5L238.1 75.7L239.1 76.1L239.6 76.3L240.3 76.6L241.1 77.1L241.6 77.4L242.1 77.8L242.6 78.2L243.2 78.6L243.8 79.1L244.3 79.6L244.8 80.1L245.2 80.6L245.6 81.4L246.0 82.1L246.2 82.6L246.6 83.6L246.8 84.1L247.1 85.0L247.3 85.6L247.2 86.6L246.6 87.1L246.1 87.4L245.6 87.6L244.6 88.0L244.1 88.3L243.4 88.6L242.6 89.0L242.1 89.3L241.2 89.6L240.6 89.8L239.6 90.1L239.1 90.2L238.1 90.2L237.1 90.1L236.6 90.0L235.6 89.8L235.0 89.6L234.1 89.3L233.6 89.1L232.8 88.6L232.1 88.2L231.6 87.7L231.1 87.2L230.6 86.7L230.1 86.2L229.6 85.7L229.1 85.3L228.6 84.8L228.1 84.4L227.6 83.9L227.1 83.4L226.6 82.9L226.1 82.3L225.6 81.6L225.3 81.1L225.0 80.6L224.6 79.7L224.4 79.1L224.1 78.1L224.1 77.6L224.0 76.6L224.1 76.1L224.6 75.2L225.1 74.9L225.6 74.6L226.6 74.3L227.5 74.1L227.5 74.1M253.2 85.1L254.1 84.8L254.9 85.1L255.4 85.6L255.7 86.1L256.0 87.1L255.8 88.1L255.3 88.6L254.6 88.8L253.6 88.7L253.1 88.5L252.5 88.1L252.1 87.6L252.0 86.6L252.3 86.1L252.6 85.6L253.2 85.1L253.2 85.1M229.0 74.6L229.6 74.6L230.6 74.6L231.1 74.7L232.1 74.8L233.1 74.9L234.0 75.1L234.6 75.3L235.6 75.6L236.1 75.8L237.1 76.1L237.6 76.3L238.3 76.6L239.1 77.0L239.6 77.3L240.3 77.6L241.0 78.1L241.6 78.6L242.1 79.0L242.6 79.5L243.1 80.0L243.6 80.5L244.1 81.1L244.5 81.6L244.7 82.1L245.1 83.1L245.3 83.6L245.6 84.6L245.6 85.1L245.6 85.6L245.1 86.5L244.6 86.8L244.1 87.1L243.2 87.6L242.6 87.9L242.1 88.1L241.1 88.6L240.6 88.7L239.6 89.0L239.0 89.1L238.1 89.2L237.1 89.1L236.6 89.0L235.6 88.8L234.9 88.6L234.1 88.3L233.6 88.1L232.8 87.6L232.2 87.1L231.7 86.6L231.2 86.1L230.7 85.6L230.2 85.1L229.6 84.6L229.1 84.2L228.6 83.8L228.1 83.3L227.6 82.8L227.1 82.2L226.6 81.6L226.3 81.1L226.0 80.6L225.6 79.9L225.3 79.1L225.1 78.4L225.0 77.6L225.0 76.6L225.2 76.1L225.6 75.6L226.4 75.1L227.1 74.9L228.1 74.7L229.0 74.6L229.0 74.6M227.5 75.6L228.1 75.5L229.1 75.3L230.1 75.3L231.1 75.4L232.1 75.5L232.8 75.6L233.6 75.8L234.6 76.1L235.1 76.3L236.1 76.6L236.6 76.9L237.3 77.1L238.1 77.5L238.6 77.8L239.3 78.1L240.0 78.6L240.6 79.1L241.1 79.5L241.6 80.0L242.1 80.5L242.6 81.0L243.1 81.6L243.5 82.1L243.7 82.6L244.1 83.6L244.2 84.1L244.2 85.1L244.0 85.6L243.5 86.1L242.7 86.6L242.1 86.9L241.6 87.2L240.6 87.5L240.1 87.7L239.1 87.9L238.1 88.0L237.1 88.0L236.1 87.9L235.1 87.7L234.6 87.5L233.8 87.1L233.1 86.7L232.6 86.2L232.1 85.7L231.6 85.2L231.1 84.8L230.6 84.3L230.1 83.9L229.6 83.5L229.1 83.0L228.6 82.6L228.1 82.0L227.6 81.4L227.1 80.7L226.8 80.1L226.5 79.6L226.2 78.6L226.1 78.1L226.1 77.1L226.2 76.6L226.6 76.1L227.5 75.6L227.5 75.6M229.5 76.1L230.1 76.1L230.7 76.1L231.6 76.2L232.6 76.4L233.5 76.6L234.1 76.8L235.0 77.1L235.6 77.4L236.2 77.6L237.1 78.1L237.6 78.3L238.2 78.6L239.0 79.1L239.6 79.6L240.1 80.0L240.6 80.5L241.1 81.0L241.6 81.6L242.1 82.1L242.4 82.6L242.7 83.1L242.9 84.1L242.6 85.1L242.1 85.5L241.6 85.8L240.9 86.1L240.1 86.4L239.2 86.6L238.6 86.7L237.6 86.8L236.6 86.8L235.6 86.7L235.1 86.5L234.2 86.1L233.6 85.7L233.1 85.3L232.6 84.8L232.1 84.3L231.6 83.9L231.1 83.5L230.6 83.0L230.1 82.6L229.6 82.1L229.1 81.6L228.6 81.1L228.1 80.3L227.7 79.6L227.5 79.1L227.3 78.1L227.4 77.1L227.8 76.6L228.6 76.3L229.5 76.1L229.5 76.1M229.9 77.1L230.6 77.1L231.6 77.1L232.1 77.2L233.1 77.4L233.7 77.6L234.6 78.0L235.1 78.2L236.0 78.6L236.6 78.9L237.1 79.2L237.8 79.6L238.6 80.1L239.1 80.6L239.6 81.0L240.1 81.6L240.6 82.1L240.9 82.6L241.2 83.1L241.2 84.1L240.8 84.6L240.1 85.0L239.6 85.2L238.6 85.4L237.6 85.5L236.6 85.5L235.6 85.4L234.9 85.1L234.2 84.6L233.6 84.2L233.1 83.7L232.6 83.2L232.1 82.8L231.6 82.4L231.1 82.0L230.6 81.5L230.1 81.0L229.6 80.3L229.2 79.6L229.0 79.1L228.8 78.1L229.1 77.5L229.9 77.1L229.9 77.1M231.4 78.6L232.1 78.5L233.1 78.6L233.6 78.8L234.5 79.1L235.1 79.4L235.6 79.7L236.4 80.1L237.1 80.6L237.6 80.9L238.1 81.3L238.6 81.8L239.1 82.6L239.2 83.1L238.9 83.6L238.1 84.0L237.6 84.1L236.6 84.2L236.1 84.1L235.2 83.6L234.6 83.2L234.1 82.7L233.6 82.3L233.1 81.8L232.6 81.4L232.1 80.9L231.6 80.3L231.2 79.6L231.1 79.1L231.4 78.6L231.4 78.6" stroke="#000" stroke-width="0.75" fill="none"/>
<g fill="#fff" stroke="#111" stroke-width="0.5"><ellipse cx="245.8" cy="103.3" rx="3.0" ry="4.4"/><ellipse cx="242" cy="82" rx="2.0" ry="2.2"/><ellipse cx="250" cy="88.5" rx="2.0" ry="2.4"/><ellipse cx="219" cy="71" rx="1.6" ry="2.8"/><ellipse cx="246.3" cy="93" rx="1.5" ry="1.8"/><ellipse cx="239" cy="75.5" rx="1.3" ry="1.3"/><ellipse cx="232" cy="77" rx="2.2" ry="1.2"/></g>
<path d="M23.5 34.3H163.8V174.7" fill="none" stroke="#111" stroke-width="1"/>
<path d="M23.5 33.8V174.7" fill="none" stroke="#000" stroke-width="1.15"/>
<path d="M22.925 174.7H164.3" fill="none" stroke="#000" stroke-width="1.4"/>
<path d="M23.00 174.7v4.0M33.25 174.7v2.2M39.25 174.7v2.2M43.50 174.7v2.2M46.80 174.7v2.2M49.50 174.7v2.2M51.78 174.7v2.2M53.75 174.7v2.2M55.49 174.7v2.2M57.05 174.7v4.0M67.30 174.7v2.2M73.30 174.7v2.2M77.55 174.7v2.2M80.85 174.7v2.2M83.55 174.7v2.2M85.83 174.7v2.2M87.80 174.7v2.2M89.54 174.7v2.2M91.10 174.7v4.0M101.35 174.7v2.2M107.35 174.7v2.2M111.60 174.7v2.2M114.90 174.7v2.2M117.60 174.7v2.2M119.88 174.7v2.2M121.85 174.7v2.2M123.59 174.7v2.2M125.15 174.7v4.0M135.40 174.7v2.2M141.40 174.7v2.2M145.65 174.7v2.2M148.95 174.7v2.2M151.65 174.7v2.2M153.93 174.7v2.2M155.90 174.7v2.2M157.64 174.7v2.2M159.20 174.7v4.0" stroke="#000" stroke-width="1" fill="none"/>
<text x="23.7" y="187.0" font-family='"Liberation Serif", "Times New Roman", Times, serif' font-size="6.7" text-anchor="middle" font-weight="normal" stroke="#000" stroke-width="0.25">0.1</text>
<text x="57.05" y="187.0" font-family='"Liberation Serif", "Times New Roman", Times, serif' font-size="6.7" text-anchor="middle" font-weight="normal" stroke="#000" stroke-width="0.25">1</text>
<text x="91.1" y="187.0" font-family='"Liberation Serif", "Times New Roman", Times, serif' font-size="6.7" text-anchor="middle" font-weight="normal" stroke="#000" stroke-width="0.25">10</text>
<text x="125.15" y="187.0" font-family='"Liberation Serif", "Times New Roman", Times, serif' font-size="6.7" text-anchor="middle" font-weight="normal" stroke="#000" stroke-width="0.25">100</text>
<text x="159.2" y="187.0" font-family='"Liberation Serif", "Times New Roman", Times, serif' font-size="6.7" text-anchor="middle" font-weight="normal" stroke="#000" stroke-width="0.25">1000</text>
<path d="M23.5 174.80h-3.4M23.5 164.63h-1.3M23.5 158.67h-1.3M23.5 154.45h-1.3M23.5 151.17h-1.3M23.5 148.50h-1.3M23.5 146.24h-1.3M23.5 144.28h-1.3M23.5 142.55h-1.3M23.5 141.00h-3.4M23.5 130.83h-1.3M23.5 124.87h-1.3M23.5 120.65h-1.3M23.5 117.37h-1.3M23.5 114.70h-1.3M23.5 112.44h-1.3M23.5 110.48h-1.3M23.5 108.75h-1.3M23.5 107.20h-3.4M23.5 97.03h-1.3M23.5 91.07h-1.3M23.5 86.85h-1.3M23.5 83.57h-1.3M23.5 80.90h-1.3M23.5 78.64h-1.3M23.5 76.68h-1.3M23.5 74.95h-1.3M23.5 73.40h-3.4M23.5 63.23h-1.3M23.5 57.27h-1.3M23.5 53.05h-1.3M23.5 49.77h-1.3M23.5 47.10h-1.3M23.5 44.84h-1.3M23.5 42.88h-1.3M23.5 41.15h-1.3M23.5 39.60h-3.4" stroke="#000" stroke-width="0.9" fill="none"/>
<text x="18.1" y="177.1" font-family='"Liberation Serif", "Times New Roman", Times, serif' font-size="6.7" text-anchor="end" font-weight="normal" stroke="#000" stroke-width="0.25">0.1</text>
<text x="18.1" y="143.3" font-family='"Liberation Serif", "Times New Roman", Times, serif' font-size="6.7" text-anchor="end" font-weight="normal" stroke="#000" stroke-width="0.25">1</text>
<text x="18.1" y="109.5" font-family='"Liberation Serif", "Times New Roman", Times, serif' font-size="6.7" text-anchor="end" font-weight="normal" stroke="#000" stroke-width="0.25">10</text>
<text x="18.1" y="75.7" font-family='"Liberation Serif", "Times New Roman", Times, serif' font-size="6.7" text-anchor="end" font-weight="normal" stroke="#000" stroke-width="0.25">100</text>
<text x="18.1" y="41.9" font-family='"Liberation Serif", "Times New Roman", Times, serif' font-size="6.7" text-anchor="end" font-weight="normal" stroke="#000" stroke-width="0.25">1000</text>
<rect x="24.2" y="41.3" width="55.0" height="68.2" fill="none" stroke="#1a1a1a" stroke-width="0.8"/>
<text x="90" y="196.6" font-family='"Liberation Sans", Arial, Helvetica, sans-serif' font-size="9.3" text-anchor="middle" font-weight="normal" stroke="#000" stroke-width="0.2">Lineage</text>
<text x="8.3" y="106.1" font-family='"Liberation Mono", "Courier New", Courier, monospace' font-size="8.9" text-anchor="middle" font-weight="normal" transform="rotate(-90 8.3 106.1)" stroke="#000" stroke-width="0.1">c-Kit</text>
<path d="M200 35.2H340.8V175.2" fill="none" stroke="#111" stroke-width="1"/>
<path d="M200 34.7V175.2" fill="none" stroke="#000" stroke-width="1.15"/>
<path d="M199.425 175.2H341.3" fill="none" stroke="#000" stroke-width="1.4"/>
<path d="M201.20 175.2v4.0M211.37 175.2v2.2M217.33 175.2v2.2M221.55 175.2v2.2M224.83 175.2v2.2M227.50 175.2v2.2M229.76 175.2v2.2M231.72 175.2v2.2M233.45 175.2v2.2M235.00 175.2v4.0M245.17 175.2v2.2M251.13 175.2v2.2M255.35 175.2v2.2M258.63 175.2v2.2M261.30 175.2v2.2M263.56 175.2v2.2M265.52 175.2v2.2M267.25 175.2v2.2M268.80 175.2v4.0M278.97 175.2v2.2M284.93 175.2v2.2M289.15 175.2v2.2M292.43 175.2v2.2M295.10 175.2v2.2M297.36 175.2v2.2M299.32 175.2v2.2M301.05 175.2v2.2M302.60 175.2v4.0M312.77 175.2v2.2M318.73 175.2v2.2M322.95 175.2v2.2M326.23 175.2v2.2M328.90 175.2v2.2M331.16 175.2v2.2M333.12 175.2v2.2M334.85 175.2v2.2M336.40 175.2v4.0" stroke="#000" stroke-width="1" fill="none"/>
<text x="201.9" y="187.5" font-family='"Liberation Serif", "Times New Roman", Times, serif' font-size="6.7" text-anchor="middle" font-weight="normal" stroke="#000" stroke-width="0.25">0.1</text>
<text x="235.0" y="187.5" font-family='"Liberation Serif", "Times New Roman", Times, serif' font-size="6.7" text-anchor="middle" font-weight="normal" stroke="#000" stroke-width="0.25">1</text>
<text x="268.8" y="187.5" font-family='"Liberation Serif", "Times New Roman", Times, serif' font-size="6.7" text-anchor="middle" font-weight="normal" stroke="#000" stroke-width="0.25">10</text>
<text x="302.6" y="187.5" font-family='"Liberation Serif", "Times New Roman", Times, serif' font-size="6.7" text-anchor="middle" font-weight="normal" stroke="#000" stroke-width="0.25">100</text>
<text x="336.4" y="187.5" font-family='"Liberation Serif", "Times New Roman", Times, serif' font-size="6.7" text-anchor="middle" font-weight="normal" stroke="#000" stroke-width="0.25">1000</text>
<path d="M200 175.30h-3.4M200 165.08h-1.3M200 159.10h-1.3M200 154.86h-1.3M200 151.57h-1.3M200 148.88h-1.3M200 146.61h-1.3M200 144.64h-1.3M200 142.90h-1.3M200 141.35h-3.4M200 131.13h-1.3M200 125.15h-1.3M200 120.91h-1.3M200 117.62h-1.3M200 114.93h-1.3M200 112.66h-1.3M200 110.69h-1.3M200 108.95h-1.3M200 107.40h-3.4M200 97.18h-1.3M200 91.20h-1.3M200 86.96h-1.3M200 83.67h-1.3M200 80.98h-1.3M200 78.71h-1.3M200 76.74h-1.3M200 75.00h-1.3M200 73.45h-3.4M200 63.23h-1.3M200 57.25h-1.3M200 53.01h-1.3M200 49.72h-1.3M200 47.03h-1.3M200 44.76h-1.3M200 42.79h-1.3M200 41.05h-1.3M200 39.50h-3.4" stroke="#000" stroke-width="0.9" fill="none"/>
<text x="194.6" y="177.6" font-family='"Liberation Serif", "Times New Roman", Times, serif' font-size="6.7" text-anchor="end" font-weight="normal" stroke="#000" stroke-width="0.25">0.1</text>
<text x="194.6" y="143.65" font-family='"Liberation Serif", "Times New Roman", Times, serif' font-size="6.7" text-anchor="end" font-weight="normal" stroke="#000" stroke-width="0.25">1</text>
<text x="194.6" y="109.7" font-family='"Liberation Serif", "Times New Roman", Times, serif' font-size="6.7" text-anchor="end" font-weight="normal" stroke="#000" stroke-width="0.25">10</text>
<text x="194.6" y="75.75" font-family='"Liberation Serif", "Times New Roman", Times, serif' font-size="6.7" text-anchor="end" font-weight="normal" stroke="#000" stroke-width="0.25">100</text>
<text x="194.6" y="41.8" font-family='"Liberation Serif", "Times New Roman", Times, serif' font-size="6.7" text-anchor="end" font-weight="normal" stroke="#000" stroke-width="0.25">1000</text>
<rect x="265" y="40.4" width="68.3" height="74" fill="none" stroke="#1a1a1a" stroke-width="0.8"/>
<text x="268" y="198" font-family='"Liberation Sans", Arial, Helvetica, sans-serif' font-size="9.3" text-anchor="middle" font-weight="normal" stroke="#000" stroke-width="0.15">Sca-1</text>
<text x="185.1" y="105.7" font-family='"Liberation Mono", "Courier New", Courier, monospace' font-size="8.9" text-anchor="middle" font-weight="normal" transform="rotate(-90 185.1 105.7)" stroke="#000" stroke-width="0.1">c-Kit</text>
<path d="M377 35H517.0V175.5" fill="none" stroke="#111" stroke-width="1"/>
<path d="M377 34.5V175.5" fill="none" stroke="#000" stroke-width="1.15"/>
<path d="M376.425 175.5H517.5" fill="none" stroke="#000" stroke-width="1.4"/>
<path d="M378.00 175.5v4.6M388.17 175.5v3.0M394.13 175.5v3.0M398.35 175.5v3.0M401.63 175.5v3.0M404.30 175.5v3.0M406.56 175.5v3.0M408.52 175.5v3.0M410.25 175.5v3.0M411.80 175.5v4.6M421.97 175.5v3.0M427.93 175.5v3.0M432.15 175.5v3.0M435.43 175.5v3.0M438.10 175.5v3.0M440.36 175.5v3.0M442.32 175.5v3.0M444.05 175.5v3.0M445.60 175.5v4.6M455.77 175.5v3.0M461.73 175.5v3.0M465.95 175.5v3.0M469.23 175.5v3.0M471.90 175.5v3.0M474.16 175.5v3.0M476.12 175.5v3.0M477.85 175.5v3.0M479.40 175.5v4.6M489.57 175.5v3.0M495.53 175.5v3.0M499.75 175.5v3.0M503.03 175.5v3.0M505.70 175.5v3.0M507.96 175.5v3.0M509.92 175.5v3.0M511.65 175.5v3.0M513.20 175.5v4.6" stroke="#000" stroke-width="1" fill="none"/>
<text x="378.7" y="187.8" font-family='"Liberation Serif", "Times New Roman", Times, serif' font-size="6.7" text-anchor="middle" font-weight="normal" stroke="#000" stroke-width="0.25">0.1</text>
<text x="411.8" y="187.8" font-family='"Liberation Serif", "Times New Roman", Times, serif' font-size="6.7" text-anchor="middle" font-weight="normal" stroke="#000" stroke-width="0.25">1</text>
<text x="445.6" y="187.8" font-family='"Liberation Serif", "Times New Roman", Times, serif' font-size="6.7" text-anchor="middle" font-weight="normal" stroke="#000" stroke-width="0.25">10</text>
<text x="479.4" y="187.8" font-family='"Liberation Serif", "Times New Roman", Times, serif' font-size="6.7" text-anchor="middle" font-weight="normal" stroke="#000" stroke-width="0.25">100</text>
<text x="513.2" y="187.8" font-family='"Liberation Serif", "Times New Roman", Times, serif' font-size="6.7" text-anchor="middle" font-weight="normal" stroke="#000" stroke-width="0.25">1000</text>
<path d="M377 175.30h-3.6M377 166.36h-1.3M377 157.43h-1.3M377 148.49h-1.3M377 139.55h-3.6M377 130.61h-1.3M377 121.68h-1.3M377 112.74h-1.3M377 103.80h-3.6M377 94.86h-1.3M377 85.93h-1.3M377 76.99h-1.3M377 68.05h-3.6M377 59.11h-1.3M377 50.18h-1.3M377 41.24h-1.3" stroke="#000" stroke-width="0.9" fill="none"/>
<text x="371.8" y="177.6" font-family='"Liberation Serif", "Times New Roman", Times, serif' font-size="6.7" text-anchor="end" font-weight="normal" stroke="#000" stroke-width="0.25">0</text>
<text x="371.8" y="141.85" font-family='"Liberation Serif", "Times New Roman", Times, serif' font-size="6.7" text-anchor="end" font-weight="normal" stroke="#000" stroke-width="0.25">20</text>
<text x="371.8" y="106.1" font-family='"Liberation Serif", "Times New Roman", Times, serif' font-size="6.7" text-anchor="end" font-weight="normal" stroke="#000" stroke-width="0.25">40</text>
<text x="371.8" y="70.35" font-family='"Liberation Serif", "Times New Roman", Times, serif' font-size="6.7" text-anchor="end" font-weight="normal" stroke="#000" stroke-width="0.25">60</text>
<text x="454.8" y="199.8" font-family='"Liberation Sans", Arial, Helvetica, sans-serif' font-size="9.7" text-anchor="middle" font-weight="normal" letter-spacing="-0.55" stroke="#000" stroke-width="0.25">eGFP</text>
<polyline points="378,174.6 440,174.6 465,174.4 472.5,173.8 477.5,172.3 480.5,170 482.5,167 484.5,162 486.2,157 487.3,151 488.3,148 490,146 491,142 492.5,137 493.5,128 495,115 496.3,107 497.5,101 498.5,94 499.5,84 500.2,72 500.8,64.5 501.5,68 502.3,83 503,84 503.8,74 504.5,72 505.3,80 506.2,100 507.5,118 509,132 510.5,145 512,156 513.3,165 514.5,171 515.8,173.8 516.8,174.5" fill="none" stroke="#000" stroke-width="1.3" stroke-linejoin="round"/>
<path d="M46.9 41.3V3.1H231.6V17" fill="none" stroke="#000" stroke-width="1.5"/>
<path d="M227.2 16.4h8.8l-4.4 12.4z" fill="#000"/>
<path d="M294.9 40.4V2.5H479.6V16.5" fill="none" stroke="#000" stroke-width="1.5"/>
<path d="M475.2 15.9h8.9l-4.45 12.3z" fill="#000"/>
<text x="2.7" y="13.2" font-family='"Liberation Sans", Arial, Helvetica, sans-serif' font-size="17.1" text-anchor="start" font-weight="bold">A</text>
<text x="3.0" y="255.8" font-family='"Liberation Sans", Arial, Helvetica, sans-serif' font-size="17.1" text-anchor="start" font-weight="bold">B</text>
<text x="250.7" y="257.2" font-family='"Liberation Sans", Arial, Helvetica, sans-serif' font-size="17.3" text-anchor="start" font-weight="bold">C</text>
<path d="M48.699999999999996 261.4H221.8V428.4" fill="none" stroke="#000" stroke-width="1"/>
<path d="M53.3 261.4V428.4" fill="none" stroke="#000" stroke-width="1"/>
<text x="44.3" y="262.9" font-family='"Liberation Serif", "Times New Roman", Times, serif' font-size="10.1" text-anchor="end" font-weight="normal" stroke="#000" stroke-width="0.2">0.8</text>
<line x1="48.699999999999996" y1="303.15" x2="53.3" y2="303.15" stroke="#000" stroke-width="1"/>
<text x="44.3" y="304.65" font-family='"Liberation Serif", "Times New Roman", Times, serif' font-size="10.1" text-anchor="end" font-weight="normal" stroke="#000" stroke-width="0.2">0.6</text>
<line x1="48.699999999999996" y1="344.9" x2="53.3" y2="344.9" stroke="#000" stroke-width="1"/>
<text x="44.3" y="346.4" font-family='"Liberation Serif", "Times New Roman", Times, serif' font-size="10.1" text-anchor="end" font-weight="normal" stroke="#000" stroke-width="0.2">0.4</text>
<line x1="48.699999999999996" y1="386.65" x2="53.3" y2="386.65" stroke="#000" stroke-width="1"/>
<text x="44.3" y="388.15" font-family='"Liberation Serif", "Times New Roman", Times, serif' font-size="10.1" text-anchor="end" font-weight="normal" stroke="#000" stroke-width="0.2">0.2</text>
<text x="44.3" y="429.9" font-family='"Liberation Serif", "Times New Roman", Times, serif' font-size="10.1" text-anchor="end" font-weight="normal" stroke="#000" stroke-width="0.2">0</text>
<line x1="53.3" y1="428.3" x2="53.3" y2="433.6" stroke="#000" stroke-width="0.8"/>
<text x="49.6" y="440.9" font-family='"Liberation Serif", "Times New Roman", Times, serif' font-size="10" text-anchor="middle" font-weight="normal" stroke="#000" stroke-width="0.2">0.1</text>
<line x1="93.8" y1="428.3" x2="93.8" y2="433.6" stroke="#000" stroke-width="0.8"/>
<text x="93.8" y="440.9" font-family='"Liberation Serif", "Times New Roman", Times, serif' font-size="10" text-anchor="middle" font-weight="normal" stroke="#000" stroke-width="0.2">1</text>
<line x1="135.75" y1="428.3" x2="135.75" y2="433.6" stroke="#000" stroke-width="0.8"/>
<text x="135.9" y="440.9" font-family='"Liberation Serif", "Times New Roman", Times, serif' font-size="10" text-anchor="middle" font-weight="normal" stroke="#000" stroke-width="0.2">10</text>
<line x1="178.75" y1="428.3" x2="178.75" y2="433.6" stroke="#000" stroke-width="0.8"/>
<text x="178.8" y="440.9" font-family='"Liberation Serif", "Times New Roman", Times, serif' font-size="10" text-anchor="middle" font-weight="normal" stroke="#000" stroke-width="0.2">100</text>
<line x1="221.75" y1="428.3" x2="221.75" y2="433.6" stroke="#000" stroke-width="0.8"/>
<text x="221.3" y="440.9" font-family='"Liberation Serif", "Times New Roman", Times, serif' font-size="10" text-anchor="middle" font-weight="normal" stroke="#000" stroke-width="0.2">1000</text>
<text x="136.1" y="457.4" font-family='"Liberation Serif", "Times New Roman", Times, serif' font-size="10.1" text-anchor="middle" font-weight="normal" stroke="#000" stroke-width="0.2">Time (min)</text>
<text x="19.2" y="348.3" font-family='"Liberation Serif", "Times New Roman", Times, serif' font-size="10.25" text-anchor="middle" font-weight="normal" transform="rotate(-90 19.2 348.3)" stroke="#000" stroke-width="0.2">No cells per million blood cells</text>
<polyline points="53.3,402.5 83.75,298.25 88,325 94.5,336.25 102,342 123.75,365.5 136.75,388 152.5,394.5 164.25,410.5 171.25,410 183,413.75 190.5,416" fill="none" stroke="#000" stroke-width="1.1" stroke-dasharray="1.4 0.9"/>
<circle cx="83.75" cy="298.25" r="3.1" fill="#000"/>
<circle cx="88" cy="325" r="3.1" fill="#000"/>
<circle cx="94.5" cy="336.25" r="3.1" fill="#000"/>
<circle cx="102" cy="342" r="3.1" fill="#000"/>
<circle cx="123.75" cy="365.5" r="3.1" fill="#000"/>
<circle cx="136.75" cy="388" r="3.1" fill="#000"/>
<circle cx="152.5" cy="394.5" r="3.1" fill="#000"/>
<circle cx="164.25" cy="410.5" r="3.1" fill="#000"/>
<circle cx="171.25" cy="410" r="3.1" fill="#000"/>
<circle cx="183" cy="413.75" r="3.1" fill="#000"/>
<circle cx="190.5" cy="416" r="3.1" fill="#000"/>
<path d="M48.3 428.4H221.8" stroke="#000" stroke-width="1" fill="none"/>
<polyline points="53.3,428 82.5,428 87,428 93.75,428 101.25,428 123.25,428 136.75,427.4 152.5,428 164.25,426.2 171.25,428 183,428 190.5,427.6" fill="none" stroke="#000" stroke-width="1.9"/>
<path d="M79.6 428L82.5 424.8L85.4 428L82.5 431.2z" fill="#000"/>
<path d="M84.1 428L87 424.8L89.9 428L87 431.2z" fill="#000"/>
<path d="M90.85 428L93.75 424.8L96.65 428L93.75 431.2z" fill="#000"/>
<path d="M98.35 428L101.25 424.8L104.15 428L101.25 431.2z" fill="#000"/>
<path d="M120.35 428L123.25 424.8L126.15 428L123.25 431.2z" fill="#000"/>
<path d="M133.85 427.4L136.75 424.2L139.65 427.4L136.75 430.59999999999997z" fill="#000"/>
<path d="M149.6 428L152.5 424.8L155.4 428L152.5 431.2z" fill="#000"/>
<path d="M161.35 426.2L164.25 423.0L167.15 426.2L164.25 429.4z" fill="#000"/>
<path d="M168.35 428L171.25 424.8L174.15 428L171.25 431.2z" fill="#000"/>
<path d="M180.1 428L183 424.8L185.9 428L183 431.2z" fill="#000"/>
<path d="M187.6 427.6L190.5 424.40000000000003L193.4 427.6L190.5 430.8z" fill="#000"/>
<rect x="299.7" y="258.6" width="208.7" height="190.5" fill="#fff" stroke="#000" stroke-width="1"/>
<rect x="361.3" y="258.6" width="82.5" height="13.199999999999989" fill="#000"/>
<rect x="361.3" y="369.3" width="82.5" height="73.69999999999999" fill="#404040"/>
<rect x="361.3" y="258.6" width="82.5" height="190.5" fill="none" stroke="#000" stroke-width="1"/>
<line x1="361.3" y1="369.3" x2="443.8" y2="369.3" stroke="#000" stroke-width="1"/>
<line x1="361.3" y1="444.1" x2="443.8" y2="444.1" stroke="#000" stroke-width="2.6"/>
<text x="291.3" y="261.2" font-family='"Liberation Serif", "Times New Roman", Times, serif' font-size="8.9" text-anchor="end" font-weight="normal" stroke="#000" stroke-width="0.2">100%</text>
<text x="291.3" y="280.25" font-family='"Liberation Serif", "Times New Roman", Times, serif' font-size="8.9" text-anchor="end" font-weight="normal" stroke="#000" stroke-width="0.2">90%</text>
<text x="291.3" y="299.3" font-family='"Liberation Serif", "Times New Roman", Times, serif' font-size="8.9" text-anchor="end" font-weight="normal" stroke="#000" stroke-width="0.2">80%</text>
<text x="291.3" y="318.35" font-family='"Liberation Serif", "Times New Roman", Times, serif' font-size="8.9" text-anchor="end" font-weight="normal" stroke="#000" stroke-width="0.2">70%</text>
<text x="291.3" y="337.4" font-family='"Liberation Serif", "Times New Roman", Times, serif' font-size="8.9" text-anchor="end" font-weight="normal" stroke="#000" stroke-width="0.2">60%</text>
<text x="291.3" y="356.45" font-family='"Liberation Serif", "Times New Roman", Times, serif' font-size="8.9" text-anchor="end" font-weight="normal" stroke="#000" stroke-width="0.2">50%</text>
<text x="291.3" y="375.5" font-family='"Liberation Serif", "Times New Roman", Times, serif' font-size="8.9" text-anchor="end" font-weight="normal" stroke="#000" stroke-width="0.2">40%</text>
<text x="291.3" y="394.55" font-family='"Liberation Serif", "Times New Roman", Times, serif' font-size="8.9" text-anchor="end" font-weight="normal" stroke="#000" stroke-width="0.2">30%</text>
<text x="291.3" y="413.6" font-family='"Liberation Serif", "Times New Roman", Times, serif' font-size="8.9" text-anchor="end" font-weight="normal" stroke="#000" stroke-width="0.2">20%</text>
<text x="291.3" y="432.65" font-family='"Liberation Serif", "Times New Roman", Times, serif' font-size="8.9" text-anchor="end" font-weight="normal" stroke="#000" stroke-width="0.2">10%</text>
<text x="291.3" y="451.7" font-family='"Liberation Serif", "Times New Roman", Times, serif' font-size="8.9" text-anchor="end" font-weight="normal" stroke="#000" stroke-width="0.2">0%</text>
<text x="268.5" y="356" font-family='"Liberation Serif", "Times New Roman", Times, serif' font-size="12.0" text-anchor="middle" font-weight="normal" transform="rotate(-90 268.5 356)" stroke="#000" stroke-width="0.2">Percent of recovered eGFP<tspan dy="-4.2" font-size="10">+</tspan><tspan dy="4.2"> cells</tspan></text>
<line x1="443.8" y1="264.5" x2="452" y2="264.5" stroke="#000" stroke-width="1"/>
<text x="454.4" y="267.2" font-family='"Liberation Serif", "Times New Roman", Times, serif' font-size="8.7" text-anchor="start" font-weight="normal" stroke="#000" stroke-width="0.2">Bone marrow</text>
<text x="464.4" y="277.2" font-family='"Liberation Serif", "Times New Roman", Times, serif' font-size="8.7" text-anchor="start" font-weight="normal" stroke="#000" stroke-width="0.2">(7%)</text>
<line x1="443.8" y1="315" x2="451.5" y2="315" stroke="#000" stroke-width="1"/>
<text x="453.8" y="317.8" font-family='"Liberation Serif", "Times New Roman", Times, serif' font-size="8.7" text-anchor="start" font-weight="normal" stroke="#000" stroke-width="0.2">Spleen (51%)</text>
<line x1="443.8" y1="389.2" x2="452" y2="389.2" stroke="#000" stroke-width="1"/>
<text x="454.3" y="390.4" font-family='"Liberation Serif", "Times New Roman", Times, serif' font-size="8.7" text-anchor="start" font-weight="normal" stroke="#000" stroke-width="0.2">Liver (39%)</text>
<line x1="443.8" y1="443.6" x2="454" y2="414.5" stroke="#000" stroke-width="1.3"/>
<text x="454.4" y="415.3" font-family='"Liberation Serif", "Times New Roman", Times, serif' font-size="8.9" text-anchor="start" font-weight="normal" stroke="#000" stroke-width="0.2">Thymus (0%)</text>
<line x1="443.8" y1="444.6" x2="453.6" y2="425.5" stroke="#000" stroke-width="1.3"/>
<text x="454.4" y="427.3" font-family='"Liberation Serif", "Times New Roman", Times, serif' font-size="8.7" text-anchor="start" font-weight="normal" stroke="#000" stroke-width="0.2">PP (0.5%)</text>
<line x1="443.8" y1="446.2" x2="453.6" y2="435.5" stroke="#000" stroke-width="1.3"/>
<text x="454.4" y="436.6" font-family='"Liberation Serif", "Times New Roman", Times, serif' font-size="8.7" text-anchor="start" font-weight="normal" stroke="#000" stroke-width="0.2">ILN (2%)</text>
<line x1="443.8" y1="448" x2="453.6" y2="445.5" stroke="#000" stroke-width="1.3"/>
<text x="454.4" y="447.8" font-family='"Liberation Serif", "Times New Roman", Times, serif' font-size="8.7" text-anchor="start" font-weight="normal" stroke="#000" stroke-width="0.2">MLN (0%)</text>
</svg>
</body></html>
